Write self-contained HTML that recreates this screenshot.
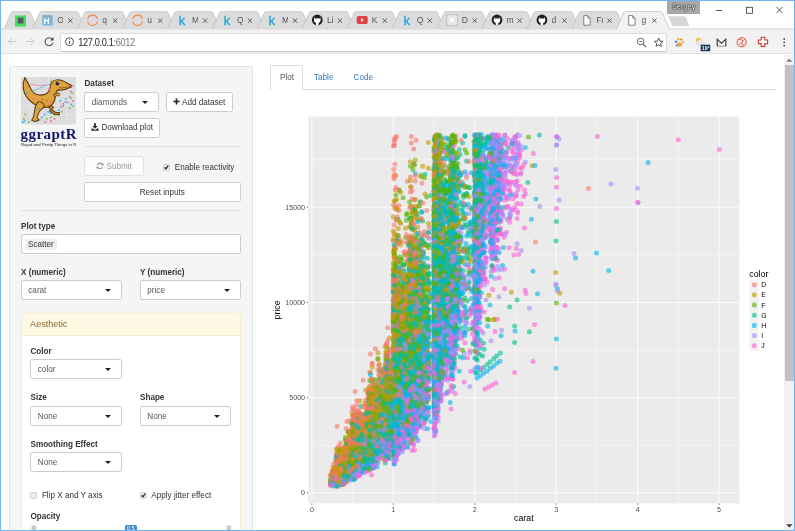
<!DOCTYPE html><html><head><meta charset="utf-8"><title>ggraptR</title><style>
html,body{margin:0;padding:0;}
body{width:795px;height:531px;overflow:hidden;background:#fff;font-family:"Liberation Sans",sans-serif;font-size:8.15px;color:#333;position:relative;}
*{box-sizing:border-box;}
.abs{position:absolute;}
#win{position:absolute;left:0;top:0;width:795px;height:531px;border:1px solid #74b4ee;overflow:hidden;background:#fff;}
#toolbar{position:absolute;left:0;top:28.5px;width:793px;height:24.5px;background:#f2f2f2;border-bottom:1px solid #e2e2e2;}
#omni{position:absolute;left:58.7px;top:32px;width:607.3px;height:18.6px;background:#fff;border:1px solid #dadada;border-bottom-color:#c8c8c8;border-radius:2px;}
#url{position:absolute;left:77.3px;top:36.5px;font-size:9.2px;line-height:11px;color:#222;letter-spacing:-0.35px;transform:scaleY(1.16);transform-origin:0 78%;}
#url span{color:#777;}
.tt{position:absolute;top:14.4px;font-size:8.5px;line-height:11px;color:#555;width:6.2px;overflow:hidden;white-space:nowrap;}
.tx{position:absolute;top:13.6px;font-size:8.4px;line-height:10px;color:#555;}
#user{position:absolute;left:666px;top:0;width:33.3px;height:12.7px;background:#a9a9a9;color:#fff;font-size:7.4px;line-height:12.6px;text-align:center;text-shadow:0 0 1.2px #000,0 0 1.2px #000,0 0 0.8px #000;}
#page{position:absolute;left:0;top:53.5px;width:783px;height:476px;background:#fff;overflow:hidden;}
.well{position:absolute;left:8px;top:11.5px;width:244px;height:480px;background:#f5f5f5;border:1px solid #e3e3e3;border-radius:2.3px;}
.lbl{position:absolute;font-weight:bold;font-size:8.15px;line-height:11.3px;color:#333;white-space:nowrap;}
.txt{position:absolute;font-size:8.15px;line-height:11.3px;color:#333;white-space:nowrap;}
.sel{position:absolute;height:19.9px;background:#fff;border:1px solid #ccc;border-radius:2.3px;font-size:8.15px;line-height:18.6px;padding-top:0.8px;padding-left:6.8px;color:#555;white-space:nowrap;}
.sel:after{content:"";position:absolute;right:10px;top:7.6px;border-left:3px solid transparent;border-right:3px solid transparent;border-top:3.2px solid #222;}
.sel.na:after{display:none;}
.btn{position:absolute;height:19.9px;background:#fff;border:1px solid #ccc;border-radius:2.3px;font-size:8.15px;line-height:18.6px;padding-top:0.6px;color:#333;text-align:center;white-space:nowrap;}
.hr{position:absolute;height:1px;background:#e2e2e2;}
.cb{position:absolute;width:6px;height:6px;border:0.7px solid #a6a6a6;background:#f6f6f6;border-radius:1.2px;}
.cb.on:after{content:"";position:absolute;left:1.3px;top:-0.2px;width:1.6px;height:3.2px;border-right:1.1px solid #222;border-bottom:1.1px solid #222;transform:rotate(40deg);}
#aes{position:absolute;left:19.6px;top:258.6px;width:220.6px;height:240px;background:#fff;border:1px solid #faebcc;border-radius:2.3px;}
#aesh{position:absolute;left:0;top:0;width:218.6px;height:22px;background:#fcf8e3;border-bottom:1px solid #faebcc;color:#8a6d3b;font-size:9.07px;line-height:21.4px;padding-left:8.5px;}
.nav{position:absolute;font-size:8.15px;line-height:11.3px;color:#337ab7;}
#navline{position:absolute;left:268.7px;top:34.6px;width:506.3px;height:1px;background:#ddd;}
#navact{position:absolute;left:268.7px;top:10.8px;width:33.6px;height:24.8px;border:1px solid #ddd;border-bottom:1px solid #fff;border-radius:2.3px 2.3px 0 0;background:#fff;}
#sb{position:absolute;left:783px;top:53.5px;width:10px;height:476px;background:#f1f1f1;}
#sbt{position:absolute;left:0.6px;top:10.2px;width:9.4px;height:316.3px;background:#c1c1c1;}
</style></head><body><div id="win">
<svg class="abs" style="left:-1px;top:-1px" width="795" height="31" viewBox="0 0 795 31"><rect x="0" y="28.6" width="795" height="0.8" fill="#bdbdbd"/><path d="M4.0 29 L11.0 13.0 Q11.6 11.6 13.0 11.6 L28.5 11.6 Q29.9 11.6 30.5 13.0 L37.5 29" fill="#dcdcdc" stroke="#b9b9b9" stroke-width="0.6"/><path d="M32.5 29 L39.5 13.0 Q40.1 11.6 41.5 11.6 L76.3 11.6 Q77.7 11.6 78.3 13.0 L85.3 29" fill="#dcdcdc" stroke="#b9b9b9" stroke-width="0.6"/><path d="M77.4 29 L84.4 13.0 Q85.0 11.6 86.4 11.6 L121.2 11.6 Q122.6 11.6 123.2 13.0 L130.2 29" fill="#dcdcdc" stroke="#b9b9b9" stroke-width="0.6"/><path d="M122.4 29 L129.4 13.0 Q130.0 11.6 131.4 11.6 L166.2 11.6 Q167.6 11.6 168.2 13.0 L175.2 29" fill="#dcdcdc" stroke="#b9b9b9" stroke-width="0.6"/><path d="M167.3 29 L174.3 13.0 Q174.9 11.6 176.3 11.6 L211.1 11.6 Q212.5 11.6 213.1 13.0 L220.1 29" fill="#dcdcdc" stroke="#b9b9b9" stroke-width="0.6"/><path d="M212.2 29 L219.2 13.0 Q219.8 11.6 221.2 11.6 L256.0 11.6 Q257.4 11.6 258.0 13.0 L265.0 29" fill="#dcdcdc" stroke="#b9b9b9" stroke-width="0.6"/><path d="M257.1 29 L264.1 13.0 Q264.8 11.6 266.1 11.6 L300.9 11.6 Q302.3 11.6 302.9 13.0 L309.9 29" fill="#dcdcdc" stroke="#b9b9b9" stroke-width="0.6"/><path d="M302.1 29 L309.1 13.0 Q309.7 11.6 311.1 11.6 L345.9 11.6 Q347.3 11.6 347.9 13.0 L354.9 29" fill="#dcdcdc" stroke="#b9b9b9" stroke-width="0.6"/><path d="M347.0 29 L354.0 13.0 Q354.6 11.6 356.0 11.6 L390.8 11.6 Q392.2 11.6 392.8 13.0 L399.8 29" fill="#dcdcdc" stroke="#b9b9b9" stroke-width="0.6"/><path d="M391.9 29 L398.9 13.0 Q399.5 11.6 400.9 11.6 L435.7 11.6 Q437.1 11.6 437.7 13.0 L444.7 29" fill="#dcdcdc" stroke="#b9b9b9" stroke-width="0.6"/><path d="M436.9 29 L443.9 13.0 Q444.5 11.6 445.9 11.6 L480.7 11.6 Q482.1 11.6 482.7 13.0 L489.7 29" fill="#dcdcdc" stroke="#b9b9b9" stroke-width="0.6"/><path d="M481.8 29 L488.8 13.0 Q489.4 11.6 490.8 11.6 L525.6 11.6 Q527.0 11.6 527.6 13.0 L534.6 29" fill="#dcdcdc" stroke="#b9b9b9" stroke-width="0.6"/><path d="M526.7 29 L533.7 13.0 Q534.3 11.6 535.7 11.6 L570.5 11.6 Q571.9 11.6 572.5 13.0 L579.5 29" fill="#dcdcdc" stroke="#b9b9b9" stroke-width="0.6"/><path d="M571.7 29 L578.7 13.0 Q579.3 11.6 580.7 11.6 L615.5 11.6 Q616.9 11.6 617.5 13.0 L624.5 29" fill="#dcdcdc" stroke="#b9b9b9" stroke-width="0.6"/><path d="M667.8 16.3 L684.5 16.3 Q685.4 16.3 685.8 17.2 L689.3 26.3 L673.8 26.3 Q672.8 26.3 672.3 25.3 Z" fill="#d6d6d6"/><path d="M616.6 29 L623.6 13.0 Q624.2 11.6 625.6 11.6 L660.4 11.6 Q661.8 11.6 662.4 13.0 L669.4 29" fill="#f2f2f2" stroke="#b0b0b0" stroke-width="0.6"/><rect x="617.2" y="28.5" width="51.6" height="1.4" fill="#f2f2f2"/><rect x="42.2" y="15" width="10.5" height="10.5" rx="1" fill="#7fb2d6"/><text x="43.400000000000006" y="23.5" font-family="Liberation Sans,sans-serif" font-size="8.5" font-weight="bold" fill="#fff">H</text><path d="M87.7 19.1 A5 5 0 0 1 97.5 19.1" fill="none" stroke="#f08a45" stroke-width="1.15"/><path d="M87.7 21.5 A5 5 0 0 0 97.5 21.5" fill="none" stroke="#f08a45" stroke-width="1.15"/><path d="M132.7 19.1 A5 5 0 0 1 142.5 19.1" fill="none" stroke="#f08a45" stroke-width="1.15"/><path d="M132.7 21.5 A5 5 0 0 0 142.5 21.5" fill="none" stroke="#f08a45" stroke-width="1.15"/><text x="178.8" y="25" font-family="Liberation Sans,sans-serif" font-size="13" fill="#22a6dc" stroke="#22a6dc" stroke-width="0.35">k</text><text x="223.7" y="25" font-family="Liberation Sans,sans-serif" font-size="13" fill="#22a6dc" stroke="#22a6dc" stroke-width="0.35">k</text><text x="268.6" y="25" font-family="Liberation Sans,sans-serif" font-size="13" fill="#22a6dc" stroke="#22a6dc" stroke-width="0.35">k</text><circle cx="317.28" cy="20" r="5.4" fill="#1b1f23"/><path d="M314.38 16.8 L315.08 18.7 Q317.28 18 319.47999999999996 18.7 L320.17999999999995 16.8 L320.58 19.6 Q320.88 22.6 318.58 22.8 L318.58 25.4 L315.97999999999996 25.4 L315.97999999999996 22.8 Q313.67999999999995 22.6 313.97999999999996 19.6 Z" fill="#fff"/><rect x="356.71" y="16" width="11" height="8" rx="2" fill="#e0413e"/><path d="M361.01 18 L364.01 20 L361.01 22 Z" fill="#fff"/><text x="403.4" y="25" font-family="Liberation Sans,sans-serif" font-size="13" fill="#22a6dc" stroke="#22a6dc" stroke-width="0.35">k</text><rect x="446.87" y="14.8" width="10.5" height="10.5" fill="#eee" stroke="#888" stroke-width="0.7" stroke-dasharray="1 0.8"/><circle cx="452.07" cy="20" r="3.2" fill="#fff" stroke="#bbb" stroke-width="0.5"/><circle cx="497.0" cy="20" r="5.4" fill="#1b1f23"/><path d="M494.1 16.8 L494.8 18.7 Q497.0 18 499.2 18.7 L499.9 16.8 L500.3 19.6 Q500.6 22.6 498.3 22.8 L498.3 25.4 L495.7 25.4 L495.7 22.8 Q493.4 22.6 493.7 19.6 Z" fill="#fff"/><circle cx="541.9300000000001" cy="20" r="5.4" fill="#1b1f23"/><path d="M539.0300000000001 16.8 L539.73 18.7 Q541.9300000000001 18 544.1300000000001 18.7 L544.83 16.8 L545.23 19.6 Q545.5300000000001 22.6 543.23 22.8 L543.23 25.4 L540.6300000000001 25.4 L540.6300000000001 22.8 Q538.33 22.6 538.6300000000001 19.6 Z" fill="#fff"/><path d="M583.8 15.6 H587.7 L590.2 18.1 V25.2 H583.8 Z" fill="#fff" stroke="#666" stroke-width="0.8"/><path d="M587.7 15.6 V18.1 H590.2" fill="none" stroke="#666" stroke-width="0.7"/><path d="M628.7 15.6 H632.6 L635.1 18.1 V25.2 H628.7 Z" fill="#fff" stroke="#666" stroke-width="0.8"/><path d="M632.6 15.6 V18.1 H635.1" fill="none" stroke="#666" stroke-width="0.7"/><rect x="15" y="15.5" width="11" height="11" fill="#3fe05f"/><rect x="17.8" y="17.7" width="5.6" height="5.8" fill="#5a5560"/><path d="M68.2 18.5 L72.4 22.7 M72.4 18.5 L68.2 22.7" stroke="#505050" stroke-width="0.95" fill="none"/><path d="M113.1 18.5 L117.3 22.7 M117.3 18.5 L113.1 22.7" stroke="#505050" stroke-width="0.95" fill="none"/><path d="M158.1 18.5 L162.3 22.7 M162.3 18.5 L158.1 22.7" stroke="#505050" stroke-width="0.95" fill="none"/><path d="M203.0 18.5 L207.2 22.7 M207.2 18.5 L203.0 22.7" stroke="#505050" stroke-width="0.95" fill="none"/><path d="M247.9 18.5 L252.1 22.7 M252.1 18.5 L247.9 22.7" stroke="#505050" stroke-width="0.95" fill="none"/><path d="M292.8 18.5 L297.1 22.7 M297.1 18.5 L292.8 22.7" stroke="#505050" stroke-width="0.95" fill="none"/><path d="M337.8 18.5 L342.0 22.7 M342.0 18.5 L337.8 22.7" stroke="#505050" stroke-width="0.95" fill="none"/><path d="M382.7 18.5 L386.9 22.7 M386.9 18.5 L382.7 22.7" stroke="#505050" stroke-width="0.95" fill="none"/><path d="M427.6 18.5 L431.8 22.7 M431.8 18.5 L427.6 22.7" stroke="#505050" stroke-width="0.95" fill="none"/><path d="M472.6 18.5 L476.8 22.7 M476.8 18.5 L472.6 22.7" stroke="#505050" stroke-width="0.95" fill="none"/><path d="M517.5 18.5 L521.7 22.7 M521.7 18.5 L517.5 22.7" stroke="#505050" stroke-width="0.95" fill="none"/><path d="M562.4 18.5 L566.6 22.7 M566.6 18.5 L562.4 22.7" stroke="#505050" stroke-width="0.95" fill="none"/><path d="M607.4 18.5 L611.6 22.7 M611.6 18.5 L607.4 22.7" stroke="#505050" stroke-width="0.95" fill="none"/><path d="M652.3 18.5 L656.5 22.7 M656.5 18.5 L652.3 22.7" stroke="#505050" stroke-width="0.95" fill="none"/><path d="M716 10.5 H722" stroke="#333" stroke-width="0.8"/><rect x="746.5" y="7.3" width="6" height="6" fill="none" stroke="#333" stroke-width="0.8"/><path d="M776.5 7 L782.5 13 M782.5 7 L776.5 13" stroke="#333" stroke-width="0.8"/></svg>
<div class="tt" style="left:56.3px">O</div>
<div class="tt" style="left:101.2px">q</div>
<div class="tt" style="left:146.2px">u</div>
<div class="tt" style="left:191.1px">M</div>
<div class="tt" style="left:236.0px">Q</div>
<div class="tt" style="left:280.9px">M</div>
<div class="tt" style="left:325.9px">Li</div>
<div class="tt" style="left:370.8px">K</div>
<div class="tt" style="left:415.7px">Q</div>
<div class="tt" style="left:460.7px">D</div>
<div class="tt" style="left:505.6px">m</div>
<div class="tt" style="left:550.5px">d</div>
<div class="tt" style="left:595.5px">Fr</div>
<div class="tt" style="left:640.4px">g</div>
<div id="user">Sergey</div>
<div id="toolbar"></div><div id="omni"></div>
<div id="url">127.0.0.1<span>:6012</span></div>
<svg class="abs" style="left:-1px;top:-1px" width="795" height="60" viewBox="0 0 795 60"><path d="M16.5 41.5 H8.5 M12 38 L8.5 41.5 L12 45" fill="none" stroke="#cacaca" stroke-width="1"/><path d="M26 41.5 H34 M30.5 38 L34 41.5 L30.5 45" fill="none" stroke="#cacaca" stroke-width="1"/><path d="M52.2 39.2 A4 4 0 1 0 53 42.6" fill="none" stroke="#4a4a4a" stroke-width="1.05"/><path d="M53.5 37 V40.4 H50.1 Z" fill="#4a4a4a"/><circle cx="69.5" cy="41.7" r="4" fill="none" stroke="#444" stroke-width="0.9"/><path d="M69.5 40.9 V44 M69.5 39.2 V40" stroke="#444" stroke-width="0.9"/><g transform="translate(1.2 0.7)"><circle cx="639.5" cy="40.8" r="3.3" fill="none" stroke="#555" stroke-width="0.9"/><path d="M642 43.4 L645 46.4" stroke="#555" stroke-width="1.1"/><path d="M638 40.8 H641" stroke="#555" stroke-width="0.8"/><polygon points="657.5,37.4 658.7,40.4 661.9,40.6 659.4,42.6 660.2,45.7 657.5,44.0 654.8,45.7 655.6,42.6 653.1,40.6 656.3,40.4" fill="none" stroke="#444" stroke-width="0.9"/><g transform="translate(-1.5 0)"><circle cx="676.3" cy="41" r="1.3" fill="#4a90d9"/><circle cx="678.6" cy="38.6" r="1.3" fill="#e8b53a"/><circle cx="681.6" cy="38.8" r="1.3" fill="#e9903a"/><circle cx="683.4" cy="41.4" r="1.2" fill="#e8b53a"/><ellipse cx="679.8" cy="43.8" rx="2.6" ry="2.2" fill="#e9a23a"/><circle cx="677" cy="44.8" r="1" fill="#4a90d9"/></g><circle cx="697.5" cy="40" r="3" fill="#f2c43d"/><path d="M696 44.5 a2.2 2.2 0 0 1 1 -4.2 a3 3 0 0 1 5.6 0.6 a1.9 1.9 0 0 1 0.2 3.6 Z" fill="#e6e6e6" stroke="#cfcfcf" stroke-width="0.3"/><rect x="699.5" y="44" width="9.5" height="6.5" fill="#1d2f5f"/><text x="700.6" y="49.4" font-family="Liberation Sans,sans-serif" font-size="5.2" font-weight="bold" fill="#fff">19°</text><path d="M716 45.5 V38.5 L720.3 42.5 L724.6 38.5 V45.5" fill="none" stroke="#333" stroke-width="1.1"/><path d="M716 45.5 H724.6" stroke="#333" stroke-width="0.5"/><circle cx="740.5" cy="41.5" r="4.6" fill="#fbe9e7" stroke="#e0533d" stroke-width="1"/><path d="M738 38.8 Q743 38.8 741 41.5 Q738.5 44 743 44.4" fill="none" stroke="#e0533d" stroke-width="1"/><path d="M737.4 44.6 L743.6 38.4" stroke="#e0533d" stroke-width="0.6"/><path transform="translate(1 -0.5)" d="M759 37 H762.6 V39.8 H765.4 V43.4 H762.6 V46.2 H759 V43.4 H756.2 V39.8 H759 Z" fill="#fff" stroke="#cf3b2e" stroke-width="1.1"/><circle cx="783" cy="38.3" r="0.9" fill="#444"/><circle cx="783" cy="41.6" r="0.9" fill="#444"/><circle cx="783" cy="44.9" r="0.9" fill="#444"/></g></svg>
<div id="page">
<div class="well"></div>
<svg class="abs" style="left:20.0px;top:22.9px" width="54.8" height="47.6" viewBox="35 38 383 332"><rect x="35" y="38" width="383" height="332" fill="#dcdcdc"/><path d="M35 104H418M35 170H418M35 236H418M35 302H418M99 38V370M163 38V370M227 38V370M291 38V370M355 38V370" stroke="#e9e9e9" stroke-width="5" fill="none"/><polyline points="72,92 86,86 97,98 110,86 122,97 136,90 150,101 166,95 186,100 200,92 215,98" stroke="#f36aa8" fill="none" stroke-width="5"/><polyline points="78,160 112,138 150,122 200,100 245,84" stroke="#4dbbe8" fill="none" stroke-width="5"/><rect x="394" y="94" width="12" height="12" fill="#f36aa8"/><rect x="379" y="134" width="12" height="12" fill="#f36aa8"/><rect x="369" y="169" width="12" height="12" fill="#f36aa8"/><rect x="392" y="199" width="12" height="12" fill="#f36aa8"/><rect x="309" y="239" width="12" height="12" fill="#f36aa8"/><rect x="264" y="324" width="12" height="12" fill="#f36aa8"/><rect x="239" y="339" width="12" height="12" fill="#f36aa8"/><rect x="199" y="346" width="12" height="12" fill="#f36aa8"/><rect x="324" y="219" width="12" height="12" fill="#f36aa8"/><rect x="114" y="189" width="12" height="12" fill="#f36aa8"/><rect x="354" y="209" width="12" height="12" fill="#f36aa8"/><rect x="344" y="184" width="12" height="12" fill="#3fb4ea"/><rect x="324" y="234" width="12" height="12" fill="#3fb4ea"/><rect x="294" y="264" width="12" height="12" fill="#3fb4ea"/><rect x="234" y="284" width="12" height="12" fill="#3fb4ea"/><rect x="174" y="314" width="12" height="12" fill="#3fb4ea"/><rect x="144" y="339" width="12" height="12" fill="#3fb4ea"/><rect x="54" y="339" width="12" height="12" fill="#3fb4ea"/><rect x="42" y="346" width="12" height="12" fill="#3fb4ea"/><rect x="304" y="199" width="12" height="12" fill="#3fb4ea"/><rect x="379" y="224" width="12" height="12" fill="#3fb4ea"/><rect x="339" y="206" width="12" height="12" fill="#3fb4ea"/><rect x="194" y="294" width="12" height="12" fill="#3fb4ea"/><rect x="219" y="276" width="12" height="12" fill="#3fb4ea"/><rect x="389" y="144" width="12" height="12" fill="#7dc243"/><rect x="379" y="179" width="12" height="12" fill="#7dc243"/><rect x="394" y="234" width="12" height="12" fill="#7dc243"/><rect x="369" y="249" width="12" height="12" fill="#7dc243"/><rect x="294" y="299" width="12" height="12" fill="#7dc243"/><rect x="239" y="314" width="12" height="12" fill="#7dc243"/><rect x="159" y="329" width="12" height="12" fill="#7dc243"/><rect x="84" y="346" width="12" height="12" fill="#7dc243"/><rect x="59" y="294" width="12" height="12" fill="#7dc243"/><rect x="49" y="324" width="12" height="12" fill="#7dc243"/><rect x="314" y="274" width="12" height="12" fill="#7dc243"/><rect x="274" y="294" width="12" height="12" fill="#7dc243"/><rect x="209" y="324" width="12" height="12" fill="#7dc243"/><path d="M225 222 L262 248 L250 268 L276 284 L304 286 L300 300 L268 300 L236 276 L238 254 L205 238 Z" fill="#c4842a" stroke="#5e3b12" stroke-width="7" stroke-linejoin="round"/><path d="M62 42 C40 95 48 165 100 205 C120 222 140 234 158 246 C185 258 228 252 248 234 C268 214 274 192 276 168 C278 148 282 134 292 128 C322 134 352 126 386 108 C390 99 384 90 374 89 C357 85 347 70 320 62 C295 54 262 56 247 80 C237 98 240 122 228 140 C216 156 192 164 170 164 C140 164 114 148 100 112 C88 88 76 66 62 42 Z" fill="#dfa23c" stroke="#5e3b12" stroke-width="8" stroke-linejoin="round"/><path d="M300 112 C330 116 355 110 378 102" fill="none" stroke="#5e3b12" stroke-width="4"/><path d="M150 236 C185 250 225 246 245 228 C225 236 185 238 150 222 Z" fill="#c4842a"/><path d="M150 215 C165 205 195 215 198 240 C190 262 165 268 158 290 L148 322 L160 340 L128 348 L110 340 L122 318 L128 285 C130 262 135 240 150 215 Z" fill="#dfa23c" stroke="#5e3b12" stroke-width="7" stroke-linejoin="round"/><path d="M262 160 L298 148 L306 160 L298 172 L288 166 L270 176 Z" fill="#dfa23c" stroke="#5e3b12" stroke-width="6" stroke-linejoin="round"/><ellipse cx="290" cy="83" rx="13" ry="14" fill="#1c2436"/><circle cx="294" cy="78" r="3.5" fill="#fff"/><rect x="226" y="114" width="12" height="12" fill="#f36aa8"/><rect x="239" y="62" width="12" height="12" fill="#7dc243"/><rect x="69" y="144" width="12" height="12" fill="#3fb4ea"/><rect x="114" y="184" width="12" height="12" fill="#f36aa8"/><rect x="154" y="256" width="12" height="12" fill="#3fb4ea"/><rect x="239" y="209" width="12" height="12" fill="#f36aa8"/><rect x="179" y="189" width="12" height="12" fill="#b97922"/><rect x="209" y="199" width="12" height="12" fill="#b97922"/></svg>
<div class="abs" style="left:19.6px;top:69.3px;font-family:'Liberation Serif',serif;font-weight:bold;font-size:15px;line-height:20px;color:#14146e;letter-spacing:0.45px">ggraptR</div>
<div class="abs" style="left:20.0px;top:88.1px;width:200px;font-size:8px;line-height:8px;color:#222;white-space:nowrap;transform:scale(0.54);transform-origin:0 0">Rapid and Pretty Things in R</div>
<div class="lbl" style="left:83.5px;top:23.8px">Dataset</div>
<div class="sel" style="left:83.0px;top:37.8px;width:74.6px">diamonds</div>
<div class="btn" style="left:164.5px;top:37.8px;width:67.6px;"><svg width="7" height="7" viewBox="0 0 7 7" style="vertical-align:-0.6px"><path d="M3.5 0.4V6.6M0.4 3.5H6.6" stroke="#222" stroke-width="1.7" fill="none"/></svg> Add dataset</div>
<div class="btn" style="left:83.0px;top:63.2px;width:76.1px;"><svg width="8" height="8" viewBox="0 0 8 8" style="vertical-align:-1px"><path d="M3 0.3 H5 V3 H6.8 L4 5.8 L1.2 3 H3 Z" fill="#333"/><path d="M0.4 5.6 H2 L4 7 L6 5.6 H7.6 V7.7 H0.4 Z" fill="#333"/></svg> Download plot</div>
<div class="hr" style="left:83.5px;top:91.8px;width:157px"></div>
<div class="btn" style="left:83.0px;top:101.6px;width:60.1px;color:#9a9a9a;border-color:#e0e0e0;background:#fcfcfc"><svg width="8" height="8" viewBox="0 0 8 8" style="vertical-align:-1px"><path d="M6.6 3 A2.8 2.8 0 0 0 1.4 3" fill="none" stroke="#999" stroke-width="1.3"/><path d="M1.4 5 A2.8 2.8 0 0 0 6.6 5" fill="none" stroke="#999" stroke-width="1.1"/><path d="M7.6 0.9 V3.5 H5 Z M0.4 7.1 V4.5 H3 Z" fill="#999"/></svg> Submit</div>
<svg class="abs" style="left:161.8px;top:109.5px" width="7" height="7" viewBox="0 0 7 7"><rect x="0.4" y="0.4" width="6" height="5.9" rx="1.2" fill="#ededed" stroke="#b3b3b3" stroke-width="0.6"/><path d="M1.6 3.4 L2.9 4.8 L5.2 1.7" fill="none" stroke="#1c1c1c" stroke-width="1.25"/></svg>
<div class="txt" style="left:173.8px;top:107.6px;">Enable reactivity</div>
<div class="btn" style="left:83.0px;top:127.7px;width:156.6px;">Reset inputs</div>
<div class="hr" style="left:20.0px;top:155.5px;width:220.5px"></div>
<div class="lbl" style="left:20.0px;top:166.6px">Plot type</div>
<div class="sel na" style="left:19.5px;top:179.5px;width:220.2px;padding-left:3.4px"><span style="background:#efefef;padding:1.1px 3.1px;border-radius:1.5px;color:#333">Scatter</span></div>
<div class="lbl" style="left:20.0px;top:212.6px">X (numeric)</div>
<div class="lbl" style="left:139.0px;top:212.6px">Y (numeric)</div>
<div class="sel" style="left:19.5px;top:225.8px;width:101.1px">carat</div>
<div class="sel" style="left:138.5px;top:225.8px;width:101.1px">price</div>
<div id="aes"><div id="aesh">Aesthetic</div></div>
<div class="lbl" style="left:29.5px;top:291.4px">Color</div>
<div class="sel" style="left:29.0px;top:304.7px;width:91.6px">color</div>
<div class="lbl" style="left:29.5px;top:337.9px">Size</div>
<div class="lbl" style="left:139.0px;top:337.9px">Shape</div>
<div class="sel" style="left:29.0px;top:351.7px;width:91.6px">None</div>
<div class="sel" style="left:138.5px;top:351.7px;width:91.6px">None</div>
<div class="lbl" style="left:29.5px;top:384.1px">Smoothing Effect</div>
<div class="sel" style="left:29.0px;top:397.7px;width:91.6px">None</div>
<svg class="abs" style="left:29.2px;top:437.7px" width="7" height="7" viewBox="0 0 7 7"><rect x="0.4" y="0.4" width="6" height="5.9" rx="1.2" fill="#ededed" stroke="#b3b3b3" stroke-width="0.6"/></svg>
<div class="txt" style="left:40.9px;top:435.9px;">Flip X and Y axis</div>
<svg class="abs" style="left:139.1px;top:437.7px" width="7" height="7" viewBox="0 0 7 7"><rect x="0.4" y="0.4" width="6" height="5.9" rx="1.2" fill="#ededed" stroke="#b3b3b3" stroke-width="0.6"/><path d="M1.6 3.4 L2.9 4.8 L5.2 1.7" fill="none" stroke="#1c1c1c" stroke-width="1.25"/></svg>
<div class="txt" style="left:150.3px;top:435.9px;">Apply jitter effect</div>
<div class="lbl" style="left:29.5px;top:456.4px">Opacity</div>
<div class="abs" style="left:30.0px;top:470.7px;width:5.5px;height:8px;background:#e1e4e9;border-radius:1.5px;font-size:5.6px;line-height:7px;text-align:center;color:#888">0</div>
<div class="abs" style="left:225.0px;top:470.7px;width:5.5px;height:8px;background:#e1e4e9;border-radius:1.5px;font-size:5.6px;line-height:7px;text-align:center;color:#888">1</div>
<div class="abs" style="left:123.5px;top:470.5px;width:12.5px;height:8px;background:#428bca;border-radius:1.5px;font-size:5.6px;line-height:7.4px;text-align:center;color:#fff">0.5</div>
<div id="navline"></div><div id="navact"></div>
<div class="nav" style="left:279.0px;top:17.7px;color:#555">Plot</div>
<div class="nav" style="left:313.0px;top:17.7px">Table</div>
<div class="nav" style="left:352.6px;top:17.7px">Code</div>
<svg class="abs" style="left:0;top:0" width="785" height="476" viewBox="1 54.5 785 476" font-family="Liberation Sans,sans-serif">
<rect x="308.3" y="116.0" width="431.0" height="386.9" fill="#ebebeb"/>
<path d="M352.6 116.0V502.9M434.1 116.0V502.9M515.5 116.0V502.9M596.9 116.0V502.9M678.4 116.0V502.9M308.3 444.7H739.3M308.3 349.6H739.3M308.3 254.4H739.3M308.3 159.2H739.3" stroke="#f9f9f9" stroke-width="0.6" fill="none"/>
<path d="M311.9 116.0V502.9M393.3 116.0V502.9M474.8 116.0V502.9M556.2 116.0V502.9M637.7 116.0V502.9M719.1 116.0V502.9M308.3 492.3H739.3M308.3 397.1H739.3M308.3 302.0H739.3M308.3 206.8H739.3" stroke="#fff" stroke-width="0.9" stroke-opacity="0.92" fill="none"/>
<g fill="none" stroke-linecap="round" stroke-width="5.0" stroke-opacity="0.6">
<path stroke="#00B6EB" d="M491.9 218.3h0M474.0 172.4h0M420.2 336.4h0M492.7 216.9h0M500.0 197.3h0M444.6 254.9h0M492.7 194.5h0M439.8 239.2h0M500.8 180.2h0M491.1 241.4h0M405.6 351.8h0M453.6 262.7h0M455.2 222.9h0M439.8 330.7h0M355.1 478.2h0M377.9 407.3h0M382.8 407.0h0M436.5 385.4h0M434.9 379.8h0M475.6 296.7h0M434.1 359.4h0M434.9 245.9h0M456.0 240.8h0M426.7 305.5h0M418.6 327.3h0M498.4 171.9h0M476.4 189.5h0M375.4 452.7h0M475.6 152.9h0M474.8 268.2h0M450.3 260.3h0M417.8 414.0h0M457.7 182.5h0M452.8 235.9h0M434.1 357.2h0M452.0 302.2h0M451.2 316.1h0M459.3 270.6h0M491.9 148.6h0M500.0 360.8h0M434.9 281.2h0M397.4 327.6h0M499.2 182.7h0M477.2 269.0h0M404.7 372.0h0M438.1 382.5h0M434.9 336.0h0M435.7 305.9h0M401.5 412.5h0M475.6 263.3h0M437.3 269.6h0M475.6 194.4h0M419.4 380.4h0M405.6 364.7h0M434.9 418.0h0M492.7 196.8h0M435.7 393.9h0M364.0 450.1h0M434.9 322.8h0M415.3 346.8h0M402.3 411.0h0M447.1 293.6h0M436.5 322.3h0M452.0 275.7h0M490.3 219.6h0M412.1 406.4h0M409.6 357.4h0M397.4 415.3h0M451.2 348.5h0M452.8 324.0h0M404.7 419.0h0M410.4 413.0h0M434.9 406.7h0M448.7 325.8h0M364.8 432.0h0M398.2 422.2h0M482.9 179.8h0M477.2 200.9h0M449.5 215.9h0M487.0 193.2h0M410.4 343.3h0M365.7 453.0h0M379.5 413.0h0M429.2 368.5h0M411.3 329.8h0M404.7 309.0h0M409.6 415.9h0M364.8 450.0h0M475.6 206.7h0M455.2 265.5h0M406.4 402.9h0M380.3 428.9h0M393.3 388.4h0M389.3 400.4h0M370.5 458.9h0M397.4 375.9h0M353.4 461.4h0M450.3 223.7h0M474.8 193.5h0M345.3 478.3h0M399.0 361.6h0M345.3 480.5h0M345.3 476.7h0"/>
<path stroke="#53B400" d="M449.5 249.7h0M474.0 140.8h0M475.6 164.3h0M452.8 136.1h0M422.7 398.4h0M402.3 350.9h0M434.1 379.0h0M438.1 397.8h0M453.6 212.0h0M408.0 303.8h0M413.7 314.1h0M426.7 280.1h0M406.4 214.2h0M476.4 178.6h0M414.5 367.4h0M439.8 253.8h0M360.8 415.4h0M368.1 418.8h0M407.2 312.2h0M404.7 321.3h0M423.5 319.4h0M434.1 169.3h0M447.9 232.0h0M334.7 471.8h0M401.5 306.5h0M436.5 249.6h0M419.4 326.6h0M446.3 155.8h0M392.5 361.0h0M435.7 316.5h0M434.9 151.7h0M451.2 358.6h0M358.3 431.7h0M408.0 371.7h0M378.7 443.5h0M456.0 166.4h0M434.1 265.2h0M413.7 296.9h0M409.6 376.6h0M351.0 453.0h0M413.7 310.0h0M359.9 436.7h0M397.4 418.8h0M434.9 281.8h0M409.6 385.5h0M397.4 409.7h0M487.2 318.7h0M418.6 373.4h0M489.4 171.3h0M480.5 236.0h0M397.4 426.2h0M476.4 259.8h0M434.9 248.8h0M399.9 331.5h0M400.7 383.4h0M394.2 342.6h0M394.2 388.8h0M338.8 466.5h0M394.2 356.4h0M331.4 478.2h0M352.6 472.6h0M410.4 360.8h0M386.0 389.1h0M428.4 360.7h0M475.6 183.6h0M356.7 454.1h0M372.2 453.6h0M390.9 431.5h0M371.4 453.5h0M393.3 398.1h0M345.3 459.5h0M355.9 457.1h0M338.8 472.0h0M355.1 462.1h0M397.4 350.6h0M410.4 297.0h0M390.1 403.7h0"/>
<path stroke="#C49A00" d="M372.2 401.3h0M412.1 267.4h0M382.8 396.5h0M381.9 398.7h0M417.0 240.8h0M386.0 376.2h0M333.1 472.3h0M401.5 328.3h0M393.3 270.4h0M390.1 378.2h0M368.9 410.1h0M411.3 206.1h0M414.5 283.6h0M443.8 273.2h0M437.3 272.9h0M434.1 223.9h0M435.7 174.1h0M399.0 343.4h0M437.3 163.3h0M375.4 410.7h0M422.7 339.3h0M396.6 330.2h0M372.2 397.7h0M409.6 315.6h0M410.4 310.2h0M435.7 297.0h0M405.6 421.2h0M456.0 217.3h0M399.9 339.2h0M438.1 312.8h0M435.7 205.6h0M360.8 429.5h0M418.6 341.3h0M451.2 235.0h0M397.4 324.4h0M435.7 289.4h0M359.9 440.3h0M400.7 368.3h0M399.9 293.2h0M419.4 279.1h0M400.7 346.5h0M412.9 270.7h0M410.4 357.2h0M443.0 298.7h0M398.2 334.8h0M376.2 422.1h0M398.2 343.1h0M414.5 317.0h0M417.8 296.9h0M411.3 276.4h0M402.3 388.5h0M409.6 364.5h0M372.2 398.6h0M369.7 405.0h0M434.1 224.8h0M399.9 420.7h0M394.2 363.9h0M346.9 452.7h0M397.4 365.3h0M355.1 477.4h0M373.0 427.9h0M417.8 342.9h0M395.8 344.4h0M361.6 454.8h0M439.8 299.1h0M412.1 217.8h0M356.7 458.7h0M394.2 249.4h0M400.7 351.0h0M438.1 248.5h0M355.9 454.5h0M348.5 467.2h0M403.9 326.7h0M381.1 423.0h0M354.2 460.9h0M354.2 462.3h0M340.4 468.6h0M339.6 474.1h0M362.4 456.7h0M336.3 473.8h0M338.8 476.9h0"/>
<path stroke="#F8766D" d="M436.5 263.8h0M396.6 321.9h0M345.3 445.2h0M409.6 291.4h0M393.3 297.0h0M387.6 379.7h0M359.1 430.0h0M407.2 282.7h0M394.2 278.3h0M387.6 327.2h0M376.2 385.5h0M397.4 297.1h0M377.1 412.9h0M394.2 286.3h0M368.9 392.3h0M355.1 416.9h0M352.6 423.5h0M373.8 408.8h0M390.1 419.6h0M357.5 471.1h0M362.4 450.7h0M356.7 400.3h0M410.4 345.0h0M360.8 441.9h0M352.6 406.2h0M386.8 356.9h0M452.8 177.7h0M448.7 205.8h0M398.2 284.5h0M400.7 266.9h0M405.6 252.6h0M415.3 314.5h0M460.9 256.9h0M412.9 321.7h0M368.9 400.5h0M373.0 433.7h0M346.9 440.5h0M382.8 422.7h0M423.5 275.6h0M413.7 258.5h0M434.1 239.7h0M350.2 466.9h0"/>
<path stroke="#A58AFF" d="M449.5 304.7h0M426.7 349.9h0M415.3 277.3h0M496.8 197.9h0M493.5 147.1h0M408.0 318.1h0M484.6 195.4h0M464.2 290.3h0M496.0 218.8h0M415.3 419.8h0M390.9 444.5h0M494.3 155.7h0M454.4 328.3h0M454.4 306.2h0M452.0 336.8h0M408.0 447.1h0M480.5 254.2h0M456.0 225.6h0M460.1 273.0h0M370.5 465.1h0M481.3 268.1h0M419.4 392.9h0M493.5 221.7h0M411.3 277.2h0M422.7 367.4h0M390.9 437.9h0M450.3 313.6h0M446.3 344.4h0M476.4 234.4h0M525.3 161.5h0M438.1 332.3h0M434.9 212.6h0M492.7 162.8h0M421.0 393.7h0M492.7 163.8h0M477.2 211.9h0M421.0 367.3h0M414.5 398.3h0M409.6 385.8h0M452.0 257.9h0M447.1 264.6h0M434.9 337.3h0M491.9 264.9h0M476.4 280.7h0M414.5 393.9h0M382.8 439.8h0M453.6 289.4h0M414.5 365.7h0M420.2 388.8h0M452.8 241.4h0M405.6 322.8h0M398.2 420.0h0M402.3 382.1h0M357.5 475.0h0M400.7 419.3h0M452.8 330.5h0M514.7 160.6h0M400.7 356.5h0M425.1 341.3h0M495.1 196.8h0M447.9 311.4h0M484.6 173.6h0M453.6 284.9h0M376.2 448.6h0M396.6 374.9h0M443.8 356.0h0M434.9 296.7h0M476.4 255.4h0M403.9 373.9h0M399.9 430.1h0M440.6 337.9h0M436.5 279.8h0M394.2 448.1h0M396.6 364.3h0M382.8 402.7h0M438.9 213.0h0M512.2 165.5h0M417.0 378.1h0M393.3 434.4h0M454.4 272.6h0M412.9 387.8h0M436.5 300.3h0M403.9 438.0h0M411.3 374.4h0M410.4 387.0h0M450.3 345.9h0M373.0 442.8h0M396.6 404.0h0M434.9 360.4h0M395.8 430.4h0M441.4 337.7h0"/>
<path stroke="#00C094" d="M399.0 261.0h0M428.4 414.9h0M444.6 331.2h0M438.9 157.0h0M484.0 348.8h0M438.1 356.3h0M434.9 141.4h0M403.9 264.1h0M386.8 366.6h0M527.8 182.0h0M447.9 310.1h0M434.9 201.3h0M418.6 367.4h0M425.9 418.4h0M425.1 331.2h0M482.1 246.1h0M421.8 318.3h0M409.6 278.5h0M456.9 184.1h0M440.6 382.6h0M476.4 135.7h0M476.4 246.0h0M419.4 343.8h0M412.9 312.7h0M435.7 406.6h0M494.3 149.1h0M434.9 325.5h0M439.8 320.1h0M414.5 311.7h0M415.3 334.6h0M414.5 335.7h0M434.9 355.8h0M464.2 224.6h0M419.4 364.8h0M481.3 187.4h0M410.4 389.5h0M434.9 297.8h0M440.6 246.7h0M478.0 254.8h0M405.6 359.7h0M421.0 294.3h0M414.5 414.1h0M410.4 406.9h0M475.6 185.8h0M396.6 298.7h0M368.9 467.3h0M442.2 247.5h0M452.0 246.9h0M377.1 415.9h0M482.1 200.0h0M403.9 400.5h0M479.7 195.6h0M435.7 259.5h0M417.0 326.9h0M424.3 388.0h0M403.1 332.6h0M435.7 269.7h0M407.2 375.0h0M400.7 363.5h0M475.6 232.6h0M410.4 393.3h0M441.4 224.7h0M412.9 308.8h0M353.4 434.9h0M411.3 404.0h0M477.2 167.8h0M408.8 317.1h0M360.8 439.2h0M435.7 273.3h0M434.1 293.8h0M426.7 308.4h0M380.3 421.2h0M426.7 380.2h0M434.9 176.2h0M381.1 423.8h0M451.2 291.6h0M422.7 314.2h0M398.2 412.3h0M478.0 233.8h0M396.6 362.9h0M399.0 362.5h0M482.9 235.1h0M451.2 192.1h0M379.5 434.6h0M396.6 412.8h0M465.0 264.1h0M477.2 163.9h0M421.8 318.9h0M435.7 377.2h0M482.9 230.1h0M407.2 358.8h0M425.1 278.2h0M499.2 139.4h0M352.6 476.2h0M422.7 220.6h0M441.4 271.7h0M474.8 160.0h0M417.8 282.9h0M435.7 301.5h0M372.2 393.9h0M369.7 458.6h0M422.7 350.2h0M352.6 477.1h0M386.0 396.1h0M452.8 288.0h0M396.6 408.6h0M491.9 253.0h0M454.4 316.7h0M417.8 373.9h0M435.7 184.5h0M394.2 431.1h0M349.4 476.3h0M374.6 454.4h0M408.0 344.7h0M407.2 340.7h0M400.7 276.4h0M434.9 331.1h0M412.9 383.8h0M437.3 295.4h0M333.9 476.7h0M408.0 343.2h0M408.0 331.2h0M395.8 372.5h0M377.9 453.2h0M394.2 350.7h0M359.9 468.5h0M400.7 381.8h0M394.2 426.1h0M409.6 385.6h0M394.2 418.7h0M455.2 215.8h0M395.0 408.2h0M386.0 429.7h0M393.3 395.2h0M373.0 434.2h0M368.9 437.9h0M414.5 369.1h0M434.9 291.3h0M360.8 405.8h0M390.9 414.3h0M394.2 434.3h0M397.4 401.9h0M387.6 414.0h0M373.0 446.4h0"/>
<path stroke="#FB61D7" d="M405.6 424.0h0M448.7 339.2h0M455.2 367.2h0M435.7 406.4h0M504.9 174.4h0M417.0 266.7h0M493.5 219.5h0M478.0 214.1h0M424.3 381.9h0M373.0 467.0h0M481.3 201.7h0M475.6 177.7h0M494.3 184.0h0M491.1 170.4h0M442.2 375.9h0M513.1 172.4h0M419.4 389.4h0M455.2 279.8h0M452.8 361.8h0M438.1 253.7h0M403.1 430.9h0M512.2 209.2h0M492.7 213.7h0M477.2 156.9h0M413.7 430.9h0M489.4 222.2h0M474.8 337.1h0M484.6 183.0h0M477.2 261.9h0M486.2 257.5h0M399.0 429.1h0M438.9 298.3h0M486.2 165.3h0M390.9 434.8h0M438.9 259.7h0M475.6 262.4h0M454.4 352.6h0M401.5 382.3h0M436.5 291.1h0M496.8 221.4h0M448.7 284.3h0M412.9 368.2h0M475.6 179.7h0M353.4 475.1h0M397.4 436.4h0M411.3 276.4h0M385.2 441.3h0M458.5 348.5h0M395.8 413.0h0M438.1 397.1h0"/>
<path stroke="#00C094" d="M478.0 202.6h0M434.1 220.8h0M446.3 364.8h0M476.4 302.8h0M438.1 226.2h0M477.2 246.2h0M417.8 389.5h0M459.3 190.3h0M453.6 215.9h0M451.2 231.3h0M417.8 377.3h0M375.4 456.4h0M477.2 220.5h0M508.2 147.1h0M403.9 408.2h0M482.1 236.9h0M439.8 241.5h0M474.8 243.2h0M421.0 292.0h0M454.4 301.5h0M477.2 235.8h0M499.2 221.7h0M452.8 319.8h0M411.3 428.0h0M480.7 369.7h0M452.8 197.0h0M452.8 217.3h0M418.6 303.6h0M477.2 185.8h0M448.7 190.2h0M425.9 311.5h0M495.1 163.7h0M434.1 233.0h0M439.8 263.8h0M414.5 316.3h0M440.6 231.4h0M437.3 222.7h0M407.2 379.9h0M461.7 293.6h0M477.2 202.3h0M420.2 321.7h0M448.7 280.2h0M501.7 184.4h0M420.2 324.6h0M496.8 153.3h0M458.5 310.8h0M495.1 162.7h0M434.9 257.3h0M490.3 214.8h0M383.6 401.4h0M360.8 444.5h0M426.7 342.2h0M436.5 310.2h0M415.3 272.1h0M421.0 362.1h0M446.3 263.2h0M435.7 297.5h0M371.4 409.5h0M419.4 334.4h0M435.7 277.2h0M395.0 314.4h0M441.4 256.3h0M390.9 385.6h0M478.9 241.9h0M408.8 404.3h0M417.0 389.2h0M422.7 321.6h0M452.8 363.2h0M500.8 174.6h0M478.0 184.0h0M434.9 349.8h0M435.7 396.6h0M434.9 274.0h0M474.8 221.2h0M404.7 417.0h0M446.3 286.2h0M409.6 381.4h0M453.6 206.8h0M380.3 403.3h0M421.8 328.1h0M344.5 458.7h0M397.4 365.8h0M435.7 254.2h0M376.2 408.2h0M390.9 437.2h0M495.1 136.7h0M363.2 433.0h0M406.4 397.1h0M435.7 169.0h0M376.2 444.9h0M471.5 297.9h0M395.8 338.7h0M392.5 394.1h0M427.5 257.7h0M452.8 274.3h0M420.2 328.0h0M394.2 445.3h0M410.4 394.6h0M411.3 344.9h0M426.7 311.9h0M434.9 162.6h0M361.6 461.0h0M386.8 445.6h0M396.6 356.7h0M360.8 464.2h0M438.1 275.4h0M418.6 361.3h0M348.5 453.6h0M412.9 396.0h0M396.6 413.4h0M450.3 299.9h0M438.1 207.7h0M373.0 431.7h0M388.5 434.5h0M434.9 376.3h0M426.7 398.8h0M434.1 354.1h0M385.2 415.0h0M447.9 316.4h0M361.6 425.2h0M412.1 375.7h0M344.5 473.4h0M396.6 398.7h0M480.5 279.7h0M450.3 233.9h0M353.4 463.7h0M443.0 344.1h0M487.0 157.6h0"/>
<path stroke="#FB61D7" d="M424.3 385.1h0M482.9 168.4h0M417.8 381.4h0M510.6 181.4h0M378.7 447.5h0M492.7 244.8h0M506.5 231.7h0M475.6 249.2h0M477.2 212.0h0M440.6 377.9h0M465.0 331.0h0M496.8 218.7h0M508.2 198.4h0M463.4 311.8h0M496.8 169.1h0M410.4 379.1h0M494.3 174.4h0M482.1 236.2h0M419.4 349.3h0M496.0 151.4h0M499.2 198.8h0M492.7 189.1h0M493.5 268.6h0M452.8 322.0h0M517.1 203.1h0M385.2 454.1h0M478.0 236.6h0M442.2 352.9h0M439.8 360.8h0M411.3 408.6h0M451.2 408.6h0M505.7 155.2h0M492.7 162.5h0M517.1 185.2h0M491.1 220.2h0M406.4 408.2h0M426.7 359.8h0M421.0 332.5h0M478.9 174.8h0M344.5 483.1h0M445.5 276.0h0M487.8 206.0h0M475.6 259.9h0M475.6 303.1h0M428.4 351.9h0M401.5 399.7h0M498.4 229.4h0M393.3 430.0h0M397.4 450.1h0M352.6 475.7h0M396.6 424.2h0M406.4 406.3h0M436.5 382.1h0M401.5 404.0h0M412.1 421.5h0M476.4 260.7h0M513.1 156.8h0M333.1 483.7h0M393.3 403.5h0M356.7 462.7h0"/>
<path stroke="#A58AFF" d="M491.1 152.1h0M426.7 375.4h0M475.6 236.1h0M435.7 376.3h0M466.6 263.9h0M383.6 450.9h0M396.6 446.7h0M474.8 162.8h0M407.2 425.5h0M434.9 392.5h0M479.7 271.3h0M474.8 272.0h0M447.9 240.2h0M434.1 383.2h0M379.5 444.5h0M380.3 448.7h0M493.5 159.7h0M442.2 378.2h0M487.8 234.4h0M495.1 155.3h0M451.2 352.6h0M451.2 312.0h0M475.6 168.4h0M459.3 289.0h0M471.5 306.7h0M405.6 393.8h0M402.3 338.0h0M405.6 393.0h0M498.4 217.5h0M491.1 209.5h0M451.2 253.2h0M475.6 175.0h0M444.6 290.0h0M450.3 230.7h0M493.5 231.2h0M452.8 305.1h0M434.1 205.8h0M456.0 302.0h0M414.5 411.7h0M411.3 310.5h0M499.2 181.3h0M420.2 356.5h0M451.2 327.4h0M476.4 136.1h0M408.0 406.6h0M434.1 228.5h0M416.1 338.7h0M474.8 172.0h0M435.7 377.2h0M428.4 309.8h0M388.5 450.0h0M450.3 331.6h0M480.5 227.1h0M441.4 337.0h0M403.1 405.6h0M426.7 319.8h0M450.3 332.0h0M382.8 443.5h0M453.6 240.5h0M491.1 169.9h0M446.3 346.5h0M435.7 328.4h0M394.2 444.4h0M407.2 422.6h0M390.1 435.7h0M434.9 281.7h0M435.7 300.4h0M399.0 414.4h0M434.9 387.4h0M428.4 368.3h0M497.6 154.1h0M434.9 278.7h0M394.2 419.6h0M499.2 172.7h0M610.9 183.6h0M393.3 443.8h0M440.6 278.0h0M517.9 142.1h0M491.1 181.5h0M475.6 266.4h0M438.9 300.9h0M385.2 403.7h0M434.9 371.9h0"/>
<path stroke="#53B400" d="M410.4 298.4h0M429.2 319.7h0M443.8 277.9h0M363.2 425.7h0M476.4 160.4h0M443.0 328.9h0M442.2 184.9h0M427.5 300.8h0M424.3 332.0h0M481.3 182.2h0M434.9 278.3h0M366.5 409.8h0M442.2 258.3h0M443.0 148.9h0M406.4 310.8h0M400.7 328.4h0M420.2 363.4h0M406.4 412.4h0M407.2 319.3h0M368.9 405.6h0M405.6 392.4h0M412.9 285.7h0M347.7 447.6h0M475.6 295.2h0M381.1 404.1h0M393.3 314.0h0M438.1 265.5h0M477.2 165.7h0M438.9 284.3h0M436.5 192.2h0M450.3 318.0h0M452.8 337.4h0M475.6 286.1h0M390.9 417.0h0M489.0 319.2h0M375.4 407.6h0M414.5 343.8h0M470.7 224.3h0M407.2 398.7h0M410.4 256.0h0M340.4 458.8h0M414.5 415.6h0M399.0 331.1h0M387.6 396.9h0M438.9 301.2h0M408.8 306.4h0M476.4 227.8h0M447.1 261.7h0M364.0 422.5h0M443.8 198.3h0M393.3 319.6h0M421.8 353.7h0M414.5 266.9h0M434.1 213.4h0M434.9 251.0h0M420.2 332.0h0M477.2 138.7h0M378.7 409.5h0M478.9 167.4h0M422.7 355.8h0M437.3 365.1h0M409.6 374.6h0M354.2 438.8h0M362.4 449.3h0M409.6 353.9h0M424.3 407.0h0M425.9 349.9h0M439.8 369.7h0M397.4 416.3h0M397.4 396.3h0M390.1 422.4h0M409.6 254.9h0M390.1 395.4h0M413.7 361.0h0M407.2 353.1h0M403.9 352.3h0M424.3 365.3h0M375.4 424.3h0M417.8 385.0h0M403.1 351.4h0M439.8 295.6h0M395.0 389.2h0M410.4 347.2h0M387.6 414.2h0M414.5 291.8h0M381.1 412.5h0M361.6 420.8h0M413.7 268.3h0M397.4 383.0h0M374.6 422.5h0M344.5 466.3h0M353.4 471.2h0M395.0 354.4h0M448.7 273.7h0M394.2 388.8h0M396.6 360.8h0M395.8 397.7h0M451.2 335.8h0M355.1 452.9h0M386.8 386.1h0M414.5 348.4h0M390.9 409.2h0M370.5 447.6h0M403.1 401.6h0M340.4 476.4h0"/>
<path stroke="#F8766D" d="M445.5 335.8h0M441.4 177.5h0M441.4 137.2h0M403.9 280.6h0M411.3 275.1h0M397.4 243.5h0M395.0 139.2h0M419.4 260.0h0M423.5 371.1h0M383.6 408.7h0M390.1 377.8h0M395.0 163.8h0M417.0 323.7h0M411.3 235.4h0M350.2 430.6h0M339.6 456.5h0M346.9 449.4h0M344.5 448.4h0M339.6 457.8h0M416.1 139.7h0M348.5 444.7h0M368.9 397.8h0M360.8 437.6h0M338.0 456.7h0M413.7 304.1h0M386.0 355.8h0M369.7 394.2h0M437.3 260.9h0M418.6 301.9h0M429.2 226.8h0M434.9 169.0h0M394.7 248.1h0M399.9 354.5h0M352.6 434.7h0M350.2 436.2h0M410.4 249.0h0M399.0 337.9h0M400.7 308.9h0M375.4 421.8h0M375.4 422.5h0M411.3 309.0h0M349.4 452.0h0M397.4 235.0h0M358.3 442.9h0M346.9 450.9h0M353.4 426.3h0M395.0 376.4h0M346.9 451.1h0M359.9 441.8h0M394.9 271.0h0M353.4 450.0h0M395.8 308.2h0M386.8 374.1h0M394.2 368.0h0M334.7 478.7h0M388.5 427.7h0M355.1 462.7h0M339.6 468.3h0M371.4 422.3h0M353.4 458.5h0M370.5 442.1h0M395.8 336.4h0M353.4 452.1h0M347.7 467.8h0M400.7 399.5h0"/>
<path stroke="#00B6EB" d="M442.2 244.3h0M434.1 411.7h0M424.3 356.7h0M456.0 289.7h0M421.8 384.5h0M460.1 291.9h0M435.7 196.7h0M497.6 181.5h0M438.1 270.2h0M427.5 330.3h0M446.3 312.4h0M451.2 177.8h0M476.4 137.1h0M414.5 411.8h0M491.9 167.8h0M468.3 204.0h0M474.8 301.4h0M452.0 231.0h0M441.4 242.5h0M360.8 469.3h0M478.9 149.4h0M499.2 197.8h0M477.2 193.5h0M495.1 197.4h0M434.1 191.3h0M438.9 364.4h0M478.0 317.3h0M480.5 143.7h0M413.7 415.5h0M491.9 183.2h0M410.4 432.0h0M403.1 386.1h0M440.6 389.2h0M416.1 381.1h0M425.9 279.1h0M484.6 157.3h0M459.3 251.6h0M420.2 425.7h0M435.7 318.1h0M437.3 287.4h0M419.4 390.6h0M369.7 398.2h0M491.9 232.3h0M434.9 382.6h0M478.9 258.3h0M416.1 330.3h0M417.8 397.6h0M441.4 292.6h0M403.1 354.1h0M434.9 361.4h0M446.3 315.2h0M434.1 232.4h0M434.9 207.3h0M437.3 311.1h0M407.2 413.0h0M406.4 350.6h0M456.0 182.2h0M475.6 200.6h0M418.6 318.1h0M435.7 319.8h0M434.9 245.4h0M419.4 390.4h0M378.7 433.5h0M476.4 241.8h0M410.4 375.3h0M435.7 232.0h0M452.0 244.2h0M408.0 388.4h0M452.8 279.2h0M426.7 379.1h0M412.1 333.9h0M416.1 353.5h0M480.5 206.7h0M410.4 329.3h0M412.1 423.3h0M478.9 190.5h0M414.5 303.8h0M408.8 405.6h0M397.4 344.8h0M397.4 390.7h0M439.8 268.1h0M364.8 444.2h0M412.1 310.2h0M452.8 346.0h0M434.9 365.8h0M351.8 477.0h0M435.7 348.4h0M439.8 328.9h0M390.9 383.4h0M435.7 332.3h0M369.7 417.5h0M408.0 378.0h0M409.6 239.5h0M496.8 208.1h0M401.5 418.1h0M434.9 431.4h0M497.6 202.4h0M440.6 289.0h0M434.9 309.3h0M396.6 366.1h0M420.2 322.0h0M385.2 426.1h0M478.9 203.3h0M386.0 439.1h0M479.7 347.8h0M412.1 325.9h0M477.2 267.4h0M339.6 480.3h0M385.2 432.9h0M340.4 481.0h0M410.4 342.7h0M417.8 385.2h0M410.4 381.5h0M438.1 270.8h0M397.4 333.6h0"/>
<path stroke="#C49A00" d="M448.7 274.5h0M474.8 281.2h0M348.5 439.0h0M361.6 421.5h0M387.6 365.8h0M475.6 176.1h0M443.8 251.0h0M421.0 308.1h0M412.1 244.9h0M451.2 220.7h0M474.8 143.7h0M435.7 210.6h0M403.1 366.8h0M409.6 255.3h0M411.3 278.8h0M394.2 279.3h0M357.5 415.8h0M378.7 411.5h0M438.1 243.5h0M449.5 288.0h0M377.9 352.3h0M439.8 189.4h0M443.8 215.0h0M364.8 413.8h0M363.2 441.0h0M374.6 384.0h0M410.4 274.4h0M373.0 392.5h0M452.0 306.6h0M417.0 314.4h0M444.6 255.4h0M438.1 284.5h0M365.7 389.7h0M434.9 282.7h0M402.3 342.9h0M380.3 387.2h0M437.3 354.3h0M409.6 303.6h0M443.0 270.6h0M438.1 256.6h0M400.7 360.9h0M404.7 305.2h0M436.5 176.9h0M388.5 392.8h0M393.3 308.0h0M376.2 412.3h0M427.5 322.5h0M343.7 453.6h0M411.3 362.5h0M493.8 319.3h0M438.9 309.2h0M357.5 434.2h0M398.2 312.7h0M387.6 383.9h0M413.7 267.4h0M397.4 391.5h0M354.2 427.2h0M409.6 335.5h0M366.5 453.2h0M410.4 312.8h0M352.6 440.2h0M377.9 443.8h0M395.8 303.1h0M434.1 146.2h0M412.1 351.0h0M395.0 340.9h0M368.9 432.4h0M394.2 391.9h0M417.8 284.8h0M395.8 428.4h0M434.1 281.1h0M436.5 263.1h0M368.9 436.0h0M369.7 402.6h0M352.6 438.0h0M367.3 424.9h0M331.4 481.5h0M437.3 166.3h0M355.1 452.2h0M393.3 346.5h0M359.1 464.7h0M449.5 219.5h0M375.4 422.7h0M338.0 470.7h0M365.7 435.5h0M355.9 450.3h0"/>
<path stroke="#53B400" d="M377.1 384.8h0M449.5 253.2h0M478.0 136.0h0M438.1 292.3h0M443.0 254.2h0M409.6 285.2h0M390.9 371.8h0M419.4 319.3h0M381.9 443.5h0M373.8 396.1h0M453.6 224.1h0M478.0 154.7h0M417.8 322.8h0M476.4 295.0h0M478.0 134.3h0M419.4 342.2h0M438.1 257.6h0M439.8 353.6h0M380.3 406.6h0M477.3 352.3h0M436.5 242.6h0M459.3 277.9h0M403.9 330.4h0M418.6 340.1h0M443.0 207.4h0M386.0 454.0h0M422.7 335.6h0M452.0 141.3h0M383.6 425.5h0M447.9 345.0h0M434.1 169.8h0M436.5 249.6h0M410.4 275.0h0M398.2 298.5h0M449.5 269.6h0M451.2 193.3h0M434.9 242.7h0M477.2 245.0h0M414.5 343.0h0M364.8 430.2h0M359.1 423.2h0M409.6 324.3h0M475.6 225.1h0M416.1 326.3h0M447.1 181.5h0M423.5 288.9h0M450.3 264.9h0M340.4 483.2h0M409.6 382.3h0M423.5 339.6h0M410.4 346.6h0M390.9 431.5h0M413.7 359.3h0M410.4 306.5h0M402.3 379.0h0M409.6 349.1h0M408.8 414.7h0M349.4 455.9h0M357.5 471.5h0M437.3 297.6h0M435.7 298.3h0M361.6 444.0h0M446.3 232.3h0M378.7 440.5h0M409.6 276.4h0M364.0 441.4h0M394.2 322.4h0M358.3 432.4h0M368.9 442.6h0M387.6 418.3h0M402.3 388.3h0M361.6 459.2h0M364.8 427.6h0M434.9 250.9h0M396.6 379.3h0M393.3 403.4h0M339.6 483.1h0M385.2 365.2h0M385.2 430.7h0M373.0 450.1h0M372.2 438.0h0M382.8 425.4h0M410.4 296.2h0M394.2 385.7h0M334.7 483.2h0M408.8 326.1h0M410.4 339.9h0M421.0 333.8h0M417.8 324.7h0M370.5 449.0h0M403.1 377.0h0"/>
<path stroke="#00C094" d="M455.2 327.3h0M457.7 209.0h0M418.6 352.7h0M417.0 251.4h0M482.9 189.0h0M408.8 268.6h0M478.0 194.2h0M446.3 342.1h0M457.7 297.6h0M444.6 187.6h0M418.6 258.4h0M456.9 292.6h0M406.4 406.0h0M417.8 335.8h0M452.0 199.1h0M452.8 250.8h0M475.6 139.0h0M452.0 151.7h0M442.2 248.4h0M390.1 364.4h0M474.0 254.5h0M414.5 303.5h0M435.7 162.9h0M480.5 180.6h0M425.1 386.0h0M441.4 278.4h0M456.0 191.8h0M385.2 371.0h0M422.7 385.0h0M430.8 195.0h0M417.8 356.2h0M448.7 274.4h0M390.9 387.2h0M451.2 173.7h0M451.2 192.0h0M474.8 145.0h0M438.9 282.2h0M434.9 370.0h0M442.2 370.7h0M491.9 147.9h0M378.7 429.6h0M452.8 183.5h0M437.3 316.0h0M491.9 189.1h0M478.0 202.8h0M435.7 262.1h0M421.8 349.0h0M427.5 299.0h0M407.2 336.0h0M479.7 208.0h0M410.4 379.5h0M414.5 381.5h0M403.1 427.6h0M400.7 333.7h0M435.7 307.8h0M416.1 381.7h0M410.4 396.3h0M391.7 406.3h0M414.5 329.5h0M403.1 386.7h0M423.5 262.1h0M481.3 138.3h0M436.5 282.6h0M412.9 315.2h0M394.2 301.2h0M363.2 462.5h0M427.5 347.7h0M435.7 352.1h0M438.9 303.8h0M478.9 193.3h0M451.2 146.0h0M390.1 377.0h0M399.9 370.8h0M434.1 369.3h0M372.2 455.8h0M408.8 358.7h0M438.9 393.8h0M424.3 366.4h0M385.2 450.4h0M411.3 403.4h0M381.9 425.3h0M417.0 314.7h0M451.2 292.0h0M434.1 257.0h0M399.9 397.2h0M402.3 309.0h0M413.7 420.9h0M438.1 284.8h0M485.4 142.9h0M364.0 444.5h0M451.2 348.4h0M453.6 193.6h0M363.2 436.6h0M400.7 417.8h0M413.7 329.6h0M434.9 249.4h0M467.5 248.8h0M435.7 236.4h0M375.4 434.8h0M496.8 210.7h0M438.1 311.6h0M387.6 418.2h0M368.9 412.7h0M376.2 434.1h0M400.7 363.3h0M410.4 346.2h0M394.2 376.6h0M443.0 341.3h0M397.4 394.9h0M409.6 373.9h0M348.5 472.2h0M412.1 354.3h0M371.4 438.4h0M365.7 453.5h0M382.8 437.6h0M390.9 421.2h0M434.9 274.2h0M386.8 439.4h0M359.1 449.5h0M386.8 412.2h0M393.3 380.6h0M451.2 226.9h0M452.0 172.6h0M366.5 447.1h0M382.8 422.7h0M476.4 307.2h0M494.3 193.8h0M434.1 329.4h0M346.9 469.5h0M370.5 454.1h0M343.7 470.3h0M416.1 362.5h0M406.4 377.7h0"/>
<path stroke="#C49A00" d="M415.3 254.2h0M438.1 159.4h0M374.6 398.8h0M407.2 313.9h0M380.3 404.9h0M425.1 193.5h0M413.7 294.0h0M411.3 285.1h0M408.8 290.8h0M422.7 316.8h0M456.9 223.6h0M480.5 165.0h0M437.3 226.0h0M379.5 376.5h0M476.4 196.7h0M439.8 205.4h0M450.3 255.1h0M445.5 211.8h0M369.7 401.7h0M413.7 259.5h0M417.8 304.9h0M382.8 392.0h0M434.1 205.6h0M403.1 361.7h0M441.4 284.0h0M380.3 409.2h0M434.9 278.3h0M376.2 457.8h0M422.7 283.8h0M555.7 272.0h0M435.7 234.1h0M399.0 311.7h0M409.6 332.0h0M352.6 438.2h0M387.6 380.8h0M409.6 381.5h0M434.9 357.3h0M443.0 260.7h0M420.2 323.8h0M410.4 290.3h0M452.8 280.2h0M414.5 320.6h0M398.2 388.2h0M412.1 306.3h0M434.9 207.7h0M405.6 275.9h0M387.6 402.5h0M410.4 346.4h0M389.3 433.3h0M370.5 409.1h0M379.5 401.4h0M385.2 383.5h0M410.4 262.7h0M340.4 455.7h0M417.0 339.8h0M450.3 139.0h0M369.7 401.2h0M337.1 464.0h0M443.0 248.9h0M393.3 311.9h0M353.4 453.5h0M388.5 397.0h0M385.2 433.1h0M402.3 290.2h0M354.2 474.5h0M417.0 276.1h0M346.9 464.2h0M354.2 459.1h0M338.0 471.5h0M359.1 441.6h0M379.5 414.4h0M369.7 427.0h0M352.6 464.5h0M339.6 479.1h0M409.6 394.6h0M412.1 309.7h0"/>
<path stroke="#00B6EB" d="M454.4 306.6h0M484.6 235.4h0M452.0 213.0h0M482.9 271.6h0M421.0 218.9h0M438.9 382.2h0M466.6 193.2h0M451.2 219.1h0M476.4 314.2h0M447.9 293.7h0M455.2 210.4h0M446.3 264.3h0M458.5 270.8h0M495.1 199.7h0M417.8 400.1h0M401.5 296.1h0M404.7 431.1h0M411.3 248.5h0M454.4 227.6h0M475.6 141.4h0M452.0 314.2h0M364.8 462.4h0M377.9 462.0h0M421.0 311.1h0M452.0 258.4h0M385.2 458.9h0M475.6 372.5h0M428.4 370.6h0M474.8 191.5h0M556.1 367.7h0M496.7 362.8h0M425.1 333.3h0M444.6 199.5h0M440.6 285.6h0M450.3 189.3h0M437.3 227.4h0M406.4 421.9h0M427.5 373.5h0M465.0 331.9h0M474.8 212.6h0M362.4 447.9h0M381.9 434.3h0M454.4 348.4h0M448.7 275.2h0M425.1 363.8h0M403.1 416.9h0M451.2 268.4h0M478.9 179.3h0M434.1 247.4h0M477.2 333.7h0M444.6 303.8h0M392.5 398.9h0M452.0 315.1h0M476.4 264.1h0M434.9 349.3h0M422.7 384.3h0M437.3 373.9h0M440.6 296.2h0M482.1 207.1h0M434.9 333.9h0M420.2 381.7h0M377.9 445.5h0M416.1 402.9h0M435.7 265.9h0M434.1 315.7h0M386.0 444.1h0M450.3 309.7h0M449.5 268.6h0M452.0 288.3h0M398.2 452.9h0M419.4 322.5h0M402.3 434.6h0M452.8 306.7h0M414.5 369.8h0M413.7 415.4h0M474.8 175.9h0M500.0 154.2h0M393.3 353.0h0M476.4 266.5h0M366.5 452.8h0M403.9 430.9h0M423.5 386.7h0M434.1 235.3h0M455.2 274.0h0M434.9 309.4h0M443.8 299.5h0M416.1 364.8h0M390.1 423.2h0M456.9 307.1h0M388.5 408.7h0M404.7 418.0h0M417.8 342.4h0M377.9 438.7h0M381.1 418.6h0M355.9 464.6h0M419.4 383.9h0M396.6 399.8h0M349.4 472.9h0M370.5 453.7h0M434.9 229.8h0M456.9 287.7h0M396.6 426.1h0M358.3 467.2h0M344.5 471.5h0M435.7 279.7h0M395.8 386.8h0M342.0 478.7h0M337.1 481.4h0M394.2 420.9h0"/>
<path stroke="#A58AFF" d="M446.3 287.7h0M438.9 268.7h0M451.2 373.8h0M419.4 419.1h0M447.1 308.4h0M492.7 176.6h0M416.1 427.4h0M423.5 328.7h0M405.6 392.9h0M425.1 382.6h0M475.6 146.2h0M434.1 346.7h0M477.2 201.6h0M438.1 322.4h0M352.6 477.1h0M476.4 141.2h0M390.1 426.3h0M453.6 328.6h0M440.6 321.1h0M450.3 209.8h0M490.9 340.2h0M477.2 304.8h0M451.2 239.5h0M435.7 211.6h0M492.7 137.8h0M452.8 220.2h0M450.3 316.5h0M494.3 144.6h0M484.6 168.0h0M386.8 372.5h0M409.6 389.7h0M477.2 206.0h0M491.9 152.2h0M413.7 430.9h0M491.1 175.0h0M435.7 350.5h0M491.1 173.6h0M457.7 214.8h0M365.7 470.9h0M474.0 235.2h0M415.3 350.3h0M403.1 438.1h0M436.5 398.7h0M434.9 225.5h0M478.9 327.9h0M444.6 292.8h0M403.1 419.6h0M418.6 403.7h0M398.2 407.6h0M379.5 433.9h0M403.1 380.1h0M454.4 347.9h0M403.9 378.2h0M479.7 176.2h0M434.9 423.4h0M475.6 178.8h0M474.0 254.6h0M451.2 307.8h0M418.6 365.7h0M387.6 449.9h0M483.7 195.0h0M434.9 274.9h0M409.6 370.0h0M492.7 161.2h0M398.2 371.3h0M352.6 474.7h0M410.4 405.9h0M369.7 456.1h0M476.4 177.8h0M475.6 176.0h0M482.1 223.6h0M491.9 134.2h0M503.3 184.4h0M496.0 174.1h0M420.2 425.4h0M377.1 454.2h0M404.7 407.5h0M439.8 274.9h0M351.0 475.6h0M434.9 348.1h0M345.3 481.1h0M394.2 421.0h0M386.8 428.7h0M358.3 469.4h0M414.5 396.8h0M350.2 474.3h0M355.1 469.0h0M350.2 477.6h0M344.5 475.9h0"/>
<path stroke="#F8766D" d="M416.1 285.4h0M396.6 304.1h0M420.2 275.4h0M395.0 296.0h0M364.0 423.3h0M440.6 259.5h0M400.7 300.1h0M421.8 182.7h0M441.4 143.4h0M381.9 395.9h0M388.5 372.1h0M355.9 426.7h0M348.5 442.8h0M419.4 382.8h0M364.0 440.0h0M402.3 346.2h0M389.3 386.9h0M435.7 150.6h0M437.3 257.3h0M398.2 240.9h0M382.8 433.7h0M395.8 327.7h0M351.0 443.5h0M364.0 430.2h0M390.9 383.8h0M357.5 431.1h0M438.1 282.3h0M416.1 292.0h0M410.4 261.5h0M399.9 349.2h0M410.4 258.0h0M411.3 302.8h0M371.4 407.4h0M449.5 266.9h0M393.5 145.5h0M394.2 311.9h0M356.7 414.9h0M332.3 475.0h0M448.7 150.5h0M351.0 445.5h0M442.2 263.4h0M372.2 427.3h0M390.9 408.4h0M344.5 452.5h0M364.8 425.6h0M341.2 458.6h0M368.9 429.4h0M368.9 424.1h0M369.7 416.4h0M412.1 324.9h0M394.2 356.4h0M350.2 432.1h0M370.5 436.1h0M435.7 193.5h0M372.2 412.9h0M386.0 373.3h0M330.6 480.0h0M349.4 459.6h0M338.8 470.1h0M345.3 468.5h0M365.7 420.7h0M335.5 481.9h0M343.7 468.5h0M337.1 475.6h0"/>
<path stroke="#FB61D7" d="M475.6 339.7h0M482.1 205.7h0M469.9 287.7h0M497.6 138.3h0M397.4 452.3h0M565.0 304.9h0M438.1 257.6h0M491.9 169.5h0M495.1 245.8h0M501.7 210.7h0M386.0 458.4h0M494.3 222.4h0M401.5 439.0h0M437.3 368.2h0M438.9 345.1h0M475.6 212.7h0M394.2 462.9h0M403.1 423.6h0M438.1 292.7h0M412.1 438.9h0M434.9 383.7h0M477.2 257.3h0M493.5 144.7h0M493.5 203.1h0M398.2 448.1h0M497.6 143.3h0M436.5 392.3h0M445.5 354.6h0M411.3 413.9h0M394.2 453.8h0M459.3 279.2h0M410.4 422.7h0M522.0 167.5h0M495.1 224.3h0M496.0 143.7h0M420.2 388.2h0M438.1 304.5h0M475.6 284.4h0M435.7 303.9h0M435.7 211.9h0M514.6 372.0h0M505.7 197.1h0M435.7 352.7h0M515.5 195.4h0M403.1 350.8h0M474.0 326.8h0M514.7 142.2h0M421.8 391.2h0M439.8 279.7h0M495.1 193.6h0M426.7 374.2h0M373.0 450.1h0M422.7 376.0h0M454.4 359.9h0"/>
<path stroke="#F8766D" d="M387.6 369.5h0M378.7 385.1h0M397.4 216.2h0M355.1 416.1h0M365.7 399.4h0M381.1 370.4h0M410.4 227.1h0M333.9 470.1h0M407.2 286.8h0M441.4 158.0h0M363.2 438.8h0M411.3 142.4h0M439.8 211.3h0M373.0 381.1h0M397.4 296.2h0M361.6 424.4h0M379.5 419.4h0M399.0 349.0h0M410.4 321.1h0M403.9 329.6h0M401.5 363.4h0M396.6 300.8h0M435.7 345.5h0M353.4 436.9h0M385.2 380.5h0M453.6 168.2h0M378.7 365.1h0M382.8 422.9h0M412.1 218.1h0M395.8 317.8h0M423.5 285.4h0M371.4 388.3h0M403.9 376.7h0M353.4 438.9h0M412.1 293.6h0M436.5 134.1h0M340.4 463.8h0M393.7 253.1h0M352.6 425.4h0M395.8 288.1h0M360.8 443.0h0M386.0 389.0h0M395.5 136.8h0M341.2 465.0h0M346.1 457.8h0M436.5 231.6h0M401.5 355.0h0M340.4 459.5h0M366.5 409.4h0M394.2 357.5h0M342.8 468.2h0M371.4 420.7h0M372.2 415.1h0M338.0 475.5h0M333.1 482.7h0M360.8 439.1h0"/>
<path stroke="#53B400" d="M454.4 293.5h0M409.6 243.0h0M446.3 200.0h0M400.7 299.4h0M478.0 197.5h0M399.9 256.3h0M426.7 345.5h0M492.7 180.4h0M456.0 219.3h0M361.6 430.5h0M413.7 268.1h0M405.6 433.2h0M417.8 327.7h0M434.1 210.2h0M435.7 165.0h0M434.1 199.1h0M434.9 188.2h0M390.1 389.7h0M451.2 156.8h0M423.5 241.1h0M445.5 277.3h0M406.4 366.1h0M379.5 400.9h0M416.1 289.0h0M426.7 308.8h0M420.2 329.4h0M440.6 175.6h0M423.5 306.4h0M380.3 412.9h0M434.9 136.5h0M475.6 184.0h0M373.0 407.8h0M455.2 191.2h0M395.8 311.9h0M474.8 175.3h0M477.2 216.5h0M480.5 268.4h0M406.4 338.8h0M399.0 320.8h0M391.7 426.0h0M388.5 448.7h0M421.0 174.8h0M434.1 169.3h0M415.3 318.7h0M448.7 284.4h0M435.7 401.9h0M492.7 204.1h0M405.6 400.5h0M403.1 358.5h0M410.4 267.2h0M397.4 350.2h0M451.2 251.8h0M421.0 363.2h0M436.5 257.9h0M435.7 349.8h0M417.0 302.7h0M441.4 209.5h0M456.9 328.1h0M390.1 399.4h0M400.7 363.4h0M402.3 321.3h0M409.6 243.3h0M360.8 447.2h0M410.4 400.6h0M476.4 158.4h0M414.5 346.2h0M356.7 425.2h0M409.6 315.2h0M375.4 445.9h0M400.7 373.2h0M434.9 384.9h0M492.7 222.7h0M389.3 431.9h0M438.9 375.0h0M401.5 443.2h0M398.2 334.6h0M428.4 396.0h0M454.4 256.4h0M434.9 193.5h0M439.8 192.1h0M435.7 264.8h0M435.7 334.5h0M402.3 377.3h0M425.9 333.9h0M410.4 305.4h0M411.3 332.1h0M396.6 353.3h0M369.7 413.3h0M349.4 458.0h0M368.1 456.6h0M452.8 248.7h0M358.3 451.1h0M409.6 387.2h0M395.0 313.6h0M363.2 467.8h0M409.6 367.3h0M404.7 340.0h0M373.0 412.3h0M360.8 459.2h0M411.3 331.9h0M356.7 430.9h0M413.7 283.3h0M407.2 324.0h0M385.2 423.9h0M396.6 336.6h0M339.6 465.5h0M372.2 446.7h0M394.2 390.5h0M414.5 370.7h0M395.8 292.4h0M377.1 422.1h0M369.7 428.8h0M450.3 281.3h0M361.6 446.9h0M347.7 471.8h0"/>
<path stroke="#00C094" d="M476.4 163.5h0M395.8 279.8h0M479.7 240.8h0M474.8 287.0h0M481.3 171.0h0M438.9 146.7h0M481.3 178.0h0M428.4 354.6h0M449.5 362.9h0M438.9 225.0h0M443.8 285.9h0M474.8 175.6h0M477.2 159.1h0M436.5 183.5h0M456.0 268.7h0M449.5 261.0h0M447.1 270.5h0M412.1 422.4h0M418.6 368.4h0M415.3 400.9h0M452.8 319.0h0M395.8 283.3h0M421.0 401.5h0M440.6 183.9h0M477.2 224.8h0M422.7 269.2h0M437.3 373.9h0M445.5 334.4h0M400.7 437.8h0M404.7 351.3h0M417.0 319.2h0M401.5 362.8h0M438.9 326.8h0M365.7 462.2h0M456.0 316.2h0M414.5 322.5h0M337.1 456.5h0M398.2 449.7h0M478.0 136.3h0M452.0 318.8h0M380.3 429.7h0M446.3 304.1h0M443.8 360.6h0M435.7 311.6h0M428.4 284.0h0M465.0 204.2h0M421.0 323.4h0M418.6 367.3h0M437.3 239.3h0M417.8 336.3h0M475.6 211.6h0M388.5 384.6h0M452.8 237.7h0M382.8 425.0h0M494.3 175.6h0M403.1 316.9h0M409.6 311.4h0M434.1 237.0h0M481.3 211.7h0M444.6 211.1h0M414.5 334.0h0M412.1 399.2h0M421.0 289.3h0M416.1 315.8h0M398.2 359.1h0M404.7 370.1h0M411.3 268.7h0M435.7 233.9h0M396.6 356.6h0M422.7 342.0h0M396.6 410.7h0M411.3 328.4h0M451.2 227.1h0M437.3 292.9h0M396.6 408.4h0M434.9 343.6h0M436.5 166.1h0M411.3 409.9h0M483.7 178.5h0M437.3 347.4h0M402.3 341.3h0M452.0 299.8h0M399.0 349.8h0M396.6 396.3h0M386.0 453.2h0M486.2 159.6h0M342.0 483.4h0M405.6 427.2h0M387.6 437.9h0M400.7 449.6h0M434.1 315.4h0M439.8 209.3h0M368.9 431.0h0M355.1 441.6h0M435.7 346.5h0M434.9 281.0h0M422.7 316.9h0M395.8 304.5h0M369.7 456.5h0M386.8 370.7h0M410.4 352.7h0M384.4 389.5h0M416.1 306.7h0M395.0 341.3h0M416.1 258.2h0M352.6 454.8h0M394.2 330.1h0M394.2 426.5h0M385.2 435.5h0M399.0 383.7h0M492.7 153.3h0M426.7 372.4h0M370.5 440.5h0M436.5 203.8h0M435.7 294.8h0M402.3 385.2h0M394.2 384.4h0M386.8 439.0h0M375.4 431.2h0M360.8 449.7h0M386.0 405.7h0M401.5 385.1h0M409.6 412.7h0M410.4 393.0h0M409.6 342.4h0M475.6 294.8h0M394.2 413.3h0M395.8 381.8h0M454.4 279.1h0M412.9 369.0h0M344.5 480.0h0"/>
<path stroke="#FB61D7" d="M453.6 352.4h0M496.8 204.7h0M492.7 215.2h0M425.9 414.7h0M474.0 322.0h0M451.2 357.7h0M394.2 454.1h0M496.8 177.7h0M496.8 189.5h0M394.2 454.0h0M491.1 223.7h0M438.9 351.6h0M400.7 435.5h0M440.6 399.4h0M445.5 322.1h0M409.6 422.9h0M441.4 343.3h0M437.3 366.1h0M434.1 393.4h0M497.6 260.0h0M410.4 409.5h0M402.3 423.3h0M477.2 312.6h0M478.0 261.5h0M519.6 157.2h0M372.2 463.7h0M497.5 318.7h0M403.9 426.3h0M408.8 400.2h0M406.4 393.6h0M390.9 421.3h0M399.0 412.2h0M496.0 205.3h0M496.8 160.9h0M415.3 428.0h0M484.6 235.3h0M381.1 454.2h0M474.8 338.1h0M556.4 207.9h0M413.7 432.1h0M496.8 170.5h0M492.7 266.4h0M379.5 432.9h0M474.8 301.9h0M360.8 462.8h0M496.8 181.4h0M474.8 135.3h0M399.9 443.3h0M394.2 462.8h0M491.9 250.8h0M413.7 407.6h0M412.9 408.0h0M410.4 379.8h0M438.1 322.4h0M386.0 437.5h0M439.8 325.1h0M398.2 431.4h0M476.4 315.4h0"/>
<path stroke="#A58AFF" d="M496.8 151.9h0M436.5 247.7h0M500.0 195.7h0M494.3 146.5h0M491.9 157.9h0M363.2 469.3h0M475.6 298.9h0M421.0 374.3h0M506.5 156.7h0M482.9 186.4h0M446.3 307.2h0M413.7 426.0h0M435.7 385.7h0M478.9 246.1h0M508.2 164.8h0M394.2 449.0h0M425.9 317.5h0M420.2 383.1h0M501.6 329.7h0M439.8 264.4h0M442.2 375.3h0M414.5 419.8h0M477.2 193.2h0M434.1 321.0h0M483.7 165.3h0M386.0 454.3h0M491.9 201.7h0M410.4 331.4h0M446.3 245.9h0M441.4 298.4h0M403.9 359.0h0M460.1 259.6h0M415.3 334.5h0M434.1 279.0h0M486.2 197.2h0M417.8 440.2h0M476.4 269.6h0M414.5 332.7h0M491.9 185.9h0M487.8 173.7h0M454.4 322.5h0M452.8 284.2h0M435.7 351.0h0M425.9 372.5h0M409.6 386.9h0M421.0 323.3h0M460.9 284.1h0M493.5 179.0h0M417.0 380.9h0M491.9 137.4h0M422.7 299.1h0M491.9 207.6h0M509.8 212.7h0M421.8 380.7h0M452.0 273.6h0M387.6 425.1h0M426.7 373.8h0M419.4 427.0h0M416.1 392.4h0M434.9 350.9h0M412.1 393.3h0M403.1 390.2h0M438.9 390.6h0M486.2 202.6h0M416.1 394.2h0M496.8 179.4h0M373.0 460.7h0M438.1 371.9h0M366.5 460.3h0M434.9 304.4h0M389.3 418.8h0M434.9 322.3h0M451.2 329.1h0M386.0 430.9h0M436.5 289.4h0M372.2 448.0h0M401.5 395.1h0M492.7 182.5h0M493.5 211.0h0M353.4 478.0h0M413.7 387.6h0M353.4 471.5h0M355.1 467.7h0M346.1 474.1h0M434.9 386.2h0M339.6 480.1h0"/>
<path stroke="#00B6EB" d="M442.2 245.0h0M478.0 250.7h0M422.7 251.1h0M491.9 159.4h0M485.4 219.2h0M454.4 279.8h0M417.8 331.0h0M451.2 208.6h0M419.4 388.9h0M450.3 187.9h0M492.7 170.6h0M484.6 177.5h0M366.5 462.6h0M477.2 298.4h0M428.4 388.5h0M368.9 466.6h0M407.2 354.8h0M423.5 355.4h0M456.0 317.9h0M445.5 137.5h0M463.4 194.2h0M493.5 186.6h0M441.4 255.8h0M421.0 399.2h0M430.8 420.9h0M456.9 293.9h0M369.7 466.3h0M460.1 242.5h0M444.6 308.7h0M434.9 407.6h0M434.1 355.9h0M434.1 267.4h0M396.6 358.6h0M434.1 375.7h0M417.8 396.2h0M434.1 285.5h0M451.2 168.9h0M440.6 386.1h0M397.4 330.5h0M410.4 347.9h0M394.2 274.2h0M492.7 139.9h0M421.8 366.8h0M422.7 359.8h0M499.2 170.3h0M412.1 311.2h0M438.1 234.8h0M420.2 344.4h0M488.6 225.6h0M473.2 304.3h0M491.9 144.9h0M435.7 319.5h0M389.3 394.6h0M415.3 298.7h0M476.4 237.7h0M378.7 424.5h0M439.8 341.8h0M378.7 421.5h0M380.3 446.3h0M416.1 384.9h0M442.2 228.5h0M408.0 325.4h0M435.7 330.6h0M476.4 258.4h0M390.1 400.3h0M475.6 252.2h0M420.2 378.1h0M460.9 257.2h0M383.6 434.5h0M412.1 353.2h0M417.8 389.2h0M396.6 436.0h0M503.3 157.6h0M434.1 358.6h0M406.4 389.1h0M434.9 324.5h0M349.4 477.2h0M435.7 313.7h0M387.6 441.0h0M418.6 413.2h0M405.6 427.8h0M497.6 203.0h0M408.0 403.4h0M437.3 356.6h0M451.2 303.1h0M408.0 302.4h0M364.8 459.2h0M411.3 405.6h0M491.9 209.0h0M434.9 314.2h0M394.2 362.5h0M386.0 444.3h0M434.1 257.3h0M368.9 436.7h0M368.9 422.8h0M346.1 458.2h0M395.8 443.3h0M398.2 379.0h0M496.8 154.3h0M416.1 361.4h0M413.7 315.2h0M410.4 368.4h0M416.1 413.7h0M435.7 359.9h0M409.6 404.0h0M344.5 481.5h0M396.6 424.9h0M372.2 442.5h0M374.6 450.1h0M419.4 349.5h0M494.3 214.2h0M444.6 302.4h0M452.0 313.3h0M386.0 449.8h0M449.5 238.3h0M477.2 148.7h0M403.9 401.0h0M434.9 321.3h0M381.1 409.8h0M393.3 399.5h0M437.3 274.7h0M368.1 452.8h0M450.3 191.4h0M333.9 480.0h0"/>
<path stroke="#C49A00" d="M425.1 367.1h0M411.3 248.2h0M450.3 176.2h0M341.2 455.1h0M414.5 299.4h0M420.2 303.1h0M428.4 333.4h0M419.4 357.8h0M431.6 361.1h0M434.9 150.4h0M416.1 255.7h0M373.8 403.2h0M417.8 298.1h0M411.3 278.0h0M353.4 434.4h0M408.0 318.0h0M414.5 286.1h0M351.8 431.1h0M421.0 254.5h0M396.6 267.3h0M411.3 295.3h0M466.6 247.0h0M415.3 290.6h0M393.3 312.7h0M403.9 352.7h0M452.8 283.7h0M399.9 270.7h0M408.0 372.7h0M359.9 424.9h0M383.6 371.1h0M420.2 243.0h0M412.1 229.1h0M404.7 318.7h0M370.5 371.8h0M458.5 243.2h0M378.7 423.0h0M403.9 367.7h0M401.5 352.8h0M422.7 279.2h0M391.7 398.6h0M386.0 449.2h0M379.5 413.0h0M355.1 440.3h0M350.2 442.5h0M409.6 308.3h0M452.8 255.1h0M408.0 376.0h0M408.0 376.8h0M388.5 435.0h0M371.4 415.1h0M380.3 424.4h0M382.8 417.4h0M410.4 335.1h0M396.6 350.8h0M403.9 317.9h0M350.2 458.9h0M394.2 358.8h0M395.0 405.5h0M404.7 404.4h0M409.6 236.5h0M368.9 440.2h0M355.1 441.2h0M397.4 399.9h0M342.0 481.0h0M373.0 436.1h0M454.4 305.5h0M373.0 440.5h0M333.1 483.6h0M384.4 411.9h0M380.3 415.9h0M370.5 435.6h0M475.6 152.5h0M371.4 429.8h0M368.9 420.3h0M368.9 426.9h0M404.7 305.5h0M437.3 244.4h0M346.9 458.2h0M398.2 360.4h0M370.5 425.0h0"/>
<path stroke="#A58AFF" d="M455.2 250.2h0M476.4 299.6h0M460.1 268.1h0M477.2 270.4h0M427.5 407.5h0M442.2 232.0h0M556.0 283.6h0M438.9 348.5h0M475.6 210.7h0M438.1 189.8h0M475.6 297.6h0M453.6 343.3h0M434.9 380.3h0M491.1 189.7h0M458.5 281.4h0M507.4 166.0h0M424.3 422.6h0M447.9 266.4h0M456.9 334.2h0M416.1 404.1h0M478.9 153.5h0M474.8 271.3h0M451.2 331.1h0M443.8 307.5h0M416.1 277.9h0M443.0 259.4h0M415.3 368.0h0M434.1 355.5h0M460.1 287.4h0M479.7 135.2h0M477.2 183.7h0M498.4 269.6h0M496.0 230.3h0M415.3 396.7h0M457.7 309.0h0M497.6 210.9h0M390.9 396.9h0M409.6 400.7h0M396.6 439.7h0M396.6 444.8h0M435.7 407.8h0M372.2 455.7h0M413.7 426.2h0M412.9 328.8h0M435.7 287.3h0M399.0 384.9h0M478.9 266.0h0M399.0 384.2h0M491.9 183.9h0M393.3 439.4h0M441.4 299.4h0M491.9 184.5h0M492.7 152.9h0M411.3 366.8h0M385.2 426.3h0M439.8 327.8h0M436.5 370.4h0M393.3 443.3h0M368.9 454.3h0M415.3 371.3h0M412.1 387.0h0M356.7 468.7h0M419.4 414.4h0M495.1 148.6h0"/>
<path stroke="#00B6EB" d="M419.4 411.5h0M477.2 293.0h0M474.8 296.5h0M482.1 234.6h0M438.9 379.0h0M481.3 292.2h0M434.9 215.2h0M557.0 136.6h0M474.8 270.1h0M434.1 380.2h0M475.6 255.4h0M448.7 319.7h0M408.0 311.4h0M452.0 185.3h0M404.7 434.1h0M437.3 194.7h0M399.0 447.9h0M414.5 228.5h0M440.6 304.1h0M452.0 371.3h0M443.8 358.4h0M479.7 162.3h0M396.6 290.3h0M429.2 354.7h0M410.4 379.1h0M402.3 436.8h0M434.9 310.4h0M438.9 334.7h0M434.1 352.8h0M407.2 346.9h0M435.7 261.9h0M428.4 368.6h0M403.1 423.8h0M480.5 229.7h0M417.8 313.1h0M339.6 483.4h0M443.8 296.0h0M409.6 393.6h0M437.3 409.4h0M415.3 385.7h0M439.8 300.7h0M434.9 328.2h0M436.5 362.8h0M434.9 303.8h0M477.2 158.8h0M368.9 456.3h0M441.4 300.9h0M380.3 410.9h0M472.3 312.6h0M395.0 335.2h0M375.4 442.5h0M380.3 422.2h0M436.5 352.2h0M386.0 388.2h0M491.1 180.0h0M451.2 293.5h0M411.3 394.4h0M475.6 206.4h0M440.6 323.0h0M496.0 164.1h0M435.7 243.4h0M478.0 224.6h0M412.1 406.3h0M359.9 469.1h0M368.9 422.8h0M408.0 365.6h0M491.9 159.4h0M434.1 330.0h0M435.7 300.3h0M353.4 448.7h0M411.3 363.4h0M398.2 406.5h0M410.4 389.6h0M452.0 316.9h0M440.6 309.5h0M365.7 415.6h0M393.3 427.9h0M409.6 359.4h0M412.9 378.9h0M353.4 452.7h0M352.6 467.3h0M451.2 365.9h0M371.4 432.5h0M407.2 376.1h0M414.5 406.6h0M371.4 454.7h0M346.1 477.3h0M373.8 440.1h0M483.7 155.4h0M412.9 392.2h0M533.0 270.8h0"/>
<path stroke="#FB61D7" d="M492.7 224.0h0M493.5 243.0h0M492.7 205.5h0M391.7 447.0h0M491.9 227.1h0M389.3 457.7h0M399.0 434.9h0M454.4 309.0h0M492.7 164.5h0M491.9 135.0h0M393.3 459.3h0M514.7 136.7h0M502.5 156.3h0M477.2 272.7h0M390.1 441.3h0M478.9 262.8h0M437.3 386.8h0M477.2 186.8h0M476.4 281.0h0M450.3 355.3h0M481.3 281.4h0M435.7 284.7h0M491.9 243.7h0M489.4 197.6h0M478.0 273.8h0M485.0 388.6h0M447.1 392.8h0M428.4 410.6h0M478.9 275.9h0M382.8 450.2h0M403.1 414.7h0M416.1 417.1h0M436.5 342.2h0M452.0 302.0h0M475.6 191.9h0M405.6 412.1h0M481.3 310.8h0M479.7 159.2h0M525.9 293.0h0M396.6 453.6h0M678.3 139.3h0M435.7 265.0h0M409.6 442.4h0M475.6 241.7h0M438.9 379.8h0M368.9 467.4h0M477.2 218.4h0M452.0 343.9h0M480.5 156.2h0M438.1 333.6h0M386.8 445.0h0M434.1 393.9h0M500.0 149.7h0M460.1 301.4h0M447.1 318.6h0M386.8 447.9h0M479.7 252.0h0M434.1 373.1h0M421.0 367.8h0M394.2 431.4h0M362.4 469.5h0M476.4 320.1h0M401.5 422.4h0M533.0 361.0h0"/>
<path stroke="#00C094" d="M435.7 193.7h0M438.9 291.2h0M423.5 347.1h0M476.4 292.1h0M471.5 208.8h0M424.3 355.2h0M477.2 150.6h0M452.8 201.9h0M475.6 320.4h0M480.5 231.1h0M477.2 248.0h0M452.0 198.3h0M487.8 188.6h0M482.9 192.7h0M438.9 359.4h0M435.7 206.6h0M477.2 179.4h0M477.2 259.1h0M434.9 206.5h0M474.8 278.4h0M454.4 232.1h0M478.0 181.2h0M399.9 439.8h0M435.7 362.7h0M457.7 298.8h0M402.3 364.9h0M436.5 206.8h0M457.7 248.5h0M477.2 175.4h0M428.4 398.7h0M415.3 390.1h0M426.7 386.0h0M476.4 236.2h0M434.1 325.4h0M457.7 242.1h0M392.5 385.1h0M411.3 417.3h0M440.6 324.3h0M436.5 295.6h0M485.4 159.2h0M438.9 259.0h0M399.0 325.4h0M381.9 431.5h0M382.8 407.9h0M412.9 300.0h0M406.4 354.9h0M434.1 372.6h0M454.4 316.8h0M372.2 459.9h0M456.0 264.9h0M438.1 197.5h0M491.9 265.4h0M408.0 359.9h0M406.4 319.8h0M399.0 369.0h0M400.7 371.7h0M435.7 295.1h0M434.9 185.6h0M450.3 293.8h0M418.6 391.9h0M400.7 351.5h0M434.1 383.6h0M450.3 225.0h0M399.0 420.1h0M399.9 352.9h0M378.7 420.4h0M405.6 349.1h0M403.9 398.2h0M476.4 211.6h0M415.3 287.2h0M340.4 460.3h0M427.5 387.3h0M401.5 372.4h0M420.2 391.0h0M389.3 421.0h0M395.0 315.2h0M438.1 264.7h0M451.2 280.4h0M475.6 261.4h0M414.5 334.2h0M414.5 323.6h0M451.2 296.5h0M483.7 179.8h0M409.6 373.2h0M452.8 275.6h0M373.8 396.8h0M412.9 394.5h0M396.6 372.6h0M363.2 442.0h0M440.6 273.8h0M396.6 386.2h0M441.4 296.2h0M368.9 451.2h0M399.9 346.1h0M487.0 143.1h0M475.6 161.5h0M396.6 335.4h0M399.9 400.4h0M395.8 404.8h0M386.8 438.4h0M395.8 433.6h0M450.3 335.2h0M346.1 459.3h0M399.0 384.1h0M402.3 411.5h0M352.6 473.1h0M346.9 459.8h0M409.6 345.0h0M384.4 404.7h0M344.5 477.2h0M369.7 434.9h0M450.3 323.0h0M434.9 185.6h0M344.5 468.6h0M355.1 466.2h0M341.2 478.2h0M386.8 392.6h0"/>
<path stroke="#F8766D" d="M411.3 267.1h0M395.8 284.8h0M360.8 414.9h0M359.1 427.1h0M371.4 391.2h0M352.6 425.7h0M420.2 246.2h0M420.2 321.7h0M394.2 288.4h0M394.2 224.4h0M397.4 319.3h0M368.1 395.9h0M340.4 442.4h0M341.2 458.1h0M442.2 248.1h0M407.2 369.3h0M364.0 421.8h0M372.2 399.8h0M387.6 369.8h0M356.7 423.2h0M378.7 415.1h0M401.5 331.7h0M388.5 357.7h0M478.0 212.8h0M338.0 461.8h0M408.0 345.5h0M393.3 303.9h0M401.5 320.7h0M348.5 446.6h0M434.9 136.0h0M344.5 448.4h0M364.8 438.3h0M348.5 449.2h0M398.2 388.5h0M355.9 436.2h0M395.0 308.8h0M371.4 378.6h0M394.2 358.5h0M352.6 445.3h0M383.6 414.4h0M370.5 411.7h0M353.4 448.3h0M341.2 469.1h0M348.5 448.1h0M354.2 441.1h0M352.6 455.4h0M349.4 457.5h0M395.0 369.5h0M347.7 462.1h0"/>
<path stroke="#53B400" d="M421.0 241.0h0M420.2 277.3h0M439.8 162.7h0M409.6 279.1h0M438.1 287.3h0M409.6 299.8h0M435.7 232.3h0M365.7 423.5h0M453.6 219.2h0M446.3 253.7h0M424.3 353.4h0M451.2 258.8h0M408.8 295.8h0M394.2 253.2h0M478.9 215.2h0M418.6 313.4h0M409.6 286.0h0M440.6 199.2h0M390.1 360.1h0M415.3 306.2h0M421.0 405.4h0M414.5 355.4h0M482.1 192.4h0M406.4 330.4h0M409.6 399.6h0M434.9 204.3h0M475.6 205.3h0M416.1 284.1h0M411.3 294.5h0M444.6 178.4h0M437.3 244.5h0M456.0 172.7h0M434.9 289.3h0M385.2 454.5h0M420.2 332.3h0M434.9 224.7h0M414.5 361.7h0M421.0 343.4h0M368.9 410.0h0M402.3 407.5h0M454.4 308.5h0M449.5 206.4h0M440.6 173.6h0M442.2 279.4h0M368.9 456.5h0M414.5 343.3h0M365.7 446.9h0M421.0 337.3h0M417.8 351.2h0M423.5 299.3h0M434.9 266.5h0M411.3 303.9h0M376.2 388.9h0M354.2 444.6h0M386.0 452.2h0M434.9 232.9h0M412.1 385.5h0M403.9 392.8h0M365.7 442.6h0M434.9 249.4h0M434.9 318.6h0M474.8 221.4h0M386.0 427.9h0M368.9 425.6h0M387.6 433.2h0M352.6 436.3h0M409.6 350.4h0M450.3 225.5h0M357.5 435.0h0M434.9 302.8h0M385.2 435.9h0M397.4 343.3h0M395.8 405.4h0M409.6 302.7h0M396.6 412.4h0M411.3 246.2h0M395.0 387.9h0M415.3 353.2h0M388.5 415.7h0M354.2 457.5h0M437.3 277.2h0M401.5 321.1h0M372.2 449.3h0M439.8 278.2h0M474.8 202.4h0M357.5 450.4h0M355.9 468.6h0M400.7 428.4h0M373.0 426.8h0M345.3 474.3h0M434.9 218.6h0M382.8 389.1h0M434.9 238.1h0M397.4 380.6h0"/>
<path stroke="#C49A00" d="M424.3 244.2h0M408.8 280.3h0M452.8 156.8h0M453.6 305.1h0M443.0 250.5h0M418.6 360.5h0M446.3 254.9h0M434.1 156.4h0M369.7 403.4h0M434.9 155.2h0M450.3 171.7h0M350.2 439.0h0M365.7 442.4h0M403.9 339.4h0M436.5 283.1h0M438.9 283.6h0M425.9 298.1h0M362.4 446.7h0M398.2 294.8h0M386.0 359.9h0M410.4 246.6h0M355.1 474.4h0M411.3 239.3h0M448.7 228.3h0M442.2 190.5h0M368.9 417.7h0M452.8 179.3h0M410.4 331.8h0M408.8 274.4h0M377.1 413.5h0M351.0 441.5h0M415.3 333.7h0M425.9 299.6h0M394.4 268.0h0M377.1 405.0h0M389.3 394.7h0M415.3 295.6h0M357.5 435.3h0M403.1 320.1h0M434.9 222.8h0M368.9 412.8h0M412.1 280.7h0M391.7 388.9h0M434.9 295.2h0M421.0 346.5h0M414.5 368.0h0M378.7 412.6h0M451.2 219.7h0M355.9 436.4h0M410.4 374.7h0M376.2 427.6h0M399.0 359.7h0M403.1 335.9h0M354.2 444.2h0M452.8 301.6h0M395.0 334.9h0M368.9 461.5h0M363.2 456.3h0M411.3 378.6h0M410.4 328.1h0M394.2 362.5h0M410.4 366.4h0M436.5 291.0h0M437.3 249.0h0M376.2 419.1h0M394.2 359.1h0M355.1 447.8h0M434.9 264.1h0M357.5 451.4h0M398.2 372.4h0M385.2 390.0h0M396.6 382.5h0M386.0 397.7h0M395.0 380.1h0M348.5 451.4h0M368.9 425.7h0M392.5 381.5h0M377.9 429.3h0M392.5 399.1h0M451.2 293.7h0M401.5 357.7h0M370.5 439.8h0M354.2 448.4h0M352.6 466.9h0M369.7 430.4h0M478.0 268.1h0M412.1 288.0h0M374.6 419.1h0M407.2 361.5h0M411.3 362.6h0M370.5 438.0h0M368.9 430.5h0M425.9 333.0h0M330.6 478.8h0M438.1 303.5h0M344.5 467.5h0M386.0 402.4h0M337.1 471.4h0M338.0 481.4h0M353.4 456.7h0M354.2 451.3h0M338.8 469.1h0"/>
<path stroke="#FB61D7" d="M496.8 246.7h0M449.5 283.2h0M437.3 385.5h0M452.8 378.2h0M412.1 420.8h0M498.4 147.4h0M434.1 234.5h0M446.3 372.4h0M434.9 395.5h0M477.2 274.6h0M452.0 326.3h0M492.7 207.6h0M477.2 206.1h0M476.4 320.9h0M424.3 388.8h0M478.0 241.9h0M437.3 276.0h0M434.9 336.2h0M405.6 432.3h0M436.5 372.7h0M492.7 196.3h0M491.9 191.7h0M453.6 300.6h0M450.3 305.3h0M386.0 445.8h0M479.7 236.9h0M395.8 446.5h0M434.9 293.6h0M719.3 148.9h0M398.2 451.6h0M453.6 309.3h0M420.2 396.3h0M338.0 486.1h0M504.9 268.4h0M479.7 286.0h0M438.9 355.5h0M482.9 232.9h0M534.6 324.1h0M495.1 228.7h0M514.7 147.0h0M416.1 430.7h0M394.2 451.2h0M396.6 442.1h0M409.6 402.6h0M397.4 404.7h0M491.9 139.1h0M390.9 418.1h0M419.4 393.4h0M345.3 480.6h0M475.6 241.0h0M475.6 213.5h0M342.0 480.4h0M447.9 360.7h0M371.4 445.3h0M469.9 350.3h0M384.4 402.9h0"/>
<path stroke="#00C094" d="M438.9 257.9h0M424.3 317.8h0M491.9 155.2h0M418.6 292.5h0M447.9 236.6h0M452.8 339.0h0M418.6 399.5h0M454.4 267.4h0M403.9 327.6h0M455.2 284.8h0M447.1 202.7h0M438.1 222.1h0M425.9 375.0h0M352.6 420.4h0M458.5 280.3h0M421.0 328.7h0M405.6 353.7h0M412.1 292.1h0M478.9 196.2h0M338.0 457.8h0M421.8 378.1h0M481.3 241.7h0M438.1 171.8h0M377.9 403.7h0M509.8 217.1h0M410.4 283.4h0M452.0 286.0h0M453.6 214.9h0M408.8 334.7h0M384.4 371.2h0M444.6 321.0h0M421.0 344.4h0M401.5 287.9h0M451.2 163.1h0M392.5 379.6h0M418.6 383.4h0M381.9 429.4h0M474.8 226.3h0M477.2 155.2h0M471.5 235.5h0M492.7 189.9h0M435.7 331.3h0M438.1 244.6h0M439.8 225.3h0M452.0 285.2h0M456.0 283.3h0M454.4 136.7h0M470.7 221.4h0M428.4 316.6h0M389.3 387.9h0M410.4 380.7h0M453.6 285.3h0M451.2 238.2h0M415.3 363.4h0M452.8 317.8h0M435.7 255.1h0M444.6 239.5h0M451.2 200.6h0M409.6 396.9h0M411.3 298.9h0M438.1 343.3h0M469.9 272.1h0M456.9 303.7h0M412.9 252.2h0M434.9 289.4h0M395.0 312.8h0M414.5 363.8h0M412.9 401.4h0M485.4 164.0h0M474.8 232.9h0M417.0 352.4h0M440.6 347.4h0M440.6 168.5h0M434.9 307.7h0M434.9 255.4h0M362.4 439.6h0M397.4 382.4h0M514.6 325.6h0M410.4 329.1h0M392.5 433.9h0M417.8 326.3h0M367.3 420.1h0M412.9 352.4h0M422.7 341.4h0M446.3 199.2h0M434.9 211.2h0M364.8 451.3h0M416.1 328.2h0M334.7 477.0h0M450.3 300.9h0M359.1 454.3h0M399.9 396.0h0M396.6 393.6h0M334.7 476.2h0M411.3 334.9h0M437.3 188.1h0M366.5 458.7h0M490.1 361.2h0M360.8 469.2h0M403.1 395.4h0M375.4 426.8h0M474.8 193.0h0M436.5 358.1h0M390.1 404.8h0M418.6 325.2h0M425.1 381.9h0M399.0 335.4h0M399.0 424.4h0M340.4 457.5h0M360.8 456.3h0M394.2 405.8h0M448.7 277.0h0M435.7 378.1h0M477.2 193.9h0M395.0 373.6h0M411.3 339.2h0M395.8 418.7h0M436.5 288.2h0M394.2 346.0h0M349.4 464.2h0M348.5 474.7h0M343.7 475.2h0M352.6 454.4h0M434.1 313.0h0M437.3 276.4h0M337.1 479.8h0M410.4 432.2h0M352.6 468.4h0"/>
<path stroke="#C49A00" d="M438.1 221.7h0M470.7 229.9h0M435.7 174.1h0M403.1 278.3h0M443.0 296.9h0M382.8 391.9h0M447.9 252.0h0M362.4 445.5h0M368.9 416.5h0M396.6 280.9h0M401.5 258.9h0M412.9 291.2h0M459.3 236.6h0M390.1 384.4h0M411.3 250.1h0M418.6 282.2h0M394.2 285.6h0M360.8 462.1h0M371.4 398.2h0M456.0 197.4h0M422.7 342.1h0M374.6 407.6h0M403.9 365.5h0M385.2 380.7h0M346.1 445.6h0M368.9 420.0h0M406.4 341.2h0M415.3 325.5h0M386.8 345.8h0M361.6 452.2h0M352.6 428.4h0M409.6 240.2h0M446.3 151.2h0M407.2 316.4h0M399.9 355.9h0M437.3 253.0h0M358.3 438.4h0M372.2 409.3h0M386.0 386.9h0M405.6 381.4h0M397.4 420.2h0M378.7 427.1h0M444.6 221.2h0M406.4 320.9h0M413.7 369.0h0M399.0 273.6h0M426.7 325.0h0M437.3 281.3h0M412.1 312.7h0M377.9 436.6h0M410.4 320.7h0M359.9 447.6h0M376.2 417.6h0M372.2 415.7h0M392.5 400.5h0M393.3 345.4h0M355.9 445.1h0M386.8 390.5h0M436.5 230.4h0M341.2 467.8h0M354.2 471.9h0M385.2 399.8h0M438.1 153.8h0M350.2 472.8h0M372.2 422.5h0M346.1 466.6h0M434.9 228.4h0M390.9 389.4h0M406.4 366.4h0M344.5 463.4h0M393.3 275.9h0M332.3 478.0h0M355.9 456.1h0M357.5 459.7h0M341.2 464.1h0M371.4 424.4h0M370.5 422.0h0M336.3 474.5h0"/>
<path stroke="#F8766D" d="M369.7 371.9h0M447.1 292.9h0M394.2 283.1h0M424.3 299.1h0M362.4 431.7h0M425.9 327.8h0M404.7 296.8h0M387.6 388.1h0M344.5 453.4h0M399.9 314.8h0M358.3 415.4h0M372.2 391.3h0M399.0 310.4h0M425.1 329.1h0M360.8 422.2h0M393.3 305.9h0M380.3 415.6h0M395.8 303.2h0M410.4 176.6h0M356.7 404.8h0M434.1 209.5h0M410.4 248.4h0M403.9 393.5h0M361.6 448.2h0M438.1 241.7h0M400.7 324.6h0M333.9 467.8h0M398.2 333.9h0M339.6 463.3h0M363.2 379.7h0M422.7 365.0h0M359.9 422.4h0M399.9 326.0h0M406.4 369.8h0M456.0 135.2h0M434.9 304.8h0M337.1 464.9h0M345.3 449.5h0M416.1 301.0h0M412.9 286.4h0M341.2 465.1h0M369.7 429.6h0M393.3 325.7h0M394.2 416.0h0M351.0 449.0h0M351.8 459.4h0M371.4 443.2h0M339.6 473.2h0M388.5 404.4h0M452.8 276.7h0M352.6 468.8h0M338.0 481.7h0"/>
<path stroke="#A58AFF" d="M438.9 357.5h0M496.8 145.5h0M469.9 386.1h0M461.7 172.5h0M479.7 297.0h0M489.4 163.9h0M434.9 385.8h0M460.9 238.3h0M441.4 351.2h0M443.8 339.5h0M493.5 144.3h0M434.9 422.6h0M455.2 263.4h0M438.9 259.6h0M451.2 346.9h0M413.7 420.4h0M486.2 147.2h0M477.2 234.9h0M447.9 284.9h0M491.9 192.8h0M402.3 425.0h0M422.7 355.0h0M501.7 173.4h0M480.5 311.3h0M497.6 239.6h0M474.8 296.6h0M516.3 154.0h0M499.2 218.2h0M488.6 218.5h0M434.9 340.9h0M407.2 380.6h0M377.1 438.9h0M406.4 413.8h0M504.9 134.3h0M474.8 249.6h0M418.6 424.6h0M394.2 453.5h0M469.1 309.2h0M390.1 441.2h0M383.6 438.5h0M387.6 441.5h0M437.3 337.1h0M453.6 300.0h0M435.7 341.2h0M440.6 401.0h0M452.8 299.2h0M434.9 353.2h0M492.7 184.1h0M403.9 411.5h0M410.4 397.3h0M401.5 406.0h0M482.9 196.8h0M513.9 167.1h0M456.9 330.3h0M497.6 154.9h0M434.1 376.6h0M434.9 392.6h0M388.5 425.9h0M529.4 307.8h0M493.5 248.2h0M417.8 338.8h0M450.3 362.4h0M436.5 378.6h0M475.6 206.6h0M412.1 404.2h0M499.2 148.1h0M500.8 179.0h0M511.4 158.2h0M421.0 409.5h0M357.5 470.0h0M445.5 271.1h0M407.2 344.3h0M434.9 279.1h0M377.9 453.3h0M452.0 324.9h0M485.4 138.6h0M417.0 364.3h0M363.2 462.1h0M435.7 380.7h0M398.2 401.1h0M352.6 453.0h0M437.3 256.8h0M371.4 444.6h0M373.8 432.5h0M351.0 474.7h0M437.3 361.4h0M395.0 418.3h0M395.8 392.6h0M459.3 315.3h0M395.0 433.7h0M360.8 456.7h0"/>
<path stroke="#53B400" d="M395.0 276.8h0M360.8 429.2h0M368.9 405.4h0M448.7 275.1h0M421.8 305.2h0M442.2 331.2h0M453.6 165.5h0M447.9 216.8h0M396.6 258.3h0M459.3 220.1h0M392.5 389.0h0M436.5 213.5h0M418.6 398.3h0M450.3 251.7h0M408.0 402.8h0M437.3 185.8h0M457.7 253.9h0M447.1 231.9h0M406.4 261.8h0M404.7 254.3h0M410.4 309.8h0M478.0 247.1h0M399.0 433.4h0M420.2 329.5h0M408.8 388.1h0M366.5 419.7h0M361.6 465.3h0M346.1 439.7h0M437.3 285.4h0M447.9 344.4h0M410.4 217.7h0M419.4 353.9h0M376.2 414.5h0M412.1 400.3h0M477.2 171.0h0M394.2 302.2h0M410.4 338.1h0M412.1 316.0h0M422.7 342.0h0M410.4 329.1h0M407.2 361.8h0M400.7 365.8h0M426.7 266.8h0M408.0 333.2h0M412.1 299.7h0M440.6 258.5h0M416.1 324.6h0M380.3 371.5h0M434.9 218.6h0M393.3 331.1h0M422.7 321.8h0M335.5 470.8h0M376.2 441.9h0M434.1 251.7h0M434.1 179.0h0M399.0 349.2h0M387.6 429.9h0M435.7 339.4h0M353.4 442.1h0M439.8 212.7h0M411.3 412.9h0M417.8 278.6h0M413.7 280.5h0M437.3 274.0h0M402.3 334.4h0M395.0 438.9h0M396.6 415.5h0M399.0 395.6h0M436.5 213.1h0M399.0 399.0h0M404.7 360.8h0M409.6 271.6h0M363.2 458.9h0M397.4 402.8h0M451.2 240.7h0M405.6 327.8h0M413.7 370.2h0M386.8 415.8h0M436.5 255.8h0M400.7 389.7h0M404.7 332.6h0M395.0 380.7h0M369.7 411.7h0M395.8 277.9h0M370.5 431.7h0M396.6 392.3h0M475.6 271.1h0M412.1 407.0h0M405.6 319.2h0M452.8 236.6h0M409.6 405.2h0M386.0 379.0h0M456.9 235.6h0M342.8 467.3h0M446.3 297.7h0M393.3 422.6h0M437.3 243.9h0M370.5 422.0h0M369.7 451.5h0M393.3 385.1h0M399.9 412.7h0M371.4 409.0h0M371.4 419.7h0M347.7 468.2h0M338.0 479.7h0"/>
<path stroke="#00B6EB" d="M426.7 377.7h0M501.1 335.3h0M421.8 276.8h0M408.0 350.2h0M478.0 308.8h0M375.4 461.1h0M436.5 196.0h0M436.5 247.7h0M493.5 178.6h0M470.7 246.0h0M499.2 209.1h0M477.2 367.7h0M436.5 399.1h0M455.2 232.3h0M450.3 256.0h0M443.8 313.9h0M373.8 463.0h0M451.2 186.1h0M419.4 354.0h0M491.9 234.0h0M419.4 404.7h0M417.0 240.5h0M463.4 331.7h0M407.2 446.3h0M477.2 173.8h0M415.3 431.2h0M458.5 275.4h0M472.3 231.5h0M451.2 347.6h0M480.5 233.8h0M438.1 153.5h0M495.1 191.5h0M444.6 314.2h0M497.6 149.6h0M648.1 162.1h0M431.6 343.6h0M474.8 369.6h0M481.3 251.2h0M410.4 429.8h0M444.6 353.3h0M420.2 239.0h0M475.6 265.9h0M424.3 328.8h0M410.4 307.2h0M424.3 393.6h0M426.7 364.3h0M474.8 215.2h0M434.1 352.7h0M452.8 314.0h0M437.3 272.2h0M420.2 364.3h0M435.7 286.7h0M499.2 146.3h0M394.2 463.7h0M480.5 260.9h0M421.0 364.4h0M438.9 371.1h0M411.3 261.7h0M434.9 365.2h0M397.4 342.6h0M491.1 195.4h0M493.5 212.6h0M475.6 250.6h0M608.7 270.0h0M435.7 319.4h0M456.0 353.5h0M479.7 207.4h0M420.2 411.9h0M410.4 405.5h0M377.1 444.8h0M434.9 288.8h0M479.7 234.8h0M426.7 388.9h0M405.6 382.8h0M409.6 423.1h0M393.3 331.1h0M444.6 265.9h0M475.6 214.0h0M399.9 448.2h0M411.3 385.4h0M378.7 436.0h0M438.1 324.6h0M410.4 348.7h0M412.9 418.5h0M476.4 190.8h0M402.3 358.5h0M436.5 251.4h0M486.9 370.7h0M373.0 455.2h0M412.1 339.6h0M496.8 165.3h0M412.9 375.6h0M359.9 456.6h0M415.3 372.1h0M451.2 246.6h0M416.1 321.5h0M412.9 379.5h0M425.9 386.3h0M396.6 434.7h0M483.7 146.0h0M452.8 357.0h0M474.8 245.3h0M372.2 440.3h0M380.3 405.0h0M381.9 379.7h0M378.7 436.5h0M444.6 280.1h0M439.8 310.8h0M399.0 430.1h0M416.1 379.4h0M434.9 235.0h0M485.4 201.7h0M353.4 461.1h0M491.1 173.6h0M406.4 361.3h0M385.2 425.8h0M412.9 391.0h0M435.7 352.6h0M342.0 480.1h0M441.4 298.0h0M372.2 454.2h0M352.6 465.4h0M381.9 435.6h0M389.3 410.6h0M370.5 462.9h0M394.2 424.4h0M393.3 385.3h0M353.4 465.7h0"/>
<path stroke="#53B400" d="M409.6 281.9h0M417.8 260.7h0M454.4 238.2h0M430.0 298.4h0M408.0 242.9h0M443.0 192.6h0M435.7 187.6h0M428.4 281.1h0M475.6 182.8h0M421.8 388.7h0M417.8 276.4h0M414.5 248.0h0M425.9 304.7h0M473.2 328.8h0M405.6 359.2h0M417.8 338.6h0M475.6 166.7h0M399.9 439.9h0M434.9 204.2h0M400.7 375.9h0M420.2 330.1h0M491.9 233.9h0M440.6 163.2h0M451.2 289.4h0M425.1 325.3h0M477.2 145.5h0M389.3 383.0h0M400.7 339.9h0M408.0 393.3h0M425.1 341.5h0M438.1 221.3h0M436.5 342.5h0M434.1 207.1h0M434.1 300.2h0M352.6 433.7h0M418.6 372.1h0M332.3 476.8h0M422.7 348.5h0M424.3 271.4h0M395.0 200.2h0M451.2 234.9h0M393.3 320.6h0M350.2 446.1h0M421.0 389.1h0M433.2 282.0h0M402.3 320.1h0M400.7 323.1h0M452.8 295.6h0M417.0 339.4h0M418.6 393.9h0M399.0 412.8h0M451.2 223.8h0M405.6 324.9h0M435.7 217.7h0M412.1 339.8h0M442.2 331.7h0M409.6 319.6h0M357.5 458.1h0M420.2 358.8h0M434.1 254.4h0M438.9 364.1h0M401.5 367.2h0M439.8 212.3h0M478.9 177.9h0M398.2 340.4h0M385.2 372.5h0M389.3 433.8h0M396.6 390.8h0M412.1 410.3h0M343.7 463.7h0M421.8 407.9h0M412.9 169.0h0M398.2 413.4h0M451.2 317.9h0M409.6 372.2h0M393.3 363.5h0M448.7 248.5h0M368.9 422.3h0M419.4 304.8h0M417.0 339.2h0M388.5 412.3h0M422.7 253.3h0M434.9 264.0h0M425.9 305.8h0M355.1 472.5h0M386.0 391.6h0M345.3 458.9h0M353.4 450.4h0M385.2 441.1h0M390.9 404.9h0M356.7 437.0h0M355.1 441.2h0M333.9 474.0h0M436.5 312.0h0M473.2 248.9h0"/>
<path stroke="#A58AFF" d="M370.5 468.6h0M427.5 358.8h0M474.8 321.9h0M436.5 414.1h0M497.6 141.0h0M405.6 431.3h0M411.3 431.7h0M485.4 262.6h0M500.8 228.4h0M441.4 363.3h0M478.9 215.3h0M492.7 230.5h0M493.5 182.6h0M353.4 478.2h0M487.0 185.8h0M438.1 365.4h0M438.9 312.2h0M434.9 411.6h0M496.8 180.4h0M476.4 293.4h0M637.9 202.2h0M452.0 283.7h0M406.4 397.4h0M420.2 394.8h0M492.7 135.7h0M487.8 168.9h0M445.5 333.8h0M434.9 246.7h0M398.2 349.4h0M495.1 206.4h0M434.9 301.8h0M434.1 330.7h0M491.9 186.9h0M556.4 144.4h0M495.1 159.3h0M375.4 455.6h0M494.3 144.1h0M491.9 256.3h0M373.0 462.7h0M434.9 261.6h0M475.6 277.9h0M455.2 291.0h0M399.9 418.3h0M417.8 354.1h0M474.8 293.6h0M366.5 463.7h0M450.3 328.3h0M478.9 212.6h0M403.9 412.6h0M411.3 432.8h0M438.9 314.5h0M371.4 463.0h0M438.1 365.9h0M411.3 421.5h0M405.6 411.0h0M450.3 243.2h0M364.8 452.1h0M399.0 397.3h0M378.7 439.4h0M434.9 371.1h0M491.1 172.2h0M434.9 358.3h0M413.7 372.4h0M399.9 381.5h0M385.2 444.3h0M364.0 447.0h0M386.0 422.4h0M386.8 447.2h0M394.2 437.7h0M480.5 137.9h0M491.1 193.1h0M369.7 439.1h0M493.5 188.8h0M356.7 475.5h0M392.5 427.2h0M373.8 451.3h0M434.1 409.0h0M507.4 219.1h0M421.8 310.8h0M353.4 458.9h0"/>
<path stroke="#C49A00" d="M410.4 265.7h0M421.8 288.3h0M380.3 402.2h0M399.0 300.8h0M344.5 448.8h0M532.0 165.3h0M449.5 308.5h0M422.7 280.2h0M422.7 165.7h0M406.4 313.1h0M448.7 281.6h0M395.8 175.0h0M350.2 435.9h0M403.1 415.8h0M457.7 246.5h0M424.3 333.6h0M415.3 316.1h0M409.6 298.9h0M427.5 311.9h0M373.0 405.6h0M363.2 434.9h0M435.7 154.4h0M381.9 405.1h0M367.3 416.1h0M428.4 302.1h0M415.3 255.9h0M403.1 383.4h0M451.2 237.6h0M376.2 410.5h0M423.5 296.3h0M381.1 429.4h0M399.9 269.3h0M370.5 398.1h0M394.2 312.3h0M368.9 408.1h0M395.0 321.1h0M399.0 306.4h0M403.1 421.3h0M383.6 397.3h0M435.7 135.3h0M374.6 392.6h0M415.3 238.2h0M405.6 227.8h0M400.7 324.0h0M434.9 289.0h0M393.3 305.4h0M434.9 265.9h0M411.3 364.8h0M386.0 381.2h0M438.1 299.7h0M400.7 321.4h0M397.4 344.2h0M439.8 254.6h0M393.3 315.7h0M434.9 244.4h0M410.4 370.9h0M353.4 437.7h0M395.8 247.8h0M387.6 412.4h0M386.0 394.8h0M398.2 328.3h0M417.8 257.5h0M339.6 451.8h0M393.3 329.7h0M412.1 222.2h0M434.9 261.5h0M381.1 416.2h0M371.4 406.0h0M344.5 463.1h0M415.3 279.2h0M434.1 288.4h0M424.3 343.5h0M386.8 409.5h0M368.9 427.7h0M403.1 354.2h0M401.5 338.6h0M388.5 380.3h0M399.0 369.4h0M409.6 390.8h0M397.4 372.9h0M337.1 459.9h0M396.6 412.5h0M346.9 439.0h0M394.2 379.3h0M359.1 459.6h0M344.5 467.4h0M331.4 481.9h0M368.9 446.9h0M348.5 456.4h0M412.1 397.0h0M336.3 475.6h0M370.5 425.6h0"/>
<path stroke="#00C094" d="M464.2 204.4h0M476.4 167.2h0M442.2 183.5h0M425.9 297.4h0M456.9 302.1h0M438.1 316.5h0M412.1 288.6h0M460.1 356.4h0M425.1 368.4h0M478.0 195.9h0M381.1 392.9h0M491.9 193.4h0M383.6 446.5h0M406.4 311.3h0M373.8 391.2h0M417.8 419.3h0M403.9 321.3h0M438.1 238.0h0M451.2 221.0h0M452.8 336.5h0M364.8 433.8h0M465.0 297.4h0M434.1 190.2h0M454.4 159.5h0M397.4 330.4h0M478.9 210.1h0M417.0 400.2h0M448.7 297.1h0M411.3 300.4h0M456.0 256.4h0M474.8 191.0h0M438.9 189.9h0M424.3 381.0h0M478.0 156.6h0M380.3 442.4h0M451.2 289.5h0M443.0 277.2h0M460.9 276.9h0M438.1 357.8h0M425.1 326.0h0M475.6 181.7h0M415.3 264.9h0M465.0 135.0h0M476.4 238.5h0M405.6 360.4h0M435.7 260.2h0M377.9 447.5h0M412.9 305.7h0M379.5 369.4h0M455.2 217.8h0M398.2 354.2h0M434.9 314.2h0M428.4 327.6h0M381.9 409.8h0M436.5 242.3h0M450.3 296.4h0M452.0 281.4h0M410.4 368.7h0M402.3 380.5h0M412.9 284.7h0M417.0 352.6h0M436.5 351.1h0M453.6 242.8h0M403.9 419.2h0M438.1 331.7h0M348.5 430.7h0M408.0 429.1h0M435.7 298.7h0M425.9 319.3h0M403.9 414.2h0M436.5 396.2h0M409.6 363.9h0M441.4 273.9h0M434.9 318.7h0M445.5 323.7h0M464.2 305.4h0M430.8 244.2h0M434.1 180.2h0M396.6 381.8h0M413.7 300.5h0M412.9 328.6h0M500.4 352.6h0M414.5 361.7h0M453.6 193.3h0M476.4 228.6h0M438.1 289.6h0M421.8 301.0h0M412.9 361.3h0M394.2 360.2h0M412.9 382.1h0M409.6 413.6h0M330.6 479.9h0M412.1 317.5h0M409.6 285.2h0M373.0 411.7h0M424.3 312.7h0M368.9 449.7h0M456.0 173.9h0M420.2 364.5h0M373.0 448.9h0M411.3 377.1h0M374.6 442.1h0M446.3 319.0h0M389.3 409.1h0M402.3 389.0h0M359.9 434.7h0M352.6 467.8h0M412.9 362.0h0M387.6 449.6h0M353.4 468.5h0M422.7 410.8h0M336.3 478.6h0M386.8 410.4h0"/>
<path stroke="#F8766D" d="M452.0 193.4h0M352.6 427.2h0M386.0 353.8h0M361.6 422.8h0M436.5 195.2h0M457.7 245.1h0M394.4 145.0h0M416.1 239.3h0M333.9 471.0h0M405.6 324.5h0M395.8 269.2h0M363.2 418.6h0M451.2 282.5h0M412.9 240.1h0M392.5 384.5h0M436.5 236.4h0M375.4 404.3h0M397.4 356.1h0M354.2 431.9h0M347.7 440.5h0M395.8 319.6h0M386.0 374.3h0M417.8 350.2h0M386.8 380.1h0M390.1 430.4h0M412.1 354.8h0M354.2 424.8h0M402.3 318.6h0M359.1 433.9h0M377.1 414.2h0M386.0 378.4h0M381.9 430.8h0M379.5 403.2h0M435.7 184.8h0M397.4 290.2h0M391.7 413.6h0M398.2 339.4h0M405.6 372.6h0M330.6 475.1h0M370.5 419.4h0M400.7 380.1h0M345.3 454.9h0M405.6 340.5h0M372.2 418.4h0M425.1 372.9h0M398.2 378.3h0M375.4 449.5h0M386.0 369.5h0M383.6 416.9h0M354.2 454.4h0M395.0 380.6h0M399.0 344.5h0M386.8 411.1h0M423.5 316.8h0M368.9 450.5h0M330.6 483.2h0M434.9 242.4h0M342.0 470.2h0M336.3 470.4h0"/>
<path stroke="#00B6EB" d="M424.3 392.9h0M437.3 389.7h0M443.0 248.0h0M451.2 336.4h0M491.9 243.0h0M435.7 262.8h0M441.4 353.5h0M492.7 138.4h0M434.9 319.2h0M439.8 171.5h0M499.2 149.3h0M454.4 267.5h0M408.8 419.4h0M375.4 461.4h0M436.5 184.0h0M476.4 235.1h0M478.0 264.3h0M491.9 150.2h0M453.6 177.5h0M454.4 271.8h0M435.7 246.7h0M438.1 318.7h0M417.8 371.0h0M424.3 405.0h0M394.2 454.9h0M474.8 247.5h0M473.2 229.0h0M494.3 174.6h0M437.3 393.1h0M454.4 335.9h0M404.7 383.5h0M437.3 275.4h0M474.8 250.2h0M475.6 248.2h0M407.2 358.1h0M557.4 288.2h0M401.5 435.7h0M444.6 324.0h0M481.3 223.8h0M443.8 317.6h0M391.7 391.3h0M434.9 337.7h0M409.6 429.3h0M438.1 312.3h0M423.5 352.7h0M496.8 186.0h0M399.0 360.6h0M434.9 391.5h0M412.9 319.3h0M442.2 331.0h0M381.1 455.2h0M388.5 400.8h0M434.9 253.8h0M453.6 282.3h0M478.9 310.5h0M480.5 170.5h0M397.4 431.7h0M397.4 363.2h0M421.0 310.0h0M463.4 277.4h0M478.9 196.5h0M502.5 265.1h0M444.6 269.3h0M405.6 349.0h0M407.2 411.9h0M434.9 366.4h0M403.9 396.1h0M491.9 173.2h0M413.7 364.1h0M455.2 266.1h0M375.4 463.0h0M400.7 378.7h0M458.5 225.2h0M435.7 265.0h0M434.1 303.4h0M378.7 419.1h0M404.7 370.9h0M407.2 303.9h0M372.2 460.1h0M387.6 441.5h0M417.8 389.6h0M399.0 344.7h0M434.9 301.4h0M474.8 218.9h0M400.7 417.0h0M475.6 208.1h0M387.6 402.6h0M435.7 429.8h0M390.1 438.3h0M394.2 448.4h0M410.4 376.0h0M394.2 375.6h0M372.2 429.3h0M476.4 157.9h0M357.5 470.1h0M435.7 325.0h0M398.2 442.6h0M436.5 375.4h0M353.4 473.2h0M434.9 350.3h0M537.5 293.3h0M477.2 137.4h0M445.5 210.3h0M394.2 433.0h0M403.1 428.7h0M354.2 468.5h0M479.7 254.8h0M496.0 168.0h0M394.2 422.8h0M337.1 482.0h0"/>
<path stroke="#FB61D7" d="M412.1 432.9h0M485.4 210.1h0M434.1 428.0h0M523.6 164.4h0M494.3 193.1h0M498.4 150.6h0M517.1 217.9h0M456.0 315.5h0M383.6 389.1h0M434.9 379.5h0M497.6 232.6h0M482.1 252.4h0M415.3 409.7h0M417.0 422.8h0M501.7 153.2h0M490.3 185.5h0M474.8 160.3h0M556.7 177.1h0M451.2 293.8h0M500.0 192.1h0M492.7 231.5h0M474.8 251.9h0M360.8 468.2h0M450.3 287.9h0M452.0 353.3h0M490.3 242.1h0M403.1 388.8h0M391.7 418.7h0M447.1 259.6h0M485.4 165.6h0M477.2 286.3h0M400.7 442.6h0M410.4 397.6h0M475.6 199.1h0M499.2 169.9h0M456.9 307.4h0M476.4 207.6h0M477.2 345.1h0M410.4 377.4h0M409.6 405.4h0M450.3 326.5h0M385.2 455.2h0M485.4 262.0h0M435.7 404.5h0M410.4 420.4h0M400.7 446.8h0M428.4 330.4h0M500.0 173.6h0M508.2 205.9h0M480.5 226.1h0M434.1 328.8h0M368.9 452.6h0M398.2 380.0h0M375.4 459.9h0M478.0 315.6h0M337.1 483.7h0"/>
<path stroke="#A58AFF" d="M423.5 352.2h0M483.7 209.3h0M441.4 325.1h0M453.6 328.4h0M424.3 377.2h0M426.7 393.7h0M419.4 375.0h0M482.1 165.2h0M424.3 376.5h0M449.5 239.6h0M454.4 188.5h0M478.0 299.3h0M425.9 409.3h0M417.0 422.4h0M481.3 180.1h0M416.1 303.9h0M439.8 251.0h0M502.5 142.2h0M488.6 226.4h0M402.3 364.2h0M493.5 181.7h0M484.6 250.9h0M515.5 164.3h0M492.7 185.5h0M496.0 208.0h0M443.0 327.4h0M419.4 397.6h0M477.2 139.2h0M493.5 190.0h0M354.2 475.1h0M403.1 434.6h0M403.9 345.1h0M453.6 343.0h0M383.6 394.7h0M441.4 276.2h0M479.7 186.5h0M399.9 397.5h0M456.9 181.1h0M434.1 269.5h0M512.2 140.1h0M555.7 285.0h0M494.3 167.9h0M441.4 379.7h0M477.2 170.2h0M413.7 342.8h0M439.8 334.4h0M439.8 301.0h0M474.8 172.5h0M503.3 193.8h0M413.7 418.5h0M427.5 329.4h0M484.6 284.5h0M436.5 302.4h0M425.1 350.1h0M478.9 226.8h0M434.9 311.0h0M452.8 370.9h0M416.1 411.1h0M451.2 295.4h0M395.0 445.8h0M423.5 281.4h0M361.6 456.0h0M413.7 288.9h0M434.9 286.5h0M475.6 186.4h0M435.7 325.6h0M370.5 459.7h0M447.9 369.0h0M403.1 326.5h0M333.1 482.6h0M437.3 320.0h0M451.2 302.3h0M372.2 448.8h0M395.8 397.4h0"/>
<path stroke="#FB61D7" d="M460.1 319.9h0M422.7 350.9h0M444.6 242.3h0M439.8 191.3h0M450.3 332.6h0M452.8 307.7h0M442.2 359.1h0M492.7 244.1h0M441.4 270.0h0M524.5 227.6h0M504.1 188.2h0M491.9 242.3h0M434.9 379.5h0M484.6 279.3h0M493.5 270.0h0M496.8 201.1h0M438.9 354.0h0M482.1 163.1h0M414.5 406.6h0M460.1 299.1h0M439.8 279.7h0M434.1 414.7h0M411.3 416.7h0M495.0 330.9h0M409.6 420.0h0M505.7 142.0h0M396.6 449.1h0M436.5 414.3h0M475.6 331.6h0M410.4 429.2h0M491.9 177.8h0M452.0 350.7h0M495.1 141.7h0M437.3 322.7h0M416.1 400.6h0M388.5 435.2h0M495.1 215.9h0M477.2 269.3h0M425.9 389.4h0M437.3 360.2h0M481.3 237.3h0M399.9 298.3h0M413.7 312.7h0M476.4 240.0h0M441.4 399.8h0M450.3 317.7h0M395.0 453.4h0M434.1 401.2h0M497.6 169.3h0M414.5 435.5h0M491.1 238.8h0M496.8 188.9h0M471.5 270.0h0M493.5 233.7h0M425.9 399.7h0M357.5 462.2h0M437.3 396.9h0M398.2 422.6h0M371.4 434.0h0M344.5 475.2h0"/>
<path stroke="#00B6EB" d="M479.7 296.0h0M477.2 272.3h0M396.6 304.7h0M445.5 332.7h0M422.7 338.6h0M454.4 270.8h0M408.0 408.0h0M456.0 302.4h0M438.9 332.1h0M500.8 199.1h0M438.9 344.0h0M476.4 266.7h0M437.3 405.0h0M456.0 268.8h0M381.1 400.0h0M475.6 269.8h0M474.8 154.4h0M409.6 417.4h0M452.8 249.4h0M496.0 144.9h0M434.9 203.4h0M430.0 388.5h0M447.1 391.7h0M452.8 206.5h0M391.7 424.8h0M437.3 344.3h0M443.0 285.5h0M421.8 316.4h0M435.7 366.6h0M428.4 271.9h0M417.8 307.6h0M425.9 382.4h0M421.0 357.9h0M501.7 188.0h0M390.9 438.4h0M410.4 380.7h0M475.6 255.7h0M412.1 309.6h0M426.7 317.0h0M496.0 173.2h0M425.9 340.4h0M452.8 247.6h0M418.6 393.1h0M396.6 359.8h0M409.6 394.5h0M452.8 307.4h0M436.5 347.8h0M489.4 199.5h0M434.9 384.2h0M446.3 289.5h0M478.0 366.5h0M412.1 343.1h0M440.6 317.5h0M494.3 188.1h0M437.3 385.4h0M489.4 153.4h0M438.9 349.1h0M396.6 345.9h0M434.1 370.5h0M416.1 297.7h0M436.5 283.6h0M399.0 345.8h0M416.1 319.4h0M442.2 345.4h0M423.5 390.9h0M409.6 393.9h0M438.1 267.1h0M417.8 408.5h0M490.1 367.7h0M414.5 366.7h0M409.6 384.5h0M495.1 232.1h0M434.9 299.6h0M442.2 295.8h0M447.1 348.4h0M437.3 324.6h0M410.4 402.2h0M436.5 252.7h0M429.2 406.9h0M411.3 396.8h0M450.3 268.4h0M395.0 453.0h0M415.3 379.9h0M425.1 369.2h0M435.7 215.8h0M401.5 342.6h0M410.4 362.4h0M412.9 364.4h0M400.7 414.0h0M377.1 466.3h0M478.0 187.0h0M456.9 176.6h0M385.2 414.1h0M385.2 398.8h0M491.9 200.8h0M392.5 414.6h0M416.1 336.9h0M420.2 400.9h0M411.3 331.1h0M394.2 388.2h0M410.4 392.3h0M467.5 258.9h0M393.3 428.1h0M480.5 196.6h0M386.0 438.0h0M340.4 480.8h0M385.2 429.1h0M395.8 424.2h0M346.1 472.9h0"/>
<path stroke="#F8766D" d="M399.0 237.4h0M388.5 366.0h0M395.0 297.7h0M390.1 362.0h0M425.9 324.4h0M399.0 189.1h0M402.3 327.4h0M437.3 197.1h0M409.6 279.7h0M434.9 159.8h0M360.8 440.7h0M427.5 325.2h0M352.6 434.2h0M335.5 473.8h0M355.1 429.5h0M406.4 309.8h0M388.5 385.8h0M337.1 455.5h0M359.1 409.9h0M394.2 285.5h0M364.0 439.5h0M377.1 404.7h0M393.3 281.9h0M394.2 292.1h0M434.9 187.3h0M393.3 280.6h0M416.1 315.5h0M332.3 470.6h0M401.5 329.9h0M377.1 387.1h0M356.7 438.7h0M370.5 353.5h0M359.9 440.5h0M409.6 305.9h0M355.9 440.5h0M433.2 247.9h0M338.0 463.8h0M410.4 191.5h0M437.3 221.5h0M368.9 432.2h0M395.8 361.3h0M362.4 443.6h0M331.4 478.9h0M458.5 177.0h0M395.0 382.1h0M342.0 457.1h0M390.1 423.3h0M479.7 136.2h0M415.3 314.0h0M333.9 481.0h0M386.0 437.1h0M416.1 291.9h0M395.0 280.2h0M356.7 450.1h0M338.0 476.9h0M356.7 456.8h0"/>
<path stroke="#00C094" d="M411.3 419.2h0M419.4 334.0h0M483.5 342.7h0M444.6 205.7h0M429.2 289.2h0M408.0 307.6h0M439.8 334.8h0M391.7 441.5h0M418.6 292.0h0M436.5 203.9h0M437.3 214.5h0M481.3 151.1h0M410.4 418.9h0M452.0 183.1h0M403.9 318.1h0M495.1 192.6h0M443.8 284.7h0M437.3 393.3h0M451.2 189.3h0M484.6 179.1h0M364.8 465.7h0M438.1 244.6h0M424.3 337.7h0M406.4 298.4h0M451.2 251.5h0M419.4 424.1h0M469.1 274.8h0M434.1 387.2h0M421.0 374.1h0M474.8 185.9h0M400.7 340.3h0M481.3 205.2h0M443.0 305.5h0M383.6 445.1h0M375.4 379.8h0M439.8 189.2h0M460.9 235.9h0M452.0 323.4h0M444.6 184.9h0M454.4 155.3h0M477.2 219.9h0M405.6 341.4h0M477.2 359.8h0M414.5 403.9h0M435.7 249.4h0M477.2 162.6h0M364.0 426.8h0M407.2 373.6h0M434.1 293.9h0M422.7 333.8h0M378.7 441.6h0M438.1 226.3h0M438.1 286.6h0M443.0 339.7h0M372.2 460.1h0M419.4 242.3h0M417.0 375.7h0M409.6 325.7h0M408.0 341.1h0M440.6 268.5h0M466.6 256.0h0M438.9 197.5h0M451.2 367.3h0M434.9 322.1h0M475.6 272.1h0M376.2 412.9h0M417.0 314.3h0M396.6 325.0h0M449.5 227.2h0M476.4 230.3h0M435.7 310.7h0M434.1 337.5h0M396.6 327.9h0M456.0 325.7h0M393.3 452.4h0M418.6 346.0h0M442.2 319.5h0M412.9 402.8h0M389.3 405.6h0M434.1 305.5h0M478.0 281.5h0M492.7 210.7h0M402.3 335.6h0M397.4 347.6h0M346.9 451.1h0M435.7 229.1h0M476.4 164.8h0M443.0 210.0h0M476.4 163.0h0M394.2 276.0h0M362.4 467.9h0M403.9 343.4h0M394.2 342.6h0M378.7 434.3h0M452.8 189.1h0M444.6 309.7h0M364.0 450.7h0M394.2 318.4h0M436.5 215.0h0M474.8 152.1h0M405.6 381.3h0M412.1 336.5h0M395.0 306.9h0M462.6 182.2h0M355.9 473.6h0M390.9 413.8h0M400.7 408.1h0M392.5 410.5h0M399.0 438.4h0M412.1 411.9h0M409.6 342.2h0M377.9 434.8h0M394.2 443.5h0M396.6 400.3h0M486.2 236.2h0M372.2 442.4h0M395.0 410.2h0M455.2 163.0h0M370.5 438.4h0M412.9 293.7h0M346.1 477.2h0M340.4 473.5h0M456.9 268.4h0M447.1 279.4h0M398.2 370.2h0M394.2 401.2h0M398.2 403.2h0M475.6 252.8h0M345.3 476.8h0M352.6 458.4h0M395.0 399.7h0"/>
<path stroke="#C49A00" d="M452.0 170.9h0M395.8 263.7h0M416.1 247.8h0M420.2 276.6h0M417.8 266.1h0M443.0 304.6h0M448.7 138.2h0M403.9 344.4h0M438.1 270.5h0M420.2 260.1h0M374.6 386.1h0M375.4 403.7h0M354.2 428.9h0M491.1 140.2h0M439.8 179.9h0M393.3 284.5h0M398.2 311.7h0M394.2 250.2h0M415.3 205.8h0M409.6 322.7h0M423.5 294.1h0M360.8 414.1h0M362.4 434.9h0M441.4 253.4h0M396.6 289.0h0M407.2 275.3h0M477.2 178.6h0M428.4 223.0h0M403.1 360.4h0M368.9 407.9h0M376.2 402.3h0M403.9 325.7h0M423.5 288.3h0M372.2 410.8h0M396.6 199.0h0M399.9 319.9h0M368.9 413.9h0M412.1 256.2h0M388.5 390.8h0M443.8 354.0h0M421.8 235.9h0M435.7 284.7h0M378.7 426.6h0M410.4 338.5h0M355.1 432.2h0M411.3 280.1h0M423.5 251.3h0M407.2 330.1h0M400.7 191.8h0M390.1 390.5h0M387.6 391.8h0M358.3 450.7h0M368.9 436.1h0M365.7 456.7h0M352.6 443.4h0M422.7 340.5h0M385.2 420.6h0M332.3 479.7h0M386.8 418.0h0M395.0 422.1h0M356.7 455.0h0M412.1 393.5h0M420.2 319.1h0M376.2 421.2h0M333.9 479.2h0M356.7 456.9h0M330.6 481.9h0M394.2 403.3h0M423.5 283.8h0M337.1 466.6h0M442.2 261.1h0M395.0 398.1h0M359.1 457.2h0M346.1 474.4h0M336.3 472.2h0M386.8 404.4h0"/>
<path stroke="#53B400" d="M453.6 250.4h0M435.7 210.8h0M417.8 358.3h0M416.1 287.3h0M414.5 164.2h0M475.6 134.7h0M445.5 170.6h0M426.7 354.5h0M421.0 319.6h0M434.1 210.3h0M419.4 342.4h0M405.6 317.3h0M444.6 187.5h0M439.8 287.0h0M416.1 266.0h0M492.7 194.2h0M412.9 303.0h0M351.8 433.0h0M447.1 212.5h0M412.9 238.6h0M422.7 337.9h0M387.6 438.7h0M417.8 324.1h0M419.4 249.0h0M475.6 220.2h0M395.8 257.0h0M378.7 431.0h0M452.8 297.5h0M440.6 264.4h0M409.6 260.2h0M434.9 178.9h0M401.5 324.4h0M395.8 283.0h0M395.0 336.2h0M452.0 242.1h0M395.8 324.7h0M438.9 216.5h0M419.4 301.4h0M409.6 313.9h0M475.6 158.7h0M373.0 421.5h0M379.5 440.1h0M417.8 377.7h0M412.9 400.6h0M389.3 402.6h0M377.1 419.9h0M387.6 411.5h0M414.5 382.3h0M409.6 369.3h0M385.2 377.3h0M386.0 399.0h0M373.0 431.9h0M434.1 335.9h0M377.9 417.5h0M394.2 406.4h0M385.2 433.1h0M481.3 141.3h0M392.5 381.5h0M359.1 464.2h0M395.8 355.6h0M434.9 300.0h0M439.8 304.6h0M415.3 332.0h0M393.3 367.9h0M396.6 367.1h0M371.4 422.2h0M395.0 362.6h0M419.4 266.8h0M369.7 427.7h0M368.9 455.7h0M393.3 390.1h0M393.3 371.4h0M410.4 305.6h0M370.5 434.0h0M395.8 393.0h0M412.1 330.9h0M352.6 452.1h0M386.0 413.0h0"/>
<path stroke="#00B6EB" d="M495.1 165.3h0M492.7 242.5h0M440.6 358.9h0M405.6 281.9h0M454.4 268.9h0M485.4 205.0h0M423.5 335.0h0M459.3 322.5h0M361.6 472.2h0M381.9 457.0h0M476.4 188.3h0M503.3 151.1h0M376.2 456.3h0M449.5 252.3h0M428.4 381.2h0M440.6 321.7h0M396.6 444.8h0M421.0 362.2h0M443.0 332.9h0M477.2 210.0h0M475.6 205.0h0M434.1 260.7h0M442.2 225.9h0M457.7 245.7h0M412.1 417.2h0M406.4 420.9h0M465.8 312.3h0M436.5 282.4h0M483.7 191.7h0M419.4 389.9h0M476.4 272.5h0M423.5 275.4h0M475.6 246.6h0M424.3 346.0h0M379.5 399.2h0M475.6 252.7h0M409.6 425.0h0M440.6 310.1h0M424.3 325.6h0M497.6 180.6h0M436.5 309.3h0M446.3 287.8h0M475.6 239.8h0M443.8 264.5h0M442.2 260.2h0M457.7 285.8h0M357.5 473.6h0M465.0 306.7h0M458.5 296.6h0M437.3 271.4h0M444.6 207.1h0M403.9 403.1h0M406.4 374.9h0M455.2 274.5h0M477.2 220.2h0M434.1 271.8h0M427.5 416.4h0M381.1 428.3h0M404.7 355.9h0M453.6 298.9h0M477.2 188.5h0M442.2 267.2h0M387.6 391.9h0M448.7 280.3h0M478.0 217.0h0M391.7 437.3h0M393.3 321.9h0M452.0 327.9h0M408.8 385.9h0M451.2 321.1h0M397.4 428.7h0M390.1 371.0h0M421.0 341.0h0M387.6 413.3h0M412.1 360.0h0M498.4 190.6h0M417.0 348.7h0M401.5 394.7h0M368.9 426.5h0M384.4 418.3h0M483.7 171.1h0M368.9 447.6h0M452.8 301.7h0M401.5 382.7h0M441.4 329.6h0M434.9 411.0h0M452.0 219.3h0M393.3 441.3h0M372.2 436.3h0M436.5 234.8h0M377.9 432.0h0M434.9 285.8h0M353.4 473.2h0M403.1 405.7h0M401.5 416.6h0M359.1 451.4h0M333.9 483.7h0M386.0 400.4h0M410.4 331.1h0M400.7 415.0h0M340.4 470.7h0M477.2 256.4h0M395.0 444.0h0"/>
<path stroke="#A58AFF" d="M455.2 320.8h0M438.9 311.1h0M451.2 212.8h0M510.6 214.2h0M454.4 284.1h0M375.4 465.3h0M477.2 229.6h0M475.6 290.9h0M424.3 349.0h0M450.3 217.4h0M491.1 271.0h0M402.3 432.8h0M454.4 340.8h0M430.0 326.5h0M434.9 401.4h0M452.0 288.0h0M417.8 315.2h0M496.8 201.2h0M504.1 153.3h0M476.4 170.3h0M420.2 317.1h0M493.5 161.6h0M483.7 161.4h0M491.9 229.7h0M491.9 164.3h0M442.2 394.0h0M434.9 251.8h0M476.4 189.9h0M443.8 151.5h0M399.9 349.4h0M355.1 477.4h0M439.8 331.6h0M491.9 147.7h0M450.3 262.1h0M438.9 194.0h0M424.3 360.5h0M434.9 366.6h0M381.1 453.3h0M339.6 483.3h0M574.0 253.1h0M474.8 304.3h0M442.2 359.8h0M491.1 205.3h0M438.9 165.8h0M455.2 326.8h0M479.7 157.0h0M415.3 404.7h0M443.8 216.2h0M435.7 365.2h0M416.1 395.5h0M498.4 183.9h0M438.9 341.3h0M508.2 183.1h0M418.6 327.5h0M388.5 405.1h0M438.1 302.8h0M396.6 363.7h0M382.8 444.2h0M434.1 383.0h0M456.9 238.5h0M409.6 372.5h0M409.6 424.9h0M434.9 342.6h0M412.1 416.7h0M452.0 330.7h0M440.6 252.8h0M364.0 472.6h0M418.6 397.5h0M381.1 400.8h0M486.2 148.5h0M502.5 183.9h0M398.2 424.7h0M476.4 244.2h0M369.7 452.8h0M412.9 346.5h0M475.6 288.7h0M425.9 318.5h0M348.5 473.0h0M373.8 433.6h0M475.6 229.0h0M342.0 480.1h0M411.3 338.6h0"/>
<path stroke="#F8766D" d="M387.6 378.9h0M394.2 178.2h0M414.5 251.3h0M396.0 260.2h0M426.7 318.1h0M390.1 351.1h0M338.8 455.2h0M374.6 399.5h0M368.9 410.1h0M389.3 386.1h0M406.4 294.5h0M338.0 448.0h0M360.8 444.8h0M341.2 453.3h0M354.2 428.5h0M393.3 310.4h0M443.0 150.2h0M352.6 427.6h0M332.3 474.0h0M399.9 331.5h0M396.6 324.2h0M418.6 287.0h0M398.2 308.3h0M376.2 404.8h0M369.7 408.7h0M398.2 333.3h0M347.7 447.7h0M409.6 298.7h0M368.9 413.4h0M383.6 398.4h0M332.3 470.5h0M351.0 455.2h0M340.4 460.2h0M396.6 335.6h0M336.3 459.7h0M405.6 366.5h0M358.3 434.7h0M387.6 340.5h0M398.2 371.2h0M371.4 405.8h0M362.4 429.4h0M396.6 394.0h0M356.7 444.8h0M393.3 349.6h0M408.0 258.7h0M438.1 190.8h0M364.0 435.4h0M395.0 326.0h0M404.7 301.0h0M374.6 416.3h0M410.4 402.8h0M412.1 326.7h0M370.5 426.9h0M330.6 482.8h0M357.5 449.8h0M394.5 174.1h0M339.6 459.0h0M361.6 451.1h0M339.6 473.1h0M338.8 471.4h0M386.8 420.9h0M338.8 480.7h0"/>
<path stroke="#FB61D7" d="M524.5 189.6h0M478.9 295.2h0M513.9 254.6h0M500.8 156.0h0M492.7 193.4h0M497.6 240.0h0M451.2 377.9h0M373.0 463.8h0M453.6 367.6h0M408.8 416.6h0M478.0 344.8h0M456.0 336.8h0M496.0 179.9h0M403.1 432.6h0M436.5 376.9h0M490.3 249.9h0M396.6 459.3h0M449.5 278.6h0M451.2 357.3h0M484.6 279.1h0M439.8 373.9h0M394.2 269.8h0M452.8 327.0h0M412.1 387.4h0M452.8 363.7h0M414.5 323.2h0M398.2 432.8h0M491.1 210.0h0M400.7 403.9h0M477.2 236.1h0M434.9 299.3h0M474.8 222.7h0M479.7 316.2h0M435.7 411.3h0M375.4 443.6h0M491.9 187.2h0M360.8 467.3h0M409.6 413.2h0M411.3 423.3h0M491.9 205.3h0M451.2 387.3h0M492.7 179.9h0M434.9 335.0h0M496.8 219.7h0M502.5 166.5h0M421.0 316.4h0M345.3 478.2h0M434.1 365.5h0"/>
<path stroke="#00C094" d="M453.6 285.9h0M463.4 282.9h0M439.8 208.1h0M396.6 323.5h0M460.1 154.1h0M422.7 342.3h0M390.1 382.8h0M420.2 289.9h0M539.4 134.5h0M457.7 213.4h0M425.1 416.7h0M385.2 462.6h0M412.1 294.4h0M487.0 199.6h0M435.7 380.0h0M417.8 400.7h0M390.9 377.4h0M358.3 429.7h0M426.7 326.7h0M413.7 418.4h0M444.6 258.8h0M479.7 228.7h0M468.3 287.0h0M427.5 244.7h0M441.4 353.6h0M423.5 411.0h0M398.2 219.1h0M454.4 323.1h0M417.8 340.7h0M398.2 359.5h0M475.6 268.7h0M435.7 290.3h0M435.7 361.9h0M438.1 308.9h0M410.4 424.1h0M451.2 224.3h0M417.0 394.1h0M403.1 381.9h0M438.1 305.8h0M417.8 311.9h0M402.3 351.8h0M478.0 233.4h0M451.2 340.8h0M391.7 435.5h0M434.9 302.3h0M399.0 346.7h0M407.2 348.6h0M417.8 316.2h0M417.0 214.7h0M440.6 330.7h0M434.9 211.9h0M480.5 142.7h0M453.6 314.3h0M434.9 358.7h0M395.8 338.8h0M476.4 222.5h0M435.7 279.5h0M438.9 174.0h0M444.6 270.5h0M378.7 437.0h0M480.5 339.7h0M493.5 171.4h0M436.5 338.2h0M477.0 372.6h0M452.0 327.8h0M360.8 459.4h0M422.7 380.7h0M407.2 364.8h0M369.7 465.7h0M401.5 374.1h0M421.8 378.3h0M437.3 296.3h0M410.4 310.7h0M422.7 383.5h0M435.7 379.4h0M403.9 412.7h0M476.4 204.0h0M428.4 358.5h0M451.2 160.3h0M408.0 393.8h0M447.1 335.1h0M419.4 306.0h0M435.7 351.8h0M389.3 443.0h0M409.6 341.1h0M386.0 452.0h0M434.1 376.2h0M434.1 404.2h0M416.1 260.5h0M443.0 260.5h0M355.9 447.8h0M368.9 458.3h0M404.7 319.6h0M435.7 285.8h0M408.8 415.8h0M388.5 419.9h0M409.6 361.8h0M396.6 328.7h0M373.8 412.7h0M348.5 474.2h0M399.9 409.3h0M383.6 417.8h0M373.8 444.1h0M353.4 459.2h0M369.7 446.8h0M358.3 457.3h0M380.3 435.6h0M450.3 249.9h0M356.7 453.9h0M397.4 389.6h0M454.4 265.6h0M398.2 339.8h0M412.1 356.4h0M394.2 441.4h0M394.2 397.9h0M386.8 429.9h0M338.0 483.9h0M396.6 430.2h0M401.5 351.8h0M358.3 462.4h0M395.8 384.9h0M344.5 474.7h0"/>
<path stroke="#53B400" d="M453.6 226.8h0M414.5 237.6h0M439.8 147.1h0M437.3 202.5h0M403.1 264.5h0M445.5 285.7h0M420.2 277.1h0M359.9 414.2h0M401.5 329.6h0M434.9 179.4h0M437.3 220.6h0M477.2 184.5h0M478.0 231.0h0M406.4 219.7h0M386.0 362.6h0M473.2 327.5h0M435.7 219.4h0M418.6 314.9h0M362.4 435.7h0M388.5 380.0h0M405.6 404.3h0M407.2 312.3h0M447.9 191.3h0M411.3 241.7h0M438.9 150.9h0M476.4 153.2h0M443.0 246.0h0M463.4 299.8h0M413.7 308.3h0M443.8 299.4h0M473.2 343.4h0M493.5 176.3h0M409.6 402.7h0M435.7 357.8h0M383.6 375.5h0M381.9 406.7h0M412.1 307.5h0M452.8 185.8h0M414.5 286.1h0M378.7 438.6h0M475.6 150.1h0M382.8 442.4h0M417.8 340.8h0M395.8 328.9h0M413.7 316.6h0M409.6 403.4h0M445.5 281.0h0M401.5 376.9h0M378.7 424.7h0M474.8 150.3h0M402.3 294.5h0M412.1 383.2h0M360.8 454.1h0M388.5 400.6h0M388.5 407.5h0M375.4 415.4h0M408.0 327.0h0M441.4 200.5h0M399.9 335.2h0M434.1 228.4h0M478.9 241.9h0M449.5 193.4h0M415.3 360.5h0M418.6 329.1h0M475.6 135.8h0M391.7 393.3h0M377.1 434.7h0M434.9 241.4h0M434.1 224.5h0M401.5 312.0h0M411.3 375.3h0M399.0 370.0h0M371.4 417.3h0M412.1 332.2h0M386.0 386.3h0M396.6 424.3h0M368.9 424.9h0M405.6 311.1h0M436.5 193.8h0M409.6 328.3h0M440.6 258.1h0M388.5 415.6h0M409.6 357.1h0M368.9 440.6h0M386.0 409.2h0M418.6 354.1h0M369.7 401.4h0M393.3 365.2h0M410.4 375.5h0M341.2 472.6h0M410.4 310.7h0M390.1 419.6h0M394.2 399.9h0M427.5 321.8h0M373.8 436.6h0"/>
<path stroke="#C49A00" d="M419.4 307.0h0M378.7 401.7h0M404.7 301.8h0M439.8 285.6h0M392.5 377.1h0M434.9 318.6h0M423.5 354.5h0M386.0 352.2h0M405.6 356.0h0M451.2 212.2h0M408.0 308.5h0M434.1 200.7h0M434.9 213.6h0M411.3 273.1h0M389.3 390.0h0M416.1 287.4h0M370.5 394.1h0M447.1 199.6h0M475.6 171.1h0M441.4 354.9h0M380.3 412.8h0M409.6 295.3h0M409.6 327.0h0M396.6 276.9h0M435.7 193.6h0M368.9 409.9h0M381.9 369.5h0M336.3 448.2h0M360.8 436.6h0M410.4 281.5h0M365.7 419.1h0M351.0 444.0h0M387.6 446.7h0M381.1 409.4h0M478.9 164.5h0M410.4 355.5h0M412.9 288.5h0M441.4 148.0h0M426.7 244.4h0M408.0 351.7h0M418.6 370.5h0M434.9 270.8h0M364.0 448.6h0M434.1 242.4h0M434.1 253.4h0M348.5 445.0h0M375.4 428.8h0M443.0 252.7h0M390.1 394.0h0M349.4 434.1h0M407.2 371.6h0M375.4 423.8h0M399.0 338.1h0M379.5 419.6h0M397.4 363.4h0M395.8 335.1h0M355.9 439.5h0M353.4 434.9h0M351.8 443.8h0M399.0 359.3h0M403.9 287.1h0M341.2 463.4h0M358.3 450.4h0M355.9 443.2h0M413.7 368.9h0M386.8 380.7h0M406.4 364.5h0M377.1 432.1h0M418.6 326.5h0M347.7 461.9h0M415.3 301.6h0M346.1 455.0h0M385.2 377.1h0M369.7 440.6h0M438.9 273.0h0M387.6 408.1h0M344.5 462.7h0M352.6 462.6h0M348.5 472.7h0M348.5 456.4h0M368.9 447.9h0M337.1 480.2h0M369.7 446.5h0M337.1 477.0h0M355.1 459.9h0"/>
<path stroke="#C49A00" d="M362.4 433.3h0M481.3 206.7h0M421.0 176.3h0M452.0 141.8h0M451.2 272.3h0M368.9 403.5h0M424.3 301.0h0M382.8 443.4h0M443.0 299.9h0M438.9 334.8h0M413.7 263.4h0M434.1 191.1h0M360.8 421.5h0M457.7 187.8h0M379.5 431.2h0M450.3 232.5h0M395.8 262.4h0M355.1 426.9h0M454.4 224.7h0M439.8 210.7h0M451.2 211.5h0M452.8 200.2h0M409.6 315.2h0M408.0 298.6h0M380.3 417.3h0M417.0 402.5h0M363.2 433.0h0M420.2 201.6h0M416.1 353.0h0M412.9 276.5h0M475.6 263.6h0M380.3 414.7h0M377.1 407.1h0M412.1 280.6h0M396.6 358.3h0M377.1 401.3h0M362.4 452.7h0M435.7 291.3h0M378.7 436.2h0M457.7 184.3h0M410.4 290.9h0M403.9 322.8h0M410.4 339.7h0M397.4 422.0h0M398.2 346.1h0M441.4 246.6h0M417.8 331.7h0M434.9 178.8h0M443.0 320.0h0M417.0 268.0h0M377.1 390.7h0M362.4 434.9h0M487.0 203.3h0M360.8 435.7h0M390.9 398.8h0M397.4 329.6h0M413.7 351.0h0M412.9 284.8h0M425.1 305.0h0M354.2 439.5h0M474.8 158.3h0M341.2 455.2h0M418.6 205.3h0M417.0 377.4h0M359.9 400.3h0M411.3 384.7h0M386.8 399.9h0M415.3 357.6h0M436.5 302.4h0M372.2 423.1h0M409.6 353.2h0M347.7 459.5h0M361.6 446.6h0M369.7 448.4h0M436.5 271.1h0M403.1 285.4h0M440.6 143.6h0M412.1 348.7h0M395.0 371.4h0M351.0 450.0h0M386.0 384.3h0M395.0 347.5h0M391.7 411.3h0M386.0 411.8h0M352.6 444.8h0M348.5 468.1h0M350.2 475.6h0M394.2 381.9h0M407.2 402.2h0M406.4 361.9h0M368.9 459.9h0"/>
<path stroke="#FB61D7" d="M556.4 136.1h0M492.7 202.4h0M517.9 160.0h0M494.3 233.6h0M448.7 359.8h0M478.9 318.3h0M486.2 212.2h0M446.3 369.6h0M475.6 165.4h0M406.4 356.6h0M383.6 437.0h0M597.4 136.1h0M517.1 180.6h0M434.9 408.0h0M408.8 433.1h0M410.4 425.4h0M493.5 146.7h0M475.6 309.7h0M419.4 411.6h0M478.9 288.3h0M491.9 248.2h0M408.8 434.8h0M476.4 271.8h0M382.8 449.3h0M364.0 468.1h0M480.5 285.2h0M399.9 440.6h0M501.7 233.7h0M378.7 443.1h0M434.9 295.8h0M476.4 195.7h0M405.6 394.6h0M412.1 324.9h0M478.0 195.8h0M426.7 380.2h0M494.3 235.4h0M491.9 238.0h0M482.1 213.5h0M500.8 212.5h0M496.8 213.8h0M369.7 460.6h0M482.9 206.8h0M396.6 420.9h0M476.4 267.3h0M385.2 429.1h0M369.7 456.8h0M355.1 471.1h0M395.0 420.0h0M345.3 478.6h0"/>
<path stroke="#F8766D" d="M466.6 177.1h0M380.3 400.3h0M394.2 245.5h0M372.2 362.8h0M419.4 241.2h0M395.0 264.6h0M434.9 221.9h0M355.9 429.1h0M396.6 273.7h0M338.8 458.4h0M395.0 287.5h0M390.9 379.5h0M434.9 214.8h0M335.5 470.3h0M411.3 303.0h0M407.2 180.7h0M397.4 327.4h0M398.2 326.8h0M406.4 251.6h0M414.5 373.2h0M402.3 402.2h0M359.9 430.3h0M355.1 432.3h0M376.2 409.6h0M395.8 297.4h0M378.7 391.9h0M425.9 264.9h0M419.4 347.9h0M377.1 425.5h0M332.3 474.5h0M344.5 456.5h0M389.3 399.5h0M383.6 403.3h0M389.3 401.8h0M393.3 269.4h0M359.1 443.7h0M393.3 362.8h0M450.3 233.1h0M339.6 467.7h0M342.8 464.0h0M396.6 331.6h0M413.7 295.1h0M405.6 361.7h0M369.7 423.9h0M373.0 407.9h0M412.9 264.3h0M403.1 330.2h0M392.5 397.4h0M411.3 328.8h0M434.9 280.3h0M395.8 361.5h0M374.6 406.9h0M345.3 473.3h0"/>
<path stroke="#A58AFF" d="M439.8 319.5h0M482.9 224.0h0M505.7 156.2h0M421.0 389.9h0M478.9 134.4h0M383.6 443.5h0M420.2 324.9h0M425.1 383.2h0M495.1 207.1h0M381.1 447.2h0M437.3 166.7h0M410.4 416.3h0M491.1 184.3h0M387.6 445.3h0M491.1 240.5h0M477.2 175.7h0M474.8 272.0h0M434.1 335.0h0M434.9 325.9h0M517.1 243.2h0M454.4 300.1h0M438.9 321.6h0M402.3 386.5h0M474.0 288.9h0M409.6 323.6h0M405.6 403.7h0M476.4 228.3h0M434.9 355.0h0M386.8 453.6h0M475.6 313.4h0M476.4 285.0h0M446.3 352.8h0M482.9 216.8h0M493.5 204.7h0M403.1 420.0h0M446.3 349.6h0M477.2 296.1h0M409.6 356.9h0M474.8 186.2h0M375.4 453.9h0M495.1 162.0h0M434.9 372.6h0M478.9 243.6h0M370.5 463.2h0M476.4 259.8h0M452.8 348.2h0M409.6 421.4h0M408.8 424.7h0M427.5 378.2h0M424.3 347.6h0M484.6 215.7h0M377.9 411.9h0M555.7 169.1h0M396.6 409.4h0M421.8 413.0h0M442.2 262.7h0M481.3 234.2h0M403.9 373.0h0M436.5 379.1h0M493.5 173.1h0M412.1 391.9h0M434.9 364.9h0M475.6 320.4h0M393.3 418.0h0M491.9 245.3h0M461.7 273.9h0"/>
<path stroke="#53B400" d="M474.8 284.6h0M483.7 197.3h0M386.0 357.6h0M397.4 287.5h0M434.1 228.9h0M477.2 153.5h0M445.5 281.8h0M418.6 376.3h0M362.4 426.4h0M453.6 289.1h0M416.1 381.4h0M383.6 396.7h0M453.6 280.8h0M438.9 177.0h0M437.3 160.3h0M424.3 375.7h0M475.6 244.1h0M397.4 303.5h0M379.5 442.7h0M451.2 167.5h0M435.7 269.4h0M441.4 275.2h0M379.5 409.2h0M437.3 243.1h0M399.9 368.6h0M443.0 269.7h0M382.8 411.2h0M376.2 405.1h0M407.2 396.3h0M435.7 270.8h0M402.3 329.1h0M399.9 411.1h0M482.9 197.6h0M372.2 460.1h0M442.2 275.0h0M436.5 334.8h0M402.3 310.0h0M412.1 383.6h0M381.1 425.1h0M434.1 345.3h0M363.2 442.6h0M405.6 328.8h0M411.3 381.1h0M477.2 228.2h0M400.7 405.8h0M446.3 244.1h0M377.1 448.2h0M333.1 474.9h0M438.1 269.8h0M441.4 138.6h0M410.4 385.0h0M475.6 166.7h0M369.7 417.1h0M412.9 347.7h0M410.4 375.9h0M390.9 400.8h0M399.0 410.6h0M386.8 378.3h0M385.2 375.0h0M336.3 462.4h0M414.5 330.0h0M400.7 410.6h0M437.3 325.5h0M398.2 390.2h0M375.4 429.2h0M399.0 434.8h0M353.4 445.8h0M348.5 477.4h0M410.4 380.9h0M404.7 377.3h0M403.9 312.5h0M410.4 165.8h0M411.3 337.5h0M405.6 350.1h0M412.9 345.0h0M426.7 336.2h0M438.1 384.1h0M386.0 437.0h0M455.2 209.3h0M394.2 332.8h0M373.8 428.9h0M348.5 467.2h0M438.1 145.7h0M477.2 200.8h0M408.8 348.6h0M355.9 447.9h0M369.7 425.2h0M355.1 454.8h0M350.2 456.6h0M381.1 412.7h0M336.3 483.4h0M341.2 478.1h0"/>
<path stroke="#00B6EB" d="M478.9 221.9h0M438.9 292.1h0M421.0 369.8h0M459.3 332.6h0M481.3 273.5h0M421.0 294.7h0M493.5 152.8h0M425.1 313.4h0M434.9 210.4h0M435.7 242.9h0M400.7 433.5h0M416.1 415.5h0M495.1 145.4h0M495.1 174.8h0M424.3 353.9h0M534.9 165.0h0M376.2 457.7h0M438.1 383.3h0M442.2 352.0h0M452.0 341.1h0M403.9 426.0h0M475.6 199.0h0M409.6 300.3h0M480.5 235.8h0M480.5 214.5h0M379.5 444.0h0M501.7 148.1h0M449.5 222.7h0M400.7 350.2h0M397.4 240.2h0M422.7 291.3h0M380.3 430.7h0M443.0 230.8h0M535.9 198.6h0M390.1 438.8h0M441.4 315.1h0M435.7 329.3h0M474.8 249.6h0M400.7 437.9h0M499.2 251.9h0M434.9 299.3h0M371.4 402.3h0M434.1 323.0h0M439.8 267.1h0M439.8 324.2h0M386.8 376.2h0M451.2 252.6h0M499.2 158.1h0M475.6 219.6h0M475.6 263.9h0M339.6 483.9h0M437.3 305.0h0M452.0 234.1h0M422.7 403.3h0M434.1 278.6h0M471.5 172.3h0M455.2 240.5h0M434.1 271.8h0M476.4 259.5h0M478.9 261.0h0M437.3 374.7h0M474.8 264.4h0M434.9 410.2h0M436.5 259.3h0M448.7 298.5h0M437.3 329.5h0M414.5 337.2h0M383.6 406.0h0M409.6 367.1h0M437.3 238.7h0M375.4 447.6h0M395.0 326.4h0M465.8 213.4h0M377.9 423.0h0M439.8 283.9h0M425.1 281.2h0M437.3 382.2h0M448.7 297.0h0M437.3 337.3h0M401.5 312.0h0M420.2 405.5h0M494.3 223.9h0M409.6 412.7h0M449.5 317.2h0M494.3 175.6h0M405.6 418.6h0M399.9 341.4h0M397.4 430.4h0M408.0 381.4h0M375.4 454.8h0M482.9 215.1h0M417.8 425.4h0M377.1 437.8h0M451.2 312.9h0M417.0 338.6h0M368.9 449.0h0M390.1 409.3h0M435.7 240.0h0M398.2 385.6h0M434.9 373.6h0M411.3 382.8h0M372.2 458.6h0M476.4 191.5h0M401.5 409.3h0M484.6 237.6h0M394.2 405.5h0M403.9 391.2h0M353.4 465.9h0M373.8 450.0h0M353.4 464.7h0M434.9 311.9h0M395.0 403.3h0M353.4 471.7h0M342.0 479.0h0M425.1 316.7h0M443.0 231.0h0M394.2 418.8h0"/>
<path stroke="#00C094" d="M403.9 264.7h0M443.8 215.5h0M407.2 312.2h0M475.6 140.6h0M434.1 405.5h0M470.7 309.6h0M495.1 165.5h0M451.2 172.2h0M397.4 312.4h0M419.4 353.3h0M444.6 259.1h0M453.6 306.6h0M425.9 370.9h0M456.0 236.2h0M483.6 366.9h0M403.9 447.6h0M438.9 300.0h0M435.7 362.5h0M415.3 286.2h0M441.4 247.2h0M490.3 230.1h0M439.8 308.4h0M456.9 309.0h0M453.6 170.3h0M493.8 358.3h0M427.5 284.0h0M418.6 343.9h0M452.8 199.8h0M407.2 340.6h0M390.1 424.6h0M408.0 392.8h0M415.3 276.4h0M477.2 230.9h0M438.1 188.3h0M380.3 389.9h0M443.8 269.3h0M410.4 323.5h0M447.1 213.6h0M413.7 163.1h0M379.5 429.3h0M421.8 406.8h0M431.6 372.5h0M477.2 180.0h0M410.4 313.2h0M417.8 378.8h0M435.7 166.4h0M475.6 266.4h0M496.0 158.2h0M407.2 386.4h0M477.2 199.1h0M478.0 242.1h0M450.3 187.1h0M370.5 465.1h0M411.3 410.6h0M418.6 304.5h0M478.0 206.5h0M412.1 260.3h0M446.3 258.8h0M421.8 277.7h0M410.4 411.5h0M440.6 243.2h0M436.5 299.8h0M400.7 367.6h0M485.4 210.3h0M389.3 387.8h0M497.6 198.9h0M478.9 222.8h0M377.1 399.1h0M380.3 425.6h0M415.3 340.7h0M390.1 434.6h0M406.4 401.3h0M428.4 337.3h0M424.3 351.8h0M493.5 221.3h0M387.6 389.4h0M411.3 349.3h0M408.8 344.2h0M411.3 409.0h0M436.5 180.5h0M396.6 429.1h0M478.9 244.8h0M439.8 302.0h0M399.9 370.5h0M424.3 333.5h0M414.5 246.3h0M404.7 415.9h0M410.4 353.5h0M460.1 294.6h0M439.8 240.0h0M416.1 388.7h0M413.7 319.6h0M401.5 423.3h0M399.0 391.7h0M428.4 333.8h0M387.6 424.2h0M417.0 367.0h0M437.3 224.0h0M452.0 225.0h0M386.0 393.9h0M363.2 453.0h0M453.6 300.2h0M405.6 384.4h0M397.4 406.4h0M453.6 253.6h0M396.6 397.7h0M438.9 176.5h0M434.1 195.1h0M417.8 329.2h0M451.2 194.6h0M451.2 221.7h0M368.9 458.2h0M399.9 386.8h0M375.4 425.4h0M434.9 361.4h0M369.7 461.8h0M425.1 366.7h0M412.9 316.8h0M414.5 372.2h0M438.1 225.3h0M419.4 315.1h0M390.9 432.0h0M397.4 353.2h0M441.4 249.7h0M398.2 355.5h0M407.2 381.5h0M374.6 436.0h0M434.1 254.6h0M385.2 433.6h0M417.8 344.0h0M395.8 412.8h0M408.8 361.6h0M434.9 275.7h0M436.5 271.7h0M438.9 364.2h0M395.0 447.0h0M475.6 169.9h0M436.5 265.4h0M403.9 338.5h0M418.6 411.6h0M412.1 381.3h0M395.0 448.2h0M403.9 355.5h0M412.1 349.5h0M352.6 470.2h0M436.5 281.2h0M366.5 454.0h0M345.3 466.7h0M357.5 467.4h0M346.1 478.4h0M330.6 484.3h0"/>
<path stroke="#C49A00" d="M454.4 226.0h0M452.0 165.1h0M446.3 236.0h0M421.8 298.1h0M434.9 254.1h0M410.4 289.4h0M412.1 269.6h0M441.4 296.0h0M415.3 211.1h0M402.3 338.6h0M407.2 335.2h0M335.5 467.4h0M489.4 154.7h0M425.9 312.0h0M345.3 448.9h0M451.2 205.1h0M394.2 248.9h0M397.4 281.4h0M402.3 382.0h0M403.9 270.0h0M476.4 146.1h0M424.3 371.6h0M379.5 431.1h0M377.9 387.7h0M434.9 246.1h0M451.2 173.5h0M434.1 250.6h0M421.8 335.5h0M402.3 313.6h0M387.6 390.5h0M380.3 408.1h0M412.1 298.2h0M449.5 148.2h0M387.6 420.4h0M425.1 334.0h0M379.5 399.2h0M411.3 290.8h0M403.1 338.7h0M372.2 398.9h0M381.9 434.7h0M359.1 428.2h0M403.9 383.1h0M452.8 282.5h0M388.5 452.9h0M394.2 200.5h0M481.3 182.9h0M411.3 354.8h0M475.6 143.0h0M389.3 424.7h0M405.6 368.2h0M402.3 353.0h0M417.8 280.2h0M341.2 463.0h0M352.6 440.3h0M399.0 310.6h0M412.1 362.5h0M411.3 428.3h0M371.4 413.1h0M436.5 243.5h0M372.2 412.2h0M436.5 241.4h0M349.4 460.0h0M421.0 313.8h0M368.9 443.8h0M397.4 371.2h0M359.1 436.5h0M358.3 455.6h0M440.6 249.9h0M346.9 448.9h0M368.9 413.0h0M434.9 307.9h0M409.6 390.5h0M411.3 336.8h0M395.0 368.7h0M369.7 415.1h0M369.7 448.4h0M344.5 467.7h0M394.2 342.5h0M370.5 450.9h0M355.1 461.1h0M369.7 431.2h0M341.2 471.5h0M339.6 474.2h0M342.8 471.1h0"/>
<path stroke="#A58AFF" d="M440.6 313.7h0M439.8 344.2h0M495.1 177.6h0M477.2 262.6h0M451.2 331.6h0M476.4 143.8h0M438.1 420.6h0M482.9 273.3h0M478.0 233.9h0M476.4 256.4h0M494.3 185.8h0M498.4 192.7h0M449.5 349.7h0M460.1 319.7h0M491.9 210.8h0M496.8 187.0h0M491.1 175.5h0M516.3 135.4h0M413.7 443.2h0M477.2 224.7h0M474.8 220.2h0M451.2 254.7h0M387.6 439.5h0M501.7 165.1h0M496.8 181.4h0M415.3 415.7h0M478.9 199.7h0M434.1 294.1h0M434.9 405.3h0M491.9 136.8h0M435.7 383.2h0M363.2 471.6h0M491.9 221.5h0M396.6 308.2h0M495.1 173.4h0M478.9 190.7h0M500.8 220.1h0M482.9 200.2h0M491.1 152.0h0M467.5 283.2h0M475.6 350.3h0M353.4 477.1h0M434.1 394.2h0M387.6 423.5h0M443.0 350.1h0M517.1 163.3h0M381.9 422.9h0M405.6 430.6h0M496.8 156.2h0M430.0 368.7h0M444.6 165.5h0M402.3 413.6h0M387.6 431.7h0M425.9 415.2h0M440.6 396.6h0M451.2 313.7h0M495.1 278.1h0M499.2 182.5h0M412.9 412.9h0M368.9 421.1h0M478.9 194.5h0M410.4 421.6h0M393.3 339.4h0M414.5 378.2h0M368.9 453.1h0M450.3 353.5h0M416.1 300.7h0M376.2 435.3h0M399.0 377.2h0M413.7 366.1h0M369.7 451.4h0M412.1 407.7h0M416.1 378.9h0M434.1 260.4h0M393.3 416.7h0M437.3 356.9h0M385.2 438.7h0M434.9 327.8h0M354.2 474.4h0M385.2 424.8h0M472.3 323.2h0M482.9 220.4h0"/>
<path stroke="#53B400" d="M423.5 325.4h0M474.0 327.7h0M436.5 176.0h0M401.5 322.1h0M417.0 311.2h0M387.6 377.2h0M450.3 207.9h0M383.6 400.6h0M452.8 202.6h0M447.1 192.1h0M456.9 271.3h0M438.1 307.0h0M393.3 292.1h0M439.8 222.4h0M475.6 155.2h0M375.4 403.4h0M452.8 148.9h0M396.6 298.7h0M421.8 266.4h0M423.5 320.3h0M451.2 254.9h0M451.2 277.6h0M460.9 239.9h0M444.6 220.6h0M427.5 324.3h0M382.8 397.1h0M414.5 318.7h0M478.0 135.4h0M415.3 366.2h0M403.9 359.1h0M425.9 312.1h0M435.7 322.7h0M435.7 309.2h0M457.7 261.1h0M383.6 421.0h0M452.8 272.0h0M436.5 215.3h0M466.6 152.4h0M475.6 252.7h0M372.2 396.4h0M436.5 286.6h0M478.0 151.9h0M438.1 223.5h0M379.5 413.4h0M372.2 384.2h0M357.5 412.4h0M425.9 359.2h0M475.6 155.4h0M399.9 377.6h0M457.7 156.8h0M403.1 352.4h0M390.9 405.6h0M434.1 285.8h0M377.9 438.8h0M421.8 331.8h0M427.5 266.9h0M435.7 293.5h0M445.5 250.1h0M438.1 273.2h0M409.6 341.4h0M357.5 432.6h0M474.0 267.7h0M448.7 173.6h0M377.1 432.1h0M381.1 438.9h0M400.7 358.8h0M385.2 389.2h0M407.2 416.3h0M416.1 356.6h0M397.4 406.2h0M435.7 351.5h0M402.3 392.4h0M403.1 367.0h0M387.6 383.1h0M397.4 346.3h0M411.3 396.6h0M387.6 392.9h0M342.0 460.2h0M421.0 349.9h0M438.9 250.9h0M447.9 293.3h0M478.0 224.1h0M368.9 426.7h0M395.0 389.4h0M353.4 452.1h0M358.3 448.3h0M368.9 441.0h0M349.4 474.8h0M418.6 246.3h0M435.7 306.8h0M334.7 480.0h0M377.9 430.6h0M398.2 340.0h0M437.3 272.7h0M395.8 370.1h0M347.7 465.4h0M411.3 300.7h0M386.8 396.9h0M372.2 452.1h0M363.2 462.1h0M342.8 471.6h0M346.1 471.0h0M393.3 319.6h0M396.6 369.4h0M389.3 415.2h0"/>
<path stroke="#FB61D7" d="M491.9 236.9h0M533.3 153.1h0M496.0 237.8h0M496.8 194.9h0M515.5 141.3h0M473.2 321.5h0M516.3 247.9h0M460.1 314.0h0M481.3 160.2h0M475.6 201.6h0M476.4 323.0h0M502.5 163.2h0M505.7 207.4h0M414.5 415.7h0M481.3 245.1h0M439.8 212.9h0M385.2 458.3h0M477.2 289.1h0M494.3 165.3h0M467.5 357.3h0M435.7 377.6h0M517.1 210.5h0M500.0 161.8h0M516.3 195.2h0M377.1 428.7h0M376.2 444.3h0M488.7 386.6h0M410.4 376.9h0M379.5 446.3h0M501.7 212.5h0M475.6 231.7h0M390.9 432.0h0M406.4 438.2h0M440.6 318.5h0M499.2 175.0h0M412.9 363.1h0M514.7 209.4h0M359.1 466.4h0M359.1 463.4h0M366.5 464.6h0M499.2 229.5h0M372.2 448.4h0M401.5 374.9h0M404.7 422.4h0M413.7 445.0h0M393.3 421.5h0M435.7 395.0h0M434.9 373.4h0M474.8 255.8h0M395.0 418.3h0M345.3 482.1h0M368.1 455.7h0M518.8 144.4h0M342.0 477.6h0"/>
<path stroke="#00C094" d="M479.7 196.6h0M368.9 400.1h0M425.1 335.5h0M434.1 252.7h0M410.4 287.3h0M435.7 189.5h0M417.8 288.7h0M434.1 149.9h0M419.4 372.4h0M438.1 199.8h0M438.1 240.6h0M490.3 218.2h0M422.7 280.1h0M469.9 252.4h0M399.9 323.6h0M478.0 147.1h0M425.9 370.8h0M440.6 368.4h0M438.1 271.1h0M417.0 308.0h0M442.2 201.5h0M477.2 261.7h0M456.9 345.0h0M477.2 191.3h0M492.7 153.2h0M453.6 322.4h0M439.8 346.0h0M446.3 344.0h0M456.0 225.4h0M480.5 185.7h0M417.8 306.3h0M454.4 246.0h0M368.9 402.6h0M443.8 171.9h0M378.7 405.5h0M434.1 215.2h0M490.3 165.5h0M417.8 340.4h0M495.1 157.5h0M479.7 199.4h0M426.7 345.6h0M434.9 233.3h0M365.7 434.9h0M484.6 225.8h0M434.9 374.0h0M420.2 376.9h0M420.2 201.3h0M428.4 357.8h0M417.0 387.9h0M434.9 138.7h0M442.2 348.6h0M417.0 353.8h0M418.6 318.9h0M352.6 433.4h0M435.7 252.8h0M422.7 395.1h0M436.5 372.6h0M399.0 310.9h0M451.2 199.9h0M408.0 396.9h0M399.9 376.0h0M451.2 327.5h0M381.1 430.8h0M464.2 315.5h0M476.4 173.1h0M434.9 344.5h0M417.8 341.8h0M404.7 385.3h0M397.4 260.4h0M411.3 291.3h0M407.2 409.9h0M434.9 266.2h0M439.8 302.6h0M475.6 176.3h0M475.6 160.9h0M412.1 314.8h0M395.8 342.2h0M413.7 328.3h0M386.0 388.0h0M375.4 441.0h0M375.4 436.8h0M408.8 390.8h0M434.1 239.3h0M434.1 355.0h0M413.7 268.6h0M421.8 406.9h0M374.6 423.3h0M472.3 230.1h0M387.6 420.8h0M439.8 388.1h0M359.1 470.7h0M387.6 405.7h0M337.1 455.3h0M373.8 418.2h0M401.5 431.1h0M400.7 428.0h0M353.4 461.6h0M385.2 438.3h0M389.3 378.2h0M380.3 436.8h0M403.1 287.3h0M408.8 245.7h0M441.4 244.5h0M396.6 377.2h0M358.3 460.6h0M392.5 424.3h0M362.4 452.1h0M398.2 374.5h0M374.6 437.6h0M407.2 382.9h0M397.4 380.8h0M489.4 138.7h0M397.4 419.7h0M353.4 457.7h0M417.8 327.3h0M356.7 467.6h0M354.2 462.7h0M399.9 388.0h0M395.0 343.4h0M394.2 416.3h0M394.2 404.6h0M389.3 438.0h0M422.7 309.2h0M369.7 427.0h0M386.0 402.8h0M421.0 374.8h0"/>
<path stroke="#F8766D" d="M456.0 312.7h0M335.5 459.1h0M394.1 256.7h0M337.1 425.8h0M352.6 419.9h0M368.1 391.7h0M424.3 371.9h0M435.7 181.5h0M394.2 269.6h0M394.2 232.8h0M403.1 294.2h0M438.9 234.7h0M337.1 456.7h0M415.3 293.8h0M373.0 403.3h0M409.6 299.6h0M356.7 421.1h0M381.1 396.6h0M361.6 444.9h0M341.2 458.5h0M447.1 250.1h0M405.6 367.3h0M434.9 193.2h0M363.2 421.3h0M368.9 387.5h0M346.9 446.4h0M358.3 425.3h0M396.6 350.9h0M352.6 420.9h0M391.7 407.1h0M399.9 303.3h0M438.9 227.3h0M450.3 184.6h0M359.1 418.0h0M438.9 224.6h0M368.9 406.0h0M408.0 260.1h0M356.7 426.1h0M394.2 307.1h0M415.3 309.3h0M410.4 371.7h0M403.9 345.8h0M412.1 398.2h0M366.5 430.6h0M363.2 444.7h0M385.2 396.7h0M411.3 250.2h0M456.0 178.9h0M400.7 341.6h0M369.7 396.6h0M410.4 287.7h0M394.2 295.0h0M355.1 439.6h0M400.7 368.2h0M346.9 458.9h0M413.7 326.8h0M394.2 368.6h0M348.5 471.0h0M349.4 460.1h0M440.6 219.1h0M411.3 186.2h0M353.4 453.9h0M427.5 342.1h0M338.0 464.7h0"/>
<path stroke="#00B6EB" d="M490.3 240.7h0M491.1 202.1h0M481.3 154.9h0M422.7 264.0h0M434.9 401.4h0M453.6 303.7h0M498.4 180.5h0M438.9 346.5h0M434.1 209.4h0M497.6 181.7h0M381.9 442.2h0M486.2 184.8h0M468.3 234.1h0M455.2 284.5h0M375.4 405.8h0M434.1 347.1h0M418.6 357.5h0M438.9 343.9h0M458.5 176.5h0M479.7 219.7h0M483.7 242.9h0M477.2 171.7h0M506.5 151.5h0M435.7 387.9h0M497.6 181.5h0M410.4 417.7h0M443.0 229.8h0M460.1 290.5h0M447.9 295.4h0M435.7 293.9h0M378.7 406.7h0M480.5 227.6h0M450.3 258.7h0M423.5 354.7h0M420.2 395.2h0M364.8 468.7h0M408.0 411.2h0M414.5 281.4h0M402.3 426.0h0M410.4 317.4h0M408.0 343.5h0M474.8 180.4h0M402.3 385.7h0M415.3 172.9h0M404.7 427.3h0M451.2 320.3h0M415.3 367.9h0M454.4 234.6h0M451.2 269.6h0M487.7 325.6h0M455.2 324.3h0M436.5 333.4h0M419.4 260.4h0M474.8 167.7h0M434.9 367.9h0M438.9 348.7h0M465.0 171.3h0M417.8 411.5h0M455.2 298.9h0M435.7 294.6h0M408.8 419.9h0M434.9 343.3h0M365.7 463.7h0M434.1 350.0h0M456.9 313.4h0M399.0 427.6h0M416.1 364.3h0M404.7 401.8h0M435.7 346.5h0M375.4 443.5h0M444.6 376.7h0M453.6 236.0h0M370.5 464.2h0M434.9 245.4h0M399.9 382.4h0M412.1 363.8h0M462.6 284.4h0M410.4 368.2h0M390.9 410.2h0M413.7 394.6h0M478.0 212.6h0M451.2 181.0h0M406.4 420.2h0M394.2 406.7h0M405.6 377.1h0M396.6 376.6h0M395.0 405.2h0M443.8 317.3h0M436.5 359.4h0M438.9 303.5h0M359.1 465.0h0M358.3 457.0h0M389.3 428.8h0M478.0 206.8h0M394.2 443.7h0M400.7 387.8h0M411.3 403.9h0M382.8 404.5h0M393.3 434.6h0M438.9 238.1h0M395.8 377.1h0M451.2 284.8h0M383.6 417.9h0M345.3 467.3h0M412.9 335.3h0"/>
<path stroke="#C49A00" d="M454.4 177.9h0M373.8 400.4h0M436.5 175.5h0M438.9 296.9h0M362.4 434.1h0M412.9 239.6h0M427.5 277.8h0M333.1 466.8h0M335.5 468.0h0M400.7 326.3h0M421.0 263.6h0M450.3 203.2h0M475.6 269.0h0M411.3 245.4h0M353.4 415.0h0M397.4 322.5h0M374.6 388.3h0M412.9 228.5h0M365.7 424.6h0M460.1 171.9h0M417.8 317.9h0M422.7 372.7h0M396.6 303.9h0M412.1 307.5h0M443.0 273.1h0M485.4 163.1h0M360.8 434.9h0M403.9 346.7h0M447.9 249.7h0M408.0 348.0h0M450.3 242.9h0M417.8 262.7h0M434.1 308.9h0M395.0 290.4h0M412.1 211.6h0M362.4 434.1h0M387.6 394.3h0M336.3 454.4h0M424.3 269.4h0M378.7 398.9h0M399.0 363.8h0M335.5 475.8h0M386.8 362.1h0M396.6 341.6h0M364.8 427.1h0M372.2 411.7h0M385.2 382.8h0M476.4 184.7h0M353.4 437.0h0M364.0 450.0h0M402.3 413.0h0M442.2 244.3h0M390.9 433.0h0M440.6 320.0h0M346.9 455.6h0M387.6 383.2h0M456.0 240.3h0M399.0 355.1h0M396.6 384.1h0M348.5 450.0h0M362.4 462.0h0M408.0 388.9h0M377.9 443.4h0M345.3 457.1h0M350.2 477.5h0M368.9 442.3h0M412.1 348.9h0M408.8 351.2h0M353.4 443.1h0M400.7 244.4h0M335.5 477.6h0M395.8 382.5h0M403.9 370.1h0M444.6 173.0h0M409.6 335.8h0M401.5 301.9h0M400.7 404.6h0M371.4 422.3h0M377.9 419.3h0M347.7 462.1h0M337.1 469.9h0M395.0 375.0h0M390.9 396.3h0M346.9 466.5h0M386.8 416.4h0M413.7 287.0h0M330.6 482.8h0M417.8 407.1h0M368.9 437.1h0"/>
<path stroke="#F8766D" d="M381.9 374.7h0M419.4 313.5h0M418.6 288.7h0M389.3 370.4h0M416.1 283.6h0M381.1 384.3h0M338.8 445.6h0M434.1 233.9h0M349.4 431.3h0M370.5 389.8h0M434.1 151.4h0M343.7 450.4h0M376.2 399.0h0M410.4 274.1h0M415.3 175.4h0M358.3 424.4h0M399.9 329.3h0M439.8 309.1h0M395.8 206.1h0M359.1 422.0h0M380.3 389.9h0M381.9 388.1h0M403.9 334.1h0M410.4 338.1h0M397.4 317.8h0M412.9 292.9h0M391.7 386.7h0M347.7 439.4h0M343.7 458.0h0M409.6 346.1h0M358.3 416.6h0M355.9 436.0h0M410.4 383.6h0M348.5 453.2h0M434.1 257.5h0M434.1 262.7h0M412.1 337.7h0M379.5 395.5h0M421.8 280.4h0M408.0 342.7h0M413.7 308.0h0M377.1 399.6h0M341.2 461.4h0M364.8 437.1h0M410.4 250.0h0M351.0 461.2h0M337.1 465.0h0M411.3 334.9h0M339.6 467.8h0M396.6 378.7h0M399.9 346.7h0M346.1 452.7h0M365.7 435.8h0M357.5 460.2h0M393.3 370.3h0M353.4 446.0h0M396.6 307.7h0M370.5 412.1h0M418.6 333.3h0M346.1 474.1h0M342.0 477.6h0M345.3 473.2h0M412.9 240.0h0M336.3 478.6h0"/>
<path stroke="#53B400" d="M417.8 284.8h0M381.9 452.0h0M458.5 233.0h0M438.1 312.8h0M438.9 306.3h0M439.8 307.5h0M448.7 294.3h0M427.5 352.4h0M403.1 312.1h0M403.1 313.9h0M478.9 260.7h0M410.4 275.6h0M391.7 378.0h0M390.1 441.1h0M399.0 345.0h0M405.6 237.0h0M416.1 303.7h0M416.1 389.5h0M402.3 335.0h0M404.7 385.5h0M435.7 366.5h0M420.2 335.8h0M405.6 331.2h0M442.2 186.9h0M378.7 409.3h0M390.9 421.0h0M428.4 366.7h0M407.2 295.7h0M480.5 232.6h0M400.7 363.3h0M411.3 357.7h0M459.3 262.2h0M395.0 320.8h0M476.4 210.8h0M412.9 323.4h0M345.3 439.5h0M438.9 276.0h0M452.0 194.2h0M401.5 305.5h0M417.0 385.5h0M348.5 455.1h0M351.0 450.0h0M383.6 416.1h0M434.9 369.0h0M437.3 341.1h0M464.2 283.4h0M371.4 405.6h0M398.2 352.9h0M417.0 302.2h0M388.5 348.4h0M392.5 412.2h0M403.1 419.0h0M428.4 390.2h0M398.2 339.7h0M386.0 395.1h0M438.1 242.6h0M406.4 274.3h0M462.6 214.3h0M358.3 428.5h0M406.4 373.1h0M382.8 415.6h0M396.6 370.2h0M374.6 440.3h0M395.8 391.6h0M361.6 457.5h0M349.4 462.6h0M412.1 350.5h0M475.6 222.7h0M476.4 240.4h0M443.8 229.5h0M409.6 343.7h0M403.9 402.9h0M338.8 467.9h0M395.0 402.2h0M376.2 435.0h0M450.3 303.4h0M373.0 412.7h0M336.3 484.0h0M359.1 458.4h0M393.3 355.1h0M456.0 166.3h0"/>
<path stroke="#A58AFF" d="M479.7 187.1h0M500.0 186.3h0M442.2 294.9h0M427.5 288.9h0M496.0 146.6h0M429.2 364.8h0M497.6 214.5h0M474.8 290.9h0M456.0 215.4h0M497.6 265.7h0M421.8 381.7h0M429.2 238.0h0M423.5 373.6h0M475.6 180.1h0M405.6 349.4h0M364.0 469.1h0M474.8 280.2h0M421.8 378.7h0M504.9 184.1h0M499.2 187.8h0M480.5 226.6h0M383.6 435.7h0M407.2 386.6h0M492.7 205.5h0M495.1 168.0h0M367.3 462.8h0M479.7 195.3h0M405.6 385.0h0M379.5 438.2h0M500.0 137.7h0M452.0 354.8h0M476.4 316.8h0M434.9 398.9h0M475.6 223.7h0M479.7 315.7h0M414.5 396.6h0M410.4 398.1h0M479.7 223.8h0M392.5 450.2h0M450.3 181.5h0M421.8 413.1h0M410.4 423.4h0M475.6 301.0h0M383.6 445.7h0M482.9 178.9h0M403.1 402.0h0M426.7 378.4h0M517.9 155.2h0M399.0 442.8h0M377.1 448.5h0M497.6 199.5h0M421.0 408.5h0M482.1 224.2h0M474.8 261.6h0M414.5 376.5h0M492.7 156.9h0M422.7 328.0h0M476.4 188.9h0M492.7 184.0h0M509.8 159.4h0M411.3 357.9h0M447.1 376.7h0M371.4 466.6h0M428.4 358.0h0M399.0 405.1h0M481.3 272.5h0M482.9 226.3h0M434.9 295.5h0M415.3 369.3h0M441.4 396.0h0M394.2 429.2h0M368.9 459.8h0M346.1 480.8h0M398.2 415.5h0M387.6 445.7h0M434.9 339.2h0M477.2 252.3h0M499.0 296.6h0M395.8 422.5h0M376.2 439.9h0M393.3 436.3h0M397.4 424.3h0M371.4 455.6h0M394.2 349.1h0M397.4 418.9h0M423.5 332.7h0M395.8 398.9h0M407.2 360.8h0M387.6 426.0h0M440.6 297.1h0M436.5 316.3h0"/>
<path stroke="#FB61D7" d="M443.8 351.2h0M436.5 185.5h0M479.7 194.4h0M420.2 402.1h0M425.1 398.9h0M453.6 328.9h0M403.1 430.7h0M496.0 382.6h0M485.4 277.7h0M434.1 400.4h0M414.5 418.5h0M493.5 137.7h0M476.4 202.8h0M477.2 208.9h0M438.1 417.0h0M421.8 382.8h0M485.4 181.4h0M455.2 301.0h0M387.6 452.1h0M474.8 253.9h0M457.7 307.5h0M443.0 316.0h0M450.3 257.2h0M389.3 443.0h0M490.3 156.7h0M382.8 440.9h0M499.2 207.8h0M451.2 311.4h0M476.4 156.9h0M509.0 247.2h0M438.9 353.5h0M472.3 333.6h0M408.8 436.6h0M474.8 329.1h0M436.5 369.5h0M411.3 293.5h0M438.1 407.6h0M408.0 399.6h0M500.8 144.5h0M402.3 396.0h0M434.9 424.5h0M450.3 297.6h0M514.7 173.5h0M359.1 471.1h0M506.5 195.0h0M394.2 435.1h0M394.2 416.6h0M386.0 439.2h0M426.7 366.1h0M330.6 485.1h0M384.4 421.9h0M395.8 401.9h0M511.4 166.8h0M375.4 458.8h0M336.3 481.3h0"/>
<path stroke="#00B6EB" d="M434.9 138.6h0M388.5 455.2h0M491.9 184.2h0M411.3 253.6h0M442.2 309.8h0M429.2 345.5h0M357.5 474.1h0M437.3 237.9h0M417.8 393.1h0M395.0 452.1h0M399.9 444.8h0M450.3 355.4h0M450.3 308.1h0M443.8 321.4h0M438.1 410.8h0M437.3 261.2h0M447.9 309.8h0M483.7 167.0h0M365.7 428.5h0M477.0 377.6h0M438.1 390.7h0M446.3 267.0h0M442.2 287.5h0M393.3 448.1h0M481.3 245.2h0M444.6 192.9h0M478.9 309.5h0M481.3 213.5h0M434.1 233.8h0M425.9 318.3h0M423.5 340.8h0M405.6 409.5h0M495.1 158.1h0M386.0 368.3h0M494.3 142.5h0M480.5 175.0h0M421.0 369.0h0M394.2 287.1h0M439.8 373.8h0M419.4 393.6h0M531.4 218.8h0M440.6 339.6h0M451.2 336.6h0M443.8 303.8h0M417.8 402.8h0M476.4 198.4h0M434.9 313.9h0M482.1 155.3h0M451.2 337.5h0M435.7 295.5h0M388.5 435.6h0M434.1 275.4h0M406.4 365.0h0M401.5 420.0h0M426.7 332.2h0M414.5 326.3h0M435.7 230.8h0M491.1 228.6h0M400.7 424.3h0M390.1 430.2h0M434.1 308.2h0M450.3 228.9h0M434.9 245.0h0M423.5 383.3h0M403.1 319.6h0M435.7 355.3h0M469.9 221.8h0M334.7 476.3h0M496.0 182.2h0M396.6 373.0h0M403.1 412.7h0M440.6 251.2h0M497.6 159.5h0M418.6 410.4h0M477.2 208.1h0M494.3 204.7h0M372.2 415.8h0M417.8 407.0h0M417.0 350.7h0M407.2 386.6h0M419.4 361.2h0M479.7 190.9h0M359.9 473.6h0M348.5 479.0h0M363.2 453.9h0M368.9 429.9h0M487.8 135.8h0M515.0 330.5h0M385.2 433.6h0M358.3 439.8h0M373.0 454.4h0M348.5 472.9h0M395.0 414.1h0M370.5 431.0h0M436.5 367.1h0M369.7 436.7h0M399.0 390.4h0M355.9 459.8h0M369.7 434.3h0M338.0 470.8h0M434.1 365.5h0M411.3 266.9h0M330.6 483.2h0M346.9 470.2h0"/>
<path stroke="#00C094" d="M460.9 204.1h0M477.2 287.1h0M446.3 272.2h0M420.2 296.6h0M409.6 217.9h0M436.5 248.3h0M478.0 246.2h0M403.9 334.9h0M477.2 298.6h0M439.8 213.9h0M387.6 445.3h0M442.2 224.1h0M437.3 404.6h0M368.9 417.0h0M395.8 264.9h0M453.6 280.3h0M477.2 157.1h0M430.0 282.5h0M418.6 373.2h0M452.8 259.0h0M404.7 301.6h0M403.1 330.0h0M476.4 209.3h0M455.2 236.2h0M373.0 388.7h0M478.9 227.0h0M476.4 166.2h0M371.4 397.2h0M390.1 367.8h0M394.2 330.9h0M426.7 332.6h0M435.7 267.6h0M450.3 255.2h0M363.2 465.8h0M411.3 282.8h0M406.4 289.0h0M431.6 353.4h0M434.1 185.7h0M475.6 269.5h0M417.8 296.2h0M474.8 209.7h0M478.9 260.1h0M438.9 289.3h0M410.4 408.3h0M430.0 372.9h0M406.4 359.2h0M399.9 366.1h0M489.4 169.0h0M409.6 333.4h0M486.2 139.2h0M379.5 444.5h0M434.1 366.5h0M403.1 345.9h0M438.9 252.3h0M398.2 434.9h0M399.0 406.8h0M434.9 375.1h0M438.1 374.8h0M393.3 312.0h0M350.2 477.0h0M399.0 390.4h0M388.5 425.0h0M409.6 403.4h0M414.5 340.8h0M444.6 373.7h0M372.2 424.7h0M445.5 317.4h0M390.1 419.6h0M447.1 181.0h0M469.1 226.4h0M434.1 342.2h0M372.2 426.1h0M389.3 396.2h0M476.4 216.9h0M385.2 407.2h0M390.9 403.2h0M368.9 455.0h0M437.3 316.1h0M397.4 402.6h0M434.1 292.3h0M438.9 306.7h0M422.7 348.3h0M437.3 274.8h0M434.1 403.2h0M368.9 436.0h0M389.3 436.1h0M405.6 340.4h0M369.7 464.7h0M443.8 315.9h0M352.6 448.8h0M437.3 299.1h0M422.7 282.9h0M438.1 140.3h0M511.4 170.5h0M398.2 385.8h0M395.0 352.7h0M372.2 432.2h0M410.4 296.0h0M341.2 468.1h0M400.7 431.5h0M341.2 471.3h0M382.8 414.6h0M360.8 466.5h0M347.7 462.6h0M453.6 332.0h0M333.1 483.6h0M389.3 421.2h0M476.4 246.4h0M434.1 363.1h0M353.4 452.1h0M391.7 434.2h0M394.2 395.2h0M372.2 442.2h0M347.7 473.3h0M397.4 391.5h0"/>
<path stroke="#FB61D7" d="M499.2 159.0h0M500.8 220.8h0M435.7 421.0h0M387.6 451.7h0M437.3 387.1h0M409.6 421.4h0M504.9 199.8h0M492.3 384.6h0M482.1 264.0h0M496.8 175.4h0M475.6 278.0h0M473.2 276.1h0M442.2 261.8h0M521.2 203.5h0M452.8 378.8h0M434.1 387.5h0M410.4 398.4h0M506.5 206.0h0M523.6 196.0h0M474.8 340.6h0M437.3 382.9h0M491.1 159.0h0M414.5 362.6h0M402.3 446.8h0M492.7 163.7h0M556.4 186.8h0M452.8 250.4h0M519.6 167.4h0M487.0 202.4h0M436.5 288.9h0M427.5 392.9h0M409.6 318.9h0M399.9 398.3h0M434.1 427.8h0M399.9 419.6h0M357.5 473.2h0M407.2 331.2h0M438.1 234.2h0M481.3 330.5h0M455.2 319.3h0M492.7 227.4h0M474.8 193.1h0M426.7 340.9h0M456.9 248.6h0M415.3 384.5h0M416.1 402.1h0M400.7 430.8h0M348.5 463.7h0"/>
<path stroke="#C49A00" d="M435.7 210.0h0M364.8 403.1h0M402.3 288.2h0M437.3 199.0h0M414.5 294.2h0M390.9 378.3h0M393.3 230.5h0M397.4 301.1h0M417.0 218.7h0M399.9 300.1h0M434.9 211.6h0M472.3 208.0h0M434.1 229.3h0M395.8 268.7h0M434.9 229.0h0M407.2 345.8h0M372.2 366.4h0M405.6 354.7h0M401.5 314.1h0M378.7 398.0h0M439.8 287.5h0M408.0 353.0h0M437.3 135.4h0M385.2 346.1h0M390.1 376.7h0M410.4 314.0h0M434.9 243.5h0M413.7 414.1h0M438.9 271.8h0M395.0 233.6h0M409.6 304.9h0M416.1 277.8h0M403.9 341.6h0M399.0 322.9h0M437.3 345.2h0M359.1 413.5h0M421.8 341.6h0M397.4 365.8h0M434.1 288.7h0M434.1 316.7h0M451.2 142.3h0M440.6 145.6h0M409.6 312.3h0M363.2 461.5h0M412.9 344.6h0M434.1 333.1h0M360.8 442.5h0M373.0 399.5h0M399.0 300.0h0M350.2 455.1h0M396.6 345.1h0M409.6 225.9h0M401.5 274.8h0M395.8 297.5h0M369.7 401.3h0M371.4 416.7h0M399.0 319.8h0M373.0 409.8h0M368.9 425.0h0M394.2 308.7h0M370.5 409.3h0M408.8 351.4h0M457.7 240.9h0M410.4 301.2h0M389.3 418.3h0M395.0 354.0h0M398.2 347.4h0M439.8 217.7h0M377.9 426.7h0M399.0 288.3h0M374.6 428.0h0M413.7 339.9h0M438.1 249.8h0M373.0 418.8h0M369.7 435.5h0M415.3 349.1h0M350.2 463.1h0M394.2 339.4h0M338.0 465.3h0M396.6 362.9h0M394.2 348.3h0M393.3 399.8h0M358.3 447.7h0M356.7 434.3h0M341.2 475.5h0M399.0 330.1h0"/>
<path stroke="#F8766D" d="M344.5 452.7h0M371.4 380.5h0M393.3 288.7h0M399.0 313.5h0M395.8 239.1h0M435.7 152.6h0M422.7 324.9h0M390.9 383.0h0M386.8 356.5h0M395.0 286.6h0M400.7 343.6h0M353.4 417.2h0M397.4 268.5h0M348.5 445.7h0M396.6 260.3h0M394.2 273.4h0M405.6 279.3h0M395.8 187.1h0M364.0 433.2h0M364.0 430.3h0M363.2 421.9h0M407.2 365.2h0M390.1 371.5h0M424.3 319.9h0M388.5 386.9h0M438.9 225.0h0M398.2 288.1h0M421.8 337.5h0M375.4 411.3h0M397.4 261.7h0M399.9 335.7h0M411.3 359.1h0M385.2 372.9h0M402.3 366.8h0M415.3 322.3h0M369.7 385.5h0M437.3 216.5h0M368.9 393.8h0M387.6 356.1h0M436.5 299.0h0M391.7 395.1h0M353.4 423.0h0M330.6 473.9h0M436.5 290.5h0M395.8 364.1h0M367.3 446.1h0M373.8 420.3h0M399.0 205.0h0M435.7 319.9h0M369.7 415.1h0M389.3 367.4h0M363.2 453.2h0M410.4 355.9h0M371.4 445.7h0M374.6 418.5h0M369.7 412.0h0M351.0 464.6h0M443.8 160.6h0M355.9 459.6h0M367.3 435.7h0M344.5 468.1h0"/>
<path stroke="#A58AFF" d="M495.1 140.9h0M407.2 434.9h0M452.0 390.5h0M460.9 304.2h0M450.3 309.1h0M455.2 341.0h0M463.4 184.8h0M474.8 159.7h0M496.8 146.5h0M372.2 467.4h0M418.6 257.5h0M491.9 147.6h0M453.6 293.9h0M508.2 164.6h0M557.4 290.8h0M403.1 422.2h0M460.9 275.7h0M444.6 349.9h0M515.5 137.6h0M380.3 413.9h0M478.9 238.7h0M453.6 271.8h0M474.8 325.6h0M435.7 431.2h0M399.9 299.8h0M430.8 265.6h0M414.5 425.4h0M452.0 230.2h0M437.3 229.2h0M434.9 362.0h0M414.5 429.2h0M410.4 400.5h0M452.8 362.0h0M434.9 283.1h0M436.5 337.1h0M438.9 286.6h0M480.5 276.5h0M450.3 276.4h0M405.6 330.9h0M436.5 371.4h0M417.8 439.6h0M518.8 151.7h0M435.7 340.8h0M482.1 248.1h0M410.4 419.1h0M373.0 462.7h0M406.4 381.2h0M493.5 134.1h0M386.0 449.1h0M386.0 383.7h0M428.4 396.9h0M480.5 167.5h0M423.5 359.2h0M398.2 429.4h0M474.8 218.0h0M396.6 426.1h0M411.3 388.0h0M434.9 373.5h0M403.9 401.9h0M396.6 388.1h0M396.6 398.2h0M395.0 429.9h0M354.2 449.8h0M452.8 271.1h0M399.9 416.4h0M413.7 405.3h0M403.9 399.7h0M451.2 288.9h0M436.5 228.8h0M398.2 419.2h0M434.9 320.2h0M385.2 457.0h0M373.0 446.1h0M393.3 424.9h0M394.2 438.3h0M399.0 399.1h0M369.7 450.2h0M386.0 405.5h0"/>
<path stroke="#00B6EB" d="M398.2 291.0h0M460.9 236.7h0M417.8 245.2h0M427.5 361.3h0M465.8 310.7h0M442.2 224.1h0M473.2 342.8h0M481.3 237.8h0M475.6 148.4h0M464.2 279.6h0M419.4 402.3h0M442.2 237.1h0M450.3 346.2h0M495.1 184.4h0M476.4 201.6h0M483.6 372.7h0M414.5 408.6h0M399.9 328.1h0M410.4 276.3h0M438.9 288.1h0M421.0 413.6h0M455.2 220.6h0M479.7 224.0h0M452.0 254.2h0M414.5 428.7h0M491.1 212.6h0M479.7 244.1h0M447.1 358.8h0M434.9 156.6h0M434.9 346.7h0M409.6 408.6h0M436.5 341.6h0M441.4 368.7h0M438.9 352.4h0M499.2 163.3h0M462.6 292.7h0M478.0 163.4h0M450.3 350.9h0M434.9 317.7h0M436.5 385.3h0M491.9 258.3h0M458.5 179.7h0M410.4 319.4h0M494.3 215.8h0M410.4 309.2h0M475.6 191.9h0M481.3 262.8h0M421.8 305.4h0M439.8 335.0h0M420.2 272.3h0M438.1 315.1h0M492.7 224.9h0M446.3 204.0h0M495.1 179.2h0M477.2 249.8h0M418.6 352.8h0M451.2 299.8h0M378.7 411.4h0M474.8 218.2h0M390.9 413.6h0M469.1 264.5h0M437.3 386.6h0M496.8 212.2h0M474.8 289.0h0M441.4 303.6h0M416.1 351.2h0M477.2 184.8h0M452.0 282.6h0M417.0 377.1h0M379.5 449.5h0M386.0 441.9h0M422.7 331.2h0M415.3 328.7h0M436.5 187.2h0M411.3 409.5h0M420.2 366.8h0M396.6 372.4h0M372.2 457.5h0M378.7 420.4h0M385.2 428.0h0M397.4 394.2h0M408.8 345.4h0M388.5 418.1h0M414.5 377.1h0M435.7 351.6h0M491.1 153.7h0M342.0 480.3h0M354.2 472.4h0M351.0 464.4h0M457.7 312.6h0M420.2 374.9h0M386.0 419.3h0M389.3 435.8h0M386.8 430.4h0M434.9 340.7h0M447.1 249.7h0M434.9 303.4h0M491.1 163.5h0M371.4 454.8h0M393.3 408.5h0M444.6 304.3h0M370.5 425.9h0M406.4 354.9h0M387.6 402.2h0M344.5 466.7h0M411.3 384.0h0M354.2 466.0h0M398.2 442.1h0M395.0 364.2h0M335.5 480.9h0M398.2 326.8h0M382.8 403.0h0M401.5 397.8h0M395.8 380.8h0M340.4 479.1h0M336.3 479.8h0M395.8 325.1h0"/>
<path stroke="#53B400" d="M417.8 272.4h0M451.2 181.9h0M391.7 442.5h0M437.3 242.4h0M424.3 177.2h0M398.2 234.9h0M443.0 236.2h0M455.2 165.9h0M375.4 412.2h0M415.3 309.8h0M430.0 356.7h0M463.4 276.7h0M419.4 367.5h0M421.8 244.9h0M449.5 168.5h0M402.3 375.9h0M416.1 319.1h0M408.0 388.1h0M406.4 331.8h0M443.0 260.0h0M379.5 378.6h0M477.2 141.0h0M456.9 196.5h0M438.1 241.6h0M415.3 324.5h0M364.0 449.8h0M387.6 374.0h0M369.7 465.0h0M387.6 396.0h0M391.7 383.2h0M477.2 180.4h0M474.8 163.8h0M434.9 397.0h0M377.1 455.2h0M442.2 315.7h0M414.5 372.6h0M403.1 338.4h0M381.1 426.3h0M394.2 337.2h0M417.0 314.0h0M361.6 447.7h0M411.3 363.2h0M415.3 208.6h0M400.7 358.7h0M411.3 226.7h0M436.5 198.6h0M411.3 342.3h0M412.9 377.8h0M438.1 236.5h0M364.8 466.2h0M395.8 297.0h0M451.2 262.4h0M398.2 386.6h0M338.0 456.4h0M442.2 353.0h0M453.6 280.8h0M450.3 264.3h0M382.8 420.0h0M345.3 461.5h0M364.8 438.0h0M386.0 424.5h0M435.7 240.1h0M369.7 440.4h0M480.5 165.9h0M397.4 375.1h0M406.4 342.0h0M339.6 471.0h0M386.0 403.4h0M424.3 300.9h0M348.5 467.7h0M374.6 446.8h0M352.6 448.3h0M346.1 480.4h0M360.8 457.7h0M340.4 455.1h0M370.5 438.1h0"/>
<path stroke="#00C094" d="M454.4 288.7h0M442.2 326.4h0M442.2 333.0h0M406.4 315.6h0M442.2 202.7h0M434.1 226.0h0M395.0 276.4h0M454.4 300.9h0M420.2 324.4h0M410.4 292.6h0M458.5 276.7h0M377.9 396.8h0M454.4 237.8h0M451.2 247.4h0M461.7 260.5h0M478.0 162.9h0M436.5 146.6h0M451.2 279.0h0M422.7 266.1h0M419.4 338.7h0M422.7 376.9h0M452.0 212.6h0M440.6 200.4h0M420.2 338.4h0M414.5 293.5h0M438.9 355.3h0M408.0 430.3h0M469.1 328.4h0M413.7 288.4h0M556.4 221.1h0M478.0 153.6h0M439.8 343.0h0M450.3 286.9h0M509.7 306.5h0M487.0 163.0h0M425.1 173.7h0M482.1 201.9h0M460.9 174.6h0M487.0 137.1h0M430.0 354.9h0M392.5 438.2h0M405.6 400.3h0M425.9 243.4h0M441.4 365.8h0M434.9 331.8h0M452.0 244.1h0M408.8 408.5h0M482.9 151.6h0M435.7 316.5h0M417.8 361.7h0M417.0 388.4h0M453.6 386.1h0M396.6 325.4h0M377.1 397.3h0M434.9 339.2h0M399.9 436.5h0M451.2 298.3h0M477.2 173.8h0M418.6 380.3h0M477.2 220.0h0M493.5 170.9h0M447.1 293.7h0M410.4 336.9h0M412.9 342.2h0M451.2 141.0h0M408.8 335.5h0M403.1 390.9h0M403.9 398.8h0M492.7 175.5h0M434.9 332.6h0M357.5 436.3h0M410.4 342.0h0M409.6 365.6h0M395.0 278.1h0M404.7 356.5h0M404.7 380.1h0M410.4 291.7h0M465.0 226.7h0M419.4 351.5h0M407.2 370.2h0M414.5 361.9h0M403.9 340.5h0M403.1 345.1h0M474.8 218.6h0M443.8 281.2h0M409.6 305.8h0M413.7 308.6h0M368.9 400.4h0M486.2 194.0h0M434.9 382.3h0M420.2 369.0h0M391.7 404.4h0M434.9 361.2h0M386.0 380.7h0M396.6 410.3h0M394.2 445.9h0M355.1 446.5h0M411.3 336.3h0M428.4 362.3h0M394.2 438.7h0M425.1 344.2h0M410.4 348.0h0M474.8 209.1h0M396.6 361.6h0M368.9 448.1h0M397.4 367.3h0M416.1 371.6h0M386.8 405.5h0M396.6 340.7h0M393.3 365.5h0M386.0 410.6h0M434.1 271.7h0M435.7 288.5h0M410.4 360.8h0M492.7 214.5h0M494.3 188.3h0M395.0 351.1h0M382.8 440.3h0M402.3 397.8h0M421.0 336.0h0M438.1 339.2h0M358.3 445.1h0M364.0 456.1h0M371.4 425.9h0M359.9 461.0h0M396.6 423.2h0M479.7 146.8h0M368.9 461.9h0M335.5 477.2h0M393.3 444.8h0M475.6 214.3h0M434.1 396.4h0M437.3 343.1h0M410.4 321.1h0M380.3 424.4h0M404.7 397.8h0M388.5 434.1h0M341.2 475.8h0M385.2 414.7h0M344.5 479.5h0M369.7 443.3h0M344.5 470.5h0M349.4 472.4h0M438.1 317.0h0M450.3 262.7h0"/>
<path stroke="#00C094" d="M461.7 201.9h0M456.0 262.0h0M417.8 376.0h0M451.2 194.9h0M466.6 224.0h0M475.6 231.3h0M378.7 454.5h0M443.0 281.1h0M388.5 444.5h0M482.9 230.3h0M475.6 212.2h0M438.9 258.3h0M434.9 407.6h0M414.5 410.1h0M403.1 410.5h0M426.7 313.8h0M438.9 380.1h0M462.6 142.5h0M440.6 384.9h0M434.9 324.3h0M416.1 281.4h0M456.9 316.7h0M407.2 363.8h0M453.6 340.0h0M421.0 373.9h0M405.6 411.7h0M434.9 316.4h0M435.7 164.6h0M423.5 307.9h0M434.9 238.4h0M450.3 325.0h0M443.8 209.9h0M453.6 253.9h0M446.3 254.1h0M556.1 240.6h0M375.4 451.1h0M409.6 294.0h0M414.5 266.7h0M434.9 269.5h0M476.4 229.0h0M499.2 160.3h0M517.0 299.6h0M424.3 329.8h0M399.9 275.9h0M412.1 420.0h0M418.6 362.7h0M416.1 346.2h0M434.9 256.2h0M476.4 252.9h0M479.7 191.4h0M416.1 275.5h0M402.3 374.5h0M434.9 325.4h0M411.3 290.8h0M397.4 310.2h0M415.3 349.2h0M415.3 408.1h0M408.0 335.4h0M434.9 356.4h0M497.6 199.1h0M364.8 460.6h0M380.3 448.8h0M394.2 448.3h0M435.7 296.1h0M404.7 422.7h0M425.9 295.9h0M450.3 298.4h0M421.8 397.2h0M415.3 334.6h0M412.1 227.7h0M412.1 381.3h0M435.7 247.6h0M425.1 390.2h0M420.2 312.8h0M364.0 446.7h0M370.5 411.5h0M409.6 383.1h0M438.1 279.9h0M381.1 432.0h0M373.0 459.0h0M413.7 378.4h0M434.9 211.6h0M363.2 454.0h0M445.5 251.8h0M397.4 358.5h0M457.7 260.8h0M495.1 210.9h0M482.1 183.5h0M449.5 305.5h0M368.9 433.1h0M439.8 334.7h0M396.6 239.7h0M397.4 412.4h0M410.4 386.9h0M411.3 373.3h0M379.5 433.4h0M405.6 377.0h0M386.0 430.1h0M415.3 356.1h0M400.7 408.4h0M415.3 371.0h0M393.3 323.3h0M405.6 283.9h0M452.0 266.2h0M478.9 198.7h0M351.0 468.6h0M370.5 426.7h0M377.9 386.7h0M410.4 413.7h0M463.4 257.6h0M353.4 469.6h0M438.1 289.5h0M375.4 434.8h0M344.5 478.0h0"/>
<path stroke="#F8766D" d="M424.3 230.9h0M401.5 288.1h0M425.9 345.3h0M412.9 251.7h0M341.2 447.4h0M452.8 178.9h0M354.2 420.3h0M414.5 199.5h0M403.1 309.3h0M422.7 343.9h0M393.3 291.4h0M391.7 371.6h0M368.9 398.7h0M353.4 429.3h0M439.8 208.6h0M382.8 395.1h0M386.0 369.6h0M434.9 218.9h0M409.6 274.1h0M394.2 309.7h0M338.8 453.4h0M451.2 164.2h0M478.0 217.1h0M398.2 352.3h0M346.9 421.1h0M412.1 321.6h0M377.1 398.2h0M338.8 460.9h0M402.3 317.6h0M369.7 408.2h0M415.3 260.1h0M351.0 445.9h0M352.6 446.0h0M388.5 390.7h0M340.4 456.8h0M361.6 423.5h0M369.7 400.1h0M434.9 167.7h0M438.9 239.0h0M331.4 474.3h0M343.7 454.6h0M402.3 394.3h0M333.9 473.7h0M333.9 479.6h0M453.6 194.6h0M394.2 305.8h0M357.5 441.8h0M400.7 378.0h0M341.2 471.6h0M338.0 456.8h0M346.9 466.3h0M395.8 394.8h0M435.7 140.3h0M400.7 350.7h0M413.7 336.0h0"/>
<path stroke="#A58AFF" d="M468.3 207.0h0M419.4 373.6h0M423.5 300.7h0M493.5 161.2h0M474.8 255.6h0M434.1 243.4h0M434.9 405.7h0M510.6 209.0h0M398.2 444.7h0M485.4 226.3h0M442.2 322.9h0M421.8 402.2h0M437.3 382.6h0M495.1 190.7h0M403.1 409.7h0M410.4 325.0h0M434.1 379.3h0M439.8 322.8h0M411.3 417.4h0M406.4 404.2h0M483.7 169.0h0M434.9 222.5h0M485.4 266.8h0M477.2 206.1h0M443.0 298.1h0M424.3 428.0h0M475.6 187.6h0M435.7 374.2h0M451.2 337.6h0M477.2 247.2h0M452.8 268.8h0M438.1 270.1h0M399.0 336.5h0M494.3 190.1h0M416.1 391.4h0M478.9 254.5h0M434.9 257.2h0M485.4 179.4h0M348.5 452.2h0M396.6 454.2h0M489.4 188.3h0M434.9 358.9h0M499.2 164.5h0M437.3 265.2h0M425.1 345.8h0M453.6 282.0h0M434.9 368.0h0M439.8 364.3h0M475.6 280.8h0M436.5 240.3h0M499.2 176.2h0M448.7 271.7h0M449.5 263.3h0M373.0 456.9h0M505.7 178.4h0M502.5 213.3h0M477.2 236.2h0M403.1 362.7h0M359.9 441.6h0M369.7 465.7h0M378.7 449.0h0M436.5 256.6h0M477.2 170.4h0M411.3 403.3h0M418.6 336.0h0M491.1 174.3h0M415.3 345.1h0M388.5 422.0h0M417.8 387.5h0M498.4 199.9h0M396.6 437.5h0M521.2 249.9h0M372.2 452.7h0M395.8 346.7h0M441.4 314.5h0M406.4 389.0h0M361.6 456.2h0M352.6 457.2h0M403.1 424.6h0M352.6 474.8h0M356.7 470.7h0M496.0 251.1h0M395.0 402.2h0"/>
<path stroke="#00B6EB" d="M434.1 229.8h0M426.7 362.5h0M421.0 290.0h0M373.8 467.6h0M457.7 302.2h0M444.6 320.7h0M452.8 375.2h0M424.3 382.8h0M447.1 194.6h0M456.0 290.3h0M448.7 275.0h0M474.8 226.0h0M423.5 342.3h0M439.8 248.3h0M478.9 179.5h0M420.2 376.2h0M447.1 283.6h0M453.6 291.0h0M397.4 447.6h0M378.7 447.4h0M407.2 380.4h0M441.4 185.3h0M420.2 391.6h0M440.6 331.4h0M455.2 262.3h0M441.4 328.2h0M493.5 171.8h0M434.1 353.9h0M475.6 196.0h0M414.5 383.9h0M484.6 246.3h0M455.2 186.9h0M380.3 439.3h0M414.5 389.9h0M458.5 191.5h0M465.0 287.9h0M482.9 233.6h0M452.8 284.4h0M434.9 399.2h0M492.7 253.9h0M476.4 214.6h0M419.4 394.3h0M443.8 373.0h0M452.0 350.3h0M415.3 307.9h0M404.7 364.7h0M483.7 267.3h0M481.3 145.4h0M414.5 407.9h0M478.0 185.2h0M479.7 170.8h0M491.9 186.4h0M421.0 317.1h0M391.7 419.2h0M478.9 162.5h0M435.7 221.2h0M413.7 280.6h0M421.0 381.3h0M476.4 206.1h0M404.7 409.5h0M452.0 272.0h0M477.2 290.7h0M435.7 307.2h0M492.7 171.8h0M440.6 342.4h0M389.3 437.1h0M406.4 333.6h0M452.0 218.0h0M406.4 396.0h0M399.9 431.8h0M434.9 288.4h0M411.3 402.3h0M489.4 149.0h0M556.4 338.6h0M409.6 365.7h0M498.4 154.7h0M396.6 435.9h0M493.5 205.7h0M498.4 163.1h0M413.7 423.1h0M364.0 460.4h0M417.0 391.1h0M413.7 423.0h0M358.3 442.3h0M410.4 328.9h0M452.0 204.6h0M413.7 340.4h0M416.1 333.6h0M477.2 300.6h0M411.3 428.0h0M435.7 211.8h0M425.1 367.3h0M456.0 346.2h0M401.5 324.1h0M409.6 359.3h0M452.0 265.2h0M479.7 138.5h0M422.7 369.2h0M411.3 356.2h0M438.9 243.8h0M380.3 435.3h0M435.7 244.4h0M457.7 183.1h0M361.6 465.7h0M394.2 351.9h0M452.0 247.5h0M385.2 410.3h0M475.6 228.8h0M375.4 459.6h0M413.7 290.7h0M492.7 197.9h0M395.8 405.0h0M353.4 473.7h0M353.4 473.4h0M397.4 431.4h0M407.2 434.1h0M412.9 312.1h0M387.6 427.0h0M395.8 408.5h0M395.0 443.9h0M453.6 265.4h0"/>
<path stroke="#C49A00" d="M428.4 364.1h0M559.9 292.7h0M439.8 185.6h0M476.4 139.2h0M359.9 413.1h0M434.1 241.9h0M395.8 263.1h0M417.0 265.5h0M347.7 431.5h0M415.3 159.5h0M453.6 221.3h0M442.2 167.7h0M399.0 301.6h0M396.6 219.6h0M362.4 437.7h0M441.4 213.9h0M437.3 183.0h0M416.1 289.4h0M452.0 355.2h0M392.5 376.4h0M403.1 324.5h0M379.5 363.7h0M437.3 137.7h0M434.1 234.0h0M399.0 377.1h0M352.6 415.2h0M396.6 336.8h0M439.8 288.6h0M452.0 270.5h0M419.4 345.0h0M381.1 400.1h0M399.0 375.6h0M435.7 359.3h0M434.1 208.0h0M417.8 348.3h0M491.9 180.6h0M368.9 457.5h0M398.2 270.8h0M381.1 416.6h0M368.1 459.1h0M414.5 342.7h0M474.8 262.4h0M350.2 447.2h0M450.3 171.4h0M393.3 328.0h0M364.8 442.9h0M438.9 197.7h0M385.2 383.0h0M341.2 464.4h0M452.0 180.8h0M450.3 250.2h0M400.7 222.7h0M450.3 190.1h0M395.0 318.9h0M414.5 310.0h0M412.1 293.3h0M411.3 284.8h0M410.4 393.8h0M357.5 438.3h0M434.9 175.7h0M338.0 463.5h0M394.2 324.4h0M405.6 356.5h0M394.2 377.7h0M398.2 416.6h0M385.2 401.2h0M396.6 381.5h0M375.4 418.6h0M410.4 352.4h0M393.3 348.5h0M396.6 344.3h0M395.0 411.7h0M395.8 414.4h0M359.1 455.0h0M358.3 446.4h0M372.2 457.6h0M411.3 326.4h0M396.6 381.5h0M409.6 335.5h0M353.4 451.1h0M399.0 392.7h0M348.5 468.8h0M373.0 423.1h0M376.2 429.1h0M352.6 463.8h0M435.7 323.5h0M330.6 483.3h0M369.7 456.5h0"/>
<path stroke="#FB61D7" d="M438.9 309.1h0M480.5 344.8h0M499.2 207.1h0M500.0 227.4h0M449.5 305.9h0M428.4 360.6h0M411.3 417.6h0M461.7 334.2h0M494.3 215.9h0M392.5 423.1h0M354.2 477.5h0M360.8 467.3h0M403.1 326.9h0M399.9 427.3h0M438.9 309.6h0M434.9 370.4h0M451.2 174.4h0M388.5 436.6h0M491.9 191.4h0M499.2 158.9h0M438.9 368.0h0M474.8 240.6h0M447.9 354.6h0M412.9 391.2h0M416.1 384.3h0M500.8 156.3h0M399.9 369.2h0M443.8 290.2h0M435.7 372.6h0M498.4 168.0h0M448.7 390.9h0M507.4 138.1h0M371.4 460.8h0M495.1 199.7h0M499.2 233.8h0M339.6 484.4h0M478.9 271.0h0M346.9 480.3h0"/>
<path stroke="#53B400" d="M419.4 205.4h0M478.0 142.6h0M478.0 157.8h0M399.0 328.3h0M405.6 414.9h0M424.3 356.1h0M379.5 396.4h0M399.9 312.4h0M441.4 143.1h0M390.1 436.6h0M425.9 352.5h0M423.5 391.7h0M382.8 437.4h0M438.1 194.9h0M453.6 185.3h0M381.1 427.8h0M389.3 441.1h0M411.3 306.0h0M475.6 198.5h0M345.3 437.0h0M438.1 259.1h0M476.4 187.8h0M417.8 286.3h0M404.7 390.0h0M458.5 276.5h0M409.6 317.2h0M403.1 329.8h0M428.4 341.9h0M409.6 400.8h0M390.1 417.2h0M388.5 365.4h0M363.2 433.3h0M409.6 319.4h0M387.6 354.7h0M405.6 318.1h0M361.6 449.6h0M450.3 240.4h0M402.3 326.1h0M478.0 239.2h0M427.5 358.0h0M452.0 135.5h0M414.5 337.6h0M393.3 263.1h0M410.4 343.5h0M375.4 416.3h0M434.9 277.1h0M463.4 217.4h0M392.5 391.0h0M397.4 337.5h0M457.7 265.1h0M373.8 461.8h0M420.2 319.7h0M372.2 404.9h0M409.6 364.3h0M361.6 450.3h0M429.2 318.0h0M436.5 210.3h0M387.6 430.3h0M438.1 190.6h0M439.8 252.5h0M436.5 276.6h0M421.0 268.9h0M414.5 364.7h0M386.8 360.2h0M426.7 333.9h0M390.9 408.5h0M390.1 401.1h0M397.4 365.5h0M478.9 134.4h0M481.3 137.1h0M420.2 319.7h0M391.7 419.7h0M378.7 407.3h0M434.1 215.3h0M435.7 258.1h0M396.6 396.0h0M434.9 284.9h0M459.3 267.5h0M416.1 336.5h0M390.1 437.3h0M355.1 444.8h0M438.9 302.2h0M395.8 392.0h0M434.1 148.6h0M402.3 372.2h0M385.2 426.4h0M393.3 434.7h0M435.7 338.5h0M370.5 432.2h0M356.7 463.2h0M375.4 455.9h0M410.4 322.6h0M370.5 405.8h0"/>
<path stroke="#FB61D7" d="M509.8 221.8h0M414.5 449.6h0M496.0 155.7h0M402.3 448.7h0M441.4 326.1h0M375.4 463.6h0M487.0 281.6h0M404.7 437.6h0M512.2 142.0h0M471.5 309.3h0M361.6 438.8h0M421.0 413.8h0M464.2 283.8h0M373.8 466.2h0M496.8 134.6h0M509.0 217.9h0M496.8 162.4h0M509.0 189.5h0M424.3 401.7h0M475.6 194.5h0M482.9 276.5h0M475.6 277.7h0M452.8 201.5h0M475.6 221.2h0M451.2 323.5h0M478.0 199.2h0M493.5 189.5h0M438.9 364.2h0M389.3 446.1h0M451.2 194.7h0M439.8 399.4h0M425.1 375.2h0M451.2 341.7h0M386.0 448.6h0M444.6 379.3h0M486.2 198.4h0M438.1 370.6h0M464.2 381.6h0M519.6 155.0h0M396.6 430.8h0M499.2 277.2h0M468.3 266.8h0M494.3 165.4h0M440.6 354.0h0M393.3 392.8h0M491.1 159.5h0"/>
<path stroke="#53B400" d="M375.4 394.5h0M456.0 212.3h0M392.5 454.9h0M455.2 139.3h0M426.7 196.6h0M436.5 209.0h0M480.5 210.7h0M469.9 257.8h0M398.2 314.4h0M451.2 310.2h0M434.1 379.0h0M420.2 310.8h0M427.5 288.7h0M447.9 202.0h0M469.9 256.5h0M420.2 312.0h0M436.5 228.0h0M448.7 166.3h0M399.0 319.5h0M435.7 262.0h0M479.7 146.2h0M437.3 209.8h0M438.1 249.2h0M396.6 323.2h0M412.9 248.2h0M423.5 325.7h0M456.0 300.0h0M397.4 337.1h0M376.2 407.4h0M417.8 338.3h0M369.7 394.1h0M409.6 406.6h0M450.3 169.1h0M389.3 394.8h0M414.5 315.9h0M395.0 335.9h0M416.1 338.1h0M436.5 181.1h0M410.4 319.2h0M387.6 429.4h0M377.9 450.0h0M435.7 238.2h0M390.1 407.6h0M444.6 291.0h0M391.7 378.3h0M374.6 392.4h0M393.3 447.3h0M439.8 278.0h0M453.6 204.4h0M434.1 260.2h0M406.4 388.7h0M399.0 189.9h0M407.2 307.2h0M397.4 408.7h0M359.9 454.3h0M413.7 366.1h0M436.5 329.0h0M434.9 332.2h0M435.7 190.5h0M374.6 427.0h0M373.0 429.4h0M394.2 362.3h0M415.3 374.0h0M410.4 348.4h0M385.2 407.6h0M399.9 370.3h0M386.8 382.5h0M386.0 388.4h0M353.4 437.7h0M369.7 448.3h0M376.2 438.4h0M387.6 396.8h0M434.1 312.1h0M369.7 428.3h0M435.7 195.7h0M414.5 349.2h0M339.6 481.8h0M340.4 480.6h0M395.8 350.1h0M417.0 332.0h0M393.3 386.2h0M456.9 303.5h0"/>
<path stroke="#00C094" d="M425.1 419.6h0M496.0 179.5h0M417.8 396.0h0M466.6 160.4h0M404.7 345.0h0M441.4 203.4h0M450.3 239.1h0M410.4 273.9h0M434.1 392.2h0M420.2 374.1h0M407.2 337.7h0M490.3 197.5h0M491.9 177.4h0M421.8 382.4h0M451.2 148.7h0M402.3 416.4h0M428.4 364.4h0M439.8 247.2h0M504.9 164.2h0M478.0 176.4h0M438.1 319.2h0M450.3 256.1h0M368.9 416.4h0M396.6 318.6h0M404.7 348.4h0M491.9 186.2h0M411.3 294.5h0M434.9 167.2h0M442.2 300.5h0M434.1 190.7h0M434.9 168.6h0M407.2 409.8h0M479.7 213.1h0M422.7 379.6h0M451.2 197.5h0M382.8 395.9h0M410.4 281.7h0M399.0 339.6h0M478.0 304.9h0M412.1 422.1h0M395.0 330.4h0M475.6 144.9h0M410.4 410.5h0M416.1 402.5h0M406.4 363.7h0M447.1 201.7h0M406.4 357.8h0M450.3 154.5h0M419.4 342.5h0M435.7 257.6h0M425.9 318.1h0M407.2 352.3h0M406.4 420.6h0M399.9 421.2h0M500.8 144.4h0M437.3 333.3h0M435.7 338.3h0M419.4 337.1h0M412.9 401.2h0M381.1 396.9h0M396.6 433.3h0M399.0 340.4h0M421.0 383.7h0M409.6 322.8h0M468.3 248.7h0M453.6 257.1h0M437.3 264.7h0M412.1 395.8h0M410.4 340.7h0M395.0 334.3h0M352.6 443.8h0M410.4 363.2h0M398.2 306.1h0M476.4 135.8h0M382.8 429.6h0M390.9 441.8h0M436.5 350.3h0M480.5 169.1h0M413.7 282.9h0M438.1 203.0h0M388.5 426.2h0M416.1 346.4h0M436.5 319.3h0M451.2 300.3h0M410.4 382.0h0M418.6 327.4h0M439.8 340.3h0M396.6 428.0h0M373.0 440.5h0M386.8 422.9h0M410.4 404.9h0M394.2 339.3h0M514.6 341.9h0M412.9 388.3h0M435.7 302.0h0M416.1 348.0h0M348.5 456.7h0M445.5 244.2h0M436.5 136.4h0M396.6 397.3h0M381.1 418.1h0M360.8 450.9h0M474.8 172.5h0M374.6 443.8h0M370.5 436.9h0M368.1 441.7h0M395.0 382.9h0M443.0 323.0h0M475.6 238.5h0M377.1 452.6h0M332.3 481.7h0M409.6 406.5h0M373.8 432.1h0M349.4 469.0h0M410.4 308.6h0M340.4 477.6h0"/>
<path stroke="#C49A00" d="M425.1 273.1h0M381.1 395.1h0M427.5 232.8h0M453.6 190.6h0M446.3 290.6h0M436.5 160.4h0M408.0 346.3h0M461.7 226.7h0M415.3 267.6h0M397.4 311.9h0M421.8 293.1h0M452.0 228.8h0M365.7 404.6h0M430.0 294.6h0M390.9 366.5h0M511.4 291.8h0M452.8 208.5h0M398.2 291.0h0M479.7 167.3h0M362.4 440.8h0M388.5 380.7h0M494.3 318.7h0M417.8 312.2h0M436.5 229.7h0M438.1 209.9h0M451.2 187.0h0M449.5 150.5h0M420.2 275.0h0M434.9 185.9h0M434.9 269.3h0M369.7 390.6h0M411.3 219.4h0M420.2 332.4h0M421.0 329.0h0M396.6 343.5h0M412.1 283.6h0M434.1 301.8h0M395.0 308.3h0M353.4 436.0h0M488.9 294.8h0M414.5 343.6h0M434.1 242.0h0M379.5 414.7h0M425.1 244.8h0M392.5 396.0h0M439.8 228.8h0M410.4 337.3h0M402.3 370.5h0M353.4 435.0h0M412.1 371.7h0M382.8 424.0h0M378.7 434.6h0M458.5 222.8h0M364.8 435.1h0M434.9 375.5h0M434.1 325.2h0M373.0 409.3h0M452.0 193.2h0M449.5 184.2h0M419.4 325.8h0M399.9 390.3h0M371.4 416.2h0M376.2 399.3h0M409.6 268.4h0M389.3 398.8h0M369.7 405.1h0M435.7 238.9h0M413.7 164.4h0M400.7 381.0h0M371.4 395.8h0M372.2 432.6h0M435.7 196.6h0M392.5 412.2h0M438.9 241.7h0M374.6 392.8h0M373.8 419.1h0M437.3 325.8h0M370.5 412.7h0M353.4 449.9h0M352.6 439.1h0M355.1 429.4h0M398.2 331.5h0M355.1 453.9h0M411.3 310.1h0M385.2 384.8h0M356.7 463.6h0M344.5 471.2h0M330.6 483.6h0M350.2 465.2h0"/>
<path stroke="#A58AFF" d="M494.3 186.3h0M465.8 322.6h0M520.4 173.5h0M482.1 218.8h0M414.5 263.4h0M434.9 208.2h0M417.8 382.0h0M440.6 250.9h0M497.6 156.9h0M492.7 151.8h0M482.9 253.0h0M465.8 319.5h0M478.9 189.0h0M427.5 414.3h0M477.2 277.0h0M394.2 451.3h0M479.7 207.4h0M456.9 269.4h0M447.9 310.4h0M478.0 178.8h0M491.1 190.1h0M438.9 255.0h0M447.1 298.9h0M483.7 233.1h0M420.2 414.3h0M443.8 354.6h0M482.1 248.2h0M416.1 422.2h0M414.5 309.6h0M455.2 281.6h0M477.2 353.3h0M436.5 380.5h0M423.5 306.1h0M455.2 298.8h0M520.4 145.4h0M413.7 321.9h0M380.3 444.5h0M403.1 428.0h0M477.2 147.8h0M443.8 222.9h0M428.4 368.5h0M437.3 278.0h0M435.7 278.8h0M434.9 342.9h0M434.1 338.8h0M492.7 181.0h0M496.0 199.6h0M487.8 225.5h0M493.5 162.8h0M403.1 404.1h0M498.4 160.7h0M434.9 304.6h0M453.6 356.0h0M411.3 442.3h0M483.7 252.1h0M475.6 259.0h0M434.1 300.9h0M411.3 341.9h0M477.2 225.1h0M411.3 354.3h0M434.1 294.3h0M386.0 441.7h0M396.6 416.8h0M418.6 356.5h0M414.5 395.2h0M425.1 408.6h0M415.3 376.6h0M508.2 197.2h0M372.2 457.1h0M388.5 421.5h0M482.1 209.4h0M478.9 249.6h0M396.6 339.8h0M395.0 408.5h0M489.4 195.3h0M364.8 455.4h0M438.9 298.7h0"/>
<path stroke="#00B6EB" d="M425.1 376.6h0M441.4 266.3h0M496.8 150.7h0M410.4 416.3h0M377.9 394.3h0M443.0 318.8h0M408.0 415.4h0M420.2 345.1h0M477.2 219.6h0M419.4 369.5h0M426.7 321.2h0M447.9 313.2h0M482.1 185.6h0M471.5 272.9h0M451.2 319.7h0M443.0 293.4h0M474.0 276.4h0M438.1 379.3h0M477.2 177.6h0M474.8 274.5h0M419.4 377.7h0M447.9 322.4h0M441.4 357.9h0M417.8 398.5h0M450.3 222.7h0M492.7 184.9h0M446.3 329.3h0M443.0 210.7h0M402.3 431.8h0M421.8 374.4h0M475.6 225.6h0M440.6 220.5h0M439.8 373.0h0M406.4 405.4h0M491.9 201.6h0M448.7 362.3h0M453.6 323.1h0M420.2 368.9h0M499.2 219.6h0M478.9 148.3h0M435.7 310.6h0M435.7 283.4h0M364.8 447.7h0M404.7 387.3h0M491.9 237.0h0M435.7 333.0h0M459.3 297.2h0M434.9 299.7h0M425.1 362.9h0M407.2 345.0h0M452.8 253.5h0M403.1 409.8h0M435.7 279.3h0M452.8 334.7h0M377.9 440.8h0M443.0 338.2h0M403.1 362.9h0M474.0 218.7h0M491.9 136.7h0M437.3 300.8h0M428.4 362.3h0M387.6 423.4h0M404.7 372.2h0M448.7 306.2h0M491.9 241.9h0M409.6 339.9h0M410.4 317.0h0M478.0 336.3h0M434.1 236.8h0M417.0 359.9h0M410.4 323.7h0M434.1 380.6h0M476.4 168.3h0M474.8 270.6h0M435.7 346.0h0M375.4 450.2h0M451.2 345.6h0M387.6 449.8h0M369.7 418.2h0M434.9 270.0h0M413.7 381.1h0M447.9 308.7h0M447.9 313.9h0M419.4 363.4h0M476.4 237.9h0M386.0 421.0h0M490.3 147.5h0M397.4 400.8h0M450.3 143.8h0M381.9 444.1h0M372.2 423.2h0M410.4 411.3h0M360.8 459.4h0M456.0 193.4h0M480.5 233.1h0M479.7 228.0h0M409.6 413.4h0M358.3 463.0h0M476.4 229.2h0M409.6 348.5h0M371.4 434.4h0M435.7 346.6h0M410.4 408.3h0M393.3 409.3h0M348.5 459.5h0M350.2 465.7h0M346.1 475.2h0M426.7 361.4h0M494.3 164.6h0"/>
<path stroke="#F8766D" d="M379.5 400.3h0M441.4 206.0h0M394.2 278.3h0M372.2 363.5h0M353.4 426.0h0M406.4 233.9h0M358.3 426.0h0M354.2 425.3h0M349.4 420.2h0M396.6 136.1h0M434.9 217.3h0M389.3 351.9h0M347.7 439.8h0M390.1 406.3h0M351.8 422.9h0M410.4 271.8h0M434.9 171.5h0M376.2 398.7h0M362.4 435.3h0M355.1 422.8h0M370.5 404.9h0M363.2 406.4h0M434.9 176.3h0M410.4 281.0h0M396.6 290.1h0M412.1 198.6h0M409.6 272.0h0M339.6 483.0h0M399.0 406.7h0M412.9 312.4h0M452.0 217.7h0M333.1 476.3h0M415.3 338.5h0M400.7 305.1h0M396.6 331.8h0M402.3 290.1h0M344.5 458.9h0M412.1 244.5h0M385.2 388.9h0M336.3 453.8h0M368.1 404.1h0M368.9 427.2h0M434.9 238.3h0M390.1 389.2h0M386.0 386.7h0M371.4 406.2h0M355.9 449.7h0M345.3 460.1h0M344.5 466.6h0M411.3 380.8h0M396.6 208.1h0M412.1 368.4h0M412.1 260.7h0M350.2 457.6h0"/>
<path stroke="#FB61D7" d="M434.1 427.0h0M525.3 289.8h0M496.0 201.2h0M495.1 258.7h0M476.4 351.3h0M479.7 315.8h0M496.8 189.6h0M419.4 413.1h0M370.5 468.9h0M442.2 345.3h0M480.5 307.9h0M423.5 385.9h0M434.9 389.2h0M438.1 358.7h0M518.8 253.9h0M491.9 164.4h0M515.5 136.3h0M435.7 361.7h0M438.9 368.8h0M515.5 181.4h0M392.5 448.1h0M525.3 193.8h0M495.1 137.7h0M482.1 238.3h0M494.3 135.4h0M496.0 209.3h0M509.8 185.1h0M419.4 345.6h0M408.0 315.3h0M437.3 391.7h0M387.6 457.3h0M492.7 192.1h0M478.0 257.5h0M478.9 227.7h0M434.9 350.9h0M360.8 455.2h0M417.0 360.8h0M450.3 313.0h0M398.2 437.1h0M495.1 210.0h0M493.5 227.9h0M388.5 455.9h0M368.1 466.2h0M454.4 338.1h0M513.1 181.7h0M456.0 319.5h0M454.4 303.5h0M425.9 385.2h0M412.9 405.5h0M482.9 272.9h0M475.6 277.7h0M369.7 459.7h0M371.4 466.3h0M399.0 408.1h0M513.9 152.2h0"/>
<path stroke="#53B400" d="M388.5 373.7h0M478.9 175.4h0M381.1 448.2h0M453.6 174.4h0M369.7 380.0h0M395.0 265.3h0M363.2 466.0h0M434.9 277.4h0M426.7 360.1h0M434.9 223.7h0M438.1 232.0h0M456.9 236.8h0M395.8 194.6h0M447.9 147.4h0M422.7 314.4h0M434.9 357.4h0M439.8 315.1h0M361.6 432.7h0M448.7 245.3h0M420.2 363.3h0M359.1 428.5h0M417.8 291.6h0M445.5 143.8h0M406.4 345.0h0M446.3 275.0h0M436.5 166.8h0M424.3 345.2h0M478.0 260.6h0M407.2 342.3h0M341.2 450.6h0M421.0 360.9h0M377.9 398.8h0M447.9 217.5h0M369.7 401.0h0M425.9 330.1h0M476.4 139.8h0M454.4 282.7h0M438.1 354.1h0M404.7 352.8h0M395.8 294.4h0M387.6 370.0h0M421.8 328.0h0M417.8 282.5h0M434.9 336.9h0M408.8 368.6h0M407.2 406.9h0M407.2 341.7h0M424.3 407.6h0M473.2 289.4h0M413.7 276.8h0M474.8 165.3h0M415.3 350.4h0M476.4 169.4h0M436.5 258.6h0M403.1 342.4h0M377.1 418.8h0M377.9 424.2h0M390.1 416.4h0M415.3 357.9h0M439.8 175.0h0M434.1 308.4h0M434.9 269.4h0M453.6 232.9h0M439.8 152.5h0M450.3 293.7h0M435.7 283.0h0M447.9 329.3h0M428.4 301.6h0M394.2 301.2h0M456.9 289.4h0M397.4 383.8h0M434.9 260.0h0M387.6 388.0h0M445.5 284.1h0M416.1 246.7h0M394.2 332.2h0M400.7 396.0h0M407.2 329.3h0M408.8 371.4h0M424.3 374.8h0M466.6 288.1h0M456.0 270.3h0M438.9 229.9h0M390.1 403.9h0M343.7 464.4h0M378.7 427.4h0M435.7 218.9h0M339.6 461.9h0M396.6 399.6h0M372.2 422.5h0M399.0 372.4h0M353.4 453.1h0M397.4 388.7h0M393.3 368.0h0M372.2 443.2h0M395.0 416.0h0M360.8 467.5h0M395.8 352.7h0M456.0 300.5h0M341.2 476.2h0M373.8 413.1h0M355.1 441.5h0M399.9 371.3h0M395.0 334.1h0M395.0 359.7h0M359.9 459.3h0M407.2 376.4h0M377.1 424.2h0M418.6 392.7h0"/>
<path stroke="#00C094" d="M491.9 180.5h0M487.3 364.0h0M495.1 158.7h0M400.7 322.6h0M344.5 452.5h0M477.2 152.8h0M442.2 258.7h0M476.4 137.5h0M478.9 169.0h0M417.0 294.3h0M451.2 191.6h0M404.7 337.5h0M421.0 412.0h0M424.3 305.2h0M416.1 295.6h0M417.8 312.2h0M477.2 207.7h0M438.9 394.4h0M478.0 232.9h0M478.9 264.2h0M436.5 223.8h0M435.7 159.2h0M441.4 347.1h0M406.4 407.8h0M443.8 316.6h0M422.7 277.7h0M447.1 294.8h0M475.6 257.9h0M412.1 255.3h0M449.5 227.8h0M459.3 149.1h0M435.7 382.2h0M480.5 210.0h0M402.3 428.5h0M398.2 440.9h0M443.8 261.8h0M434.9 205.3h0M439.8 341.2h0M476.4 200.0h0M420.2 302.8h0M438.9 369.0h0M475.6 243.2h0M448.7 285.0h0M410.4 291.9h0M410.4 330.7h0M363.2 431.0h0M352.6 424.0h0M435.7 235.9h0M424.3 327.9h0M437.3 328.9h0M415.3 331.6h0M379.5 414.5h0M437.3 216.2h0M436.5 298.3h0M477.2 230.7h0M436.5 354.5h0M412.9 423.8h0M447.9 323.1h0M436.5 231.2h0M420.2 322.7h0M451.2 322.6h0M395.8 332.1h0M437.3 309.8h0M403.9 432.0h0M436.5 285.1h0M491.1 156.2h0M442.2 341.1h0M379.5 440.5h0M447.9 189.0h0M419.4 329.8h0M435.7 212.7h0M355.1 434.1h0M410.4 303.5h0M449.5 341.6h0M481.3 244.9h0M421.0 297.2h0M452.0 223.3h0M377.9 456.8h0M453.6 244.2h0M468.3 187.0h0M399.9 372.7h0M450.3 264.1h0M389.3 376.7h0M411.3 346.8h0M409.6 382.1h0M402.3 363.5h0M363.2 458.4h0M415.3 342.5h0M428.4 395.4h0M397.4 347.8h0M353.4 438.3h0M394.2 359.4h0M412.1 349.0h0M403.1 407.8h0M437.3 335.5h0M478.9 175.6h0M414.5 356.3h0M391.7 400.9h0M464.2 218.9h0M415.3 357.1h0M403.1 350.7h0M388.5 450.2h0M397.4 360.9h0M384.4 446.4h0M393.3 430.2h0M420.2 380.9h0M410.4 285.5h0M413.7 372.9h0M440.6 294.7h0M452.0 280.9h0M417.0 306.3h0M399.9 392.6h0M372.2 418.3h0M412.9 390.7h0M454.4 315.6h0M434.9 404.8h0M480.5 163.0h0M374.6 409.1h0M389.3 407.4h0M475.6 196.9h0M440.6 281.9h0M411.3 365.7h0M399.0 320.4h0M361.6 462.1h0M420.2 341.1h0M410.4 371.5h0M401.5 359.8h0M452.0 228.5h0M438.1 276.0h0M355.9 468.6h0M412.1 392.1h0M370.5 440.3h0M368.9 446.8h0M373.8 444.1h0M369.7 451.3h0M369.7 450.2h0M478.9 214.0h0M403.1 340.1h0M343.7 477.0h0M393.3 413.3h0M346.9 470.1h0"/>
<path stroke="#A58AFF" d="M444.6 374.5h0M422.7 394.3h0M408.0 349.9h0M451.2 364.8h0M473.2 275.8h0M412.1 236.4h0M493.5 179.1h0M498.4 150.0h0M408.8 420.3h0M492.7 156.1h0M417.0 424.8h0M438.9 341.7h0M423.5 370.3h0M423.5 338.9h0M483.0 332.6h0M493.5 215.8h0M405.6 435.2h0M496.8 135.6h0M438.9 307.7h0M395.0 296.1h0M420.2 394.1h0M448.7 345.0h0M452.8 344.0h0M452.8 277.8h0M434.9 272.6h0M455.2 305.7h0M413.7 428.4h0M476.4 281.1h0M412.1 414.5h0M380.3 419.9h0M439.8 389.0h0M427.5 381.0h0M478.0 341.7h0M492.7 211.2h0M434.1 375.0h0M436.5 364.2h0M512.2 139.7h0M492.7 135.3h0M462.6 335.0h0M449.5 288.0h0M451.2 304.3h0M452.0 343.9h0M501.7 192.0h0M491.9 147.1h0M430.8 300.7h0M411.3 357.7h0M475.6 254.5h0M406.4 303.4h0M435.7 322.7h0M390.9 439.7h0M370.5 463.4h0M456.9 268.4h0M410.4 399.2h0M476.4 238.1h0M387.6 425.1h0M397.4 439.3h0M379.5 437.1h0M377.9 419.7h0M412.1 340.8h0M411.3 394.9h0M381.1 431.7h0M451.2 303.6h0M396.6 420.2h0M483.7 228.9h0M409.6 387.9h0M475.6 260.6h0M434.9 260.2h0M428.4 354.3h0M434.1 353.9h0M475.6 167.7h0M427.5 410.9h0M412.1 401.7h0M370.5 457.7h0M412.1 347.5h0M490.3 212.3h0M410.4 408.7h0M367.3 459.6h0M375.4 458.6h0M360.8 471.4h0M411.3 376.5h0M345.3 480.5h0M385.2 448.0h0M396.6 400.4h0M400.7 405.2h0M386.8 394.2h0M478.0 187.4h0M421.0 411.3h0M413.7 378.5h0M394.2 428.4h0M465.8 287.2h0M408.8 364.9h0M491.1 143.7h0M394.2 432.4h0M452.8 341.9h0M404.7 372.6h0M355.1 472.4h0M494.3 255.0h0M451.2 261.6h0"/>
<path stroke="#00B6EB" d="M483.7 214.6h0M477.2 274.0h0M475.6 164.0h0M482.1 243.7h0M441.4 253.2h0M480.5 218.4h0M418.6 401.2h0M425.9 357.6h0M395.0 451.8h0M399.9 449.2h0M482.9 226.4h0M418.6 405.5h0M434.9 319.2h0M410.4 296.5h0M443.0 291.0h0M452.8 333.9h0M493.4 365.7h0M475.6 310.8h0M488.6 176.4h0M452.8 346.4h0M421.0 415.1h0M492.7 251.5h0M407.2 367.5h0M473.2 229.5h0M493.5 183.3h0M427.5 326.8h0M434.1 391.2h0M400.7 446.6h0M477.2 265.8h0M438.1 246.0h0M416.1 329.0h0M451.2 211.7h0M481.3 219.9h0M491.1 275.7h0M438.1 355.5h0M425.1 308.8h0M439.8 256.7h0M438.1 324.8h0M419.4 398.1h0M449.5 201.0h0M373.0 407.6h0M451.2 222.1h0M575.6 257.6h0M493.5 138.5h0M418.6 383.9h0M484.6 197.9h0M478.9 223.1h0M380.3 419.5h0M434.1 353.8h0M427.5 332.4h0M496.0 251.3h0M491.9 167.0h0M360.8 449.7h0M396.6 439.9h0M424.3 347.7h0M415.3 344.2h0M412.9 430.0h0M407.2 320.6h0M382.8 427.1h0M417.8 330.6h0M451.2 245.4h0M492.7 154.7h0M415.3 396.1h0M412.9 319.5h0M381.9 447.2h0M409.6 384.3h0M409.6 378.8h0M450.3 266.0h0M410.4 340.9h0M435.7 395.4h0M406.4 387.1h0M456.0 329.5h0M404.7 407.7h0M434.9 289.7h0M425.1 376.9h0M371.4 467.1h0M423.5 351.9h0M378.7 408.8h0M421.8 369.2h0M448.7 288.5h0M476.4 229.0h0M390.9 407.4h0M491.9 173.3h0M412.9 372.4h0M402.3 389.1h0M425.1 408.0h0M478.0 263.2h0M409.6 296.1h0M402.3 437.2h0M434.9 297.1h0M405.6 371.1h0M491.9 172.0h0M436.5 181.1h0M387.6 421.9h0M436.5 324.3h0M383.6 442.8h0M477.2 236.5h0M393.3 358.6h0M390.9 404.0h0M393.3 429.1h0M430.0 321.4h0M394.2 382.1h0M474.8 240.3h0M434.9 262.8h0M396.6 390.4h0M400.7 403.9h0M394.2 409.4h0M393.3 432.9h0M434.9 263.1h0M348.5 469.5h0M380.3 428.1h0M387.6 415.7h0M397.4 426.4h0M478.9 193.5h0M435.7 366.3h0M393.3 339.4h0M343.7 471.6h0M420.2 368.8h0"/>
<path stroke="#F8766D" d="M411.3 250.5h0M395.8 219.3h0M346.9 446.6h0M454.4 144.6h0M476.4 160.7h0M457.7 175.5h0M434.1 189.2h0M460.9 139.7h0M386.0 363.5h0M418.6 306.7h0M440.6 244.7h0M365.7 438.9h0M351.8 429.8h0M469.1 161.0h0M368.9 404.1h0M377.9 412.7h0M415.3 180.4h0M360.8 431.4h0M417.0 293.3h0M447.9 310.5h0M354.2 430.3h0M355.1 391.0h0M355.1 416.3h0M346.1 428.0h0M355.1 418.5h0M439.8 220.5h0M435.7 259.9h0M440.6 201.0h0M410.4 363.4h0M381.9 411.6h0M369.7 393.3h0M403.1 357.8h0M370.5 409.1h0M441.4 203.3h0M379.5 410.4h0M355.1 409.9h0M418.6 348.9h0M349.4 452.3h0M386.0 389.1h0M435.7 209.8h0M338.0 450.9h0M386.8 377.1h0M410.4 248.0h0M393.3 366.7h0M396.6 387.9h0M395.0 346.1h0M395.0 321.2h0M340.4 474.4h0M345.3 464.0h0M350.2 468.9h0"/>
<path stroke="#C49A00" d="M408.8 416.7h0M454.4 193.0h0M397.4 290.9h0M415.3 198.7h0M417.0 212.4h0M397.4 304.3h0M417.0 275.1h0M428.4 322.8h0M437.3 224.2h0M377.1 391.1h0M397.4 297.6h0M397.4 321.2h0M421.0 219.5h0M421.8 305.4h0M416.1 295.6h0M438.1 208.4h0M434.9 236.0h0M446.3 190.3h0M410.4 179.9h0M420.2 301.5h0M409.6 302.0h0M394.2 259.9h0M414.5 322.9h0M437.3 232.1h0M408.0 335.6h0M359.9 420.8h0M420.2 324.4h0M341.2 453.6h0M410.4 255.4h0M435.7 250.0h0M363.2 441.3h0M414.5 323.7h0M376.2 414.6h0M398.2 228.1h0M417.8 226.4h0M414.5 315.1h0M436.5 224.7h0M360.8 437.9h0M410.4 310.6h0M444.6 328.6h0M377.1 451.8h0M437.3 244.6h0M423.5 314.4h0M412.9 320.3h0M413.7 297.2h0M398.2 335.6h0M357.5 471.9h0M386.0 350.4h0M418.6 218.9h0M393.3 291.7h0M434.9 283.5h0M345.3 447.9h0M360.8 438.0h0M378.7 402.4h0M381.1 389.6h0M409.6 270.9h0M405.6 397.5h0M412.1 320.5h0M444.6 289.4h0M403.9 393.2h0M414.5 316.9h0M395.8 336.4h0M344.5 455.7h0M358.3 437.1h0M408.8 370.1h0M403.1 366.9h0M402.3 331.8h0M414.5 305.9h0M386.8 407.6h0M394.2 325.9h0M368.1 426.2h0M412.9 284.4h0M412.9 373.9h0M394.2 254.3h0M393.3 347.6h0M452.0 280.5h0M426.7 349.4h0M355.1 448.2h0M387.6 399.9h0M427.5 316.8h0M346.1 458.6h0M359.9 444.9h0M411.3 301.5h0M373.8 429.7h0M355.9 458.1h0M410.4 307.1h0M352.6 447.2h0M373.0 437.5h0M353.4 444.5h0M364.8 449.3h0"/>
<path stroke="#00B6EB" d="M414.5 296.7h0M447.1 304.2h0M429.2 330.4h0M453.6 328.7h0M445.5 341.4h0M460.1 174.4h0M425.9 362.7h0M478.0 139.8h0M451.2 348.4h0M425.1 387.6h0M494.3 217.8h0M419.4 405.4h0M441.4 287.2h0M455.2 333.9h0M475.6 317.3h0M419.4 266.1h0M442.2 285.2h0M435.7 373.0h0M442.2 279.9h0M478.9 302.0h0M449.5 286.7h0M446.3 344.9h0M446.3 332.6h0M493.5 188.8h0M451.2 374.9h0M478.9 265.9h0M434.1 363.9h0M436.5 331.1h0M438.9 308.9h0M386.8 375.0h0M483.7 251.7h0M397.4 445.1h0M405.6 413.4h0M436.5 221.9h0M402.3 375.7h0M415.3 327.2h0M394.2 311.6h0M453.6 303.5h0M418.6 302.3h0M417.0 327.6h0M421.8 358.6h0M491.1 182.7h0M463.4 357.2h0M440.6 327.9h0M439.8 276.0h0M403.1 348.8h0M434.9 415.5h0M489.4 213.9h0M434.9 259.3h0M491.9 234.5h0M474.8 261.8h0M440.6 265.7h0M493.5 171.5h0M435.7 348.1h0M399.0 440.6h0M423.5 332.0h0M411.3 409.6h0M435.7 268.8h0M456.9 290.9h0M388.5 432.8h0M442.2 249.3h0M419.4 312.2h0M395.0 454.2h0M387.6 443.1h0M434.9 238.0h0M434.9 253.5h0M397.4 352.1h0M415.3 372.7h0M364.0 461.4h0M451.2 245.3h0M411.3 355.3h0M414.5 350.0h0M400.7 387.7h0M411.3 350.7h0M390.9 430.1h0M435.7 391.8h0M385.2 443.6h0M365.7 446.1h0M474.8 152.6h0M416.1 391.3h0M437.3 350.9h0M420.2 390.7h0M399.0 385.6h0M417.0 390.9h0M434.9 265.2h0M411.3 385.0h0M448.7 220.1h0M417.0 374.4h0M438.1 319.1h0M398.2 418.5h0M409.6 359.4h0M412.1 384.8h0M494.3 144.0h0M437.3 339.8h0M452.8 245.0h0M398.2 348.3h0M451.2 357.2h0M410.4 258.8h0M445.5 348.3h0M396.6 438.7h0M438.1 324.2h0M393.3 423.8h0M402.3 358.2h0M399.9 433.1h0M395.8 382.1h0M493.5 171.1h0M402.3 375.9h0M477.2 275.8h0M346.9 470.1h0M347.7 474.5h0M454.4 197.4h0M359.9 447.2h0M401.5 366.7h0"/>
<path stroke="#F8766D" d="M402.3 298.5h0M404.7 284.0h0M407.2 255.8h0M398.2 242.3h0M399.0 313.6h0M374.6 390.1h0M401.5 328.7h0M412.9 260.5h0M393.3 278.6h0M342.0 454.3h0M434.9 163.0h0M353.4 408.1h0M452.0 154.9h0M422.7 342.2h0M393.3 290.7h0M434.1 262.0h0M407.2 366.9h0M399.0 210.0h0M412.9 241.3h0M368.9 410.6h0M413.7 148.5h0M410.4 337.9h0M395.2 189.5h0M393.8 176.0h0M393.3 317.1h0M394.2 283.4h0M400.7 361.8h0M393.3 287.1h0M393.3 281.2h0M446.3 219.3h0M460.1 181.7h0M394.2 335.4h0M397.4 363.1h0M411.3 282.8h0M386.8 370.2h0M409.6 312.9h0M447.9 171.4h0M394.2 334.7h0M411.3 277.6h0M339.6 460.7h0M333.9 471.0h0M386.0 377.6h0M393.3 240.5h0M396.6 405.2h0M396.6 355.2h0M394.2 362.2h0M369.7 389.7h0M588.5 188.0h0M357.5 448.4h0M339.6 471.0h0M359.1 440.3h0M455.2 210.6h0M385.2 381.8h0M416.1 312.0h0M337.1 478.4h0M337.1 472.8h0M399.0 425.4h0"/>
<path stroke="#C49A00" d="M339.6 451.6h0M394.2 271.4h0M377.9 358.9h0M353.4 416.2h0M443.8 164.6h0M352.6 413.7h0M400.7 328.0h0M390.1 369.1h0M371.4 397.4h0M434.9 231.0h0M428.4 142.0h0M438.1 330.3h0M395.0 288.2h0M377.1 408.2h0M333.9 473.2h0M412.9 280.4h0M405.6 305.0h0M435.7 339.2h0M427.5 266.4h0M369.7 400.6h0M435.7 234.0h0M333.9 470.2h0M400.7 320.0h0M382.8 425.3h0M415.3 283.3h0M398.2 303.8h0M407.2 352.6h0M391.7 416.6h0M394.2 334.7h0M403.1 399.6h0M437.3 197.9h0M437.3 206.2h0M399.0 421.3h0M399.0 336.8h0M383.6 409.8h0M390.1 360.2h0M478.0 204.9h0M410.4 340.4h0M435.7 286.0h0M399.0 357.8h0M430.0 289.7h0M411.3 320.8h0M475.6 195.7h0M392.5 381.8h0M383.6 441.2h0M386.8 383.5h0M340.4 463.1h0M338.0 459.4h0M352.6 435.5h0M413.7 321.0h0M375.4 421.6h0M379.5 410.4h0M399.9 221.7h0M368.9 416.6h0M379.5 426.1h0M398.2 283.7h0M345.3 454.4h0M387.6 417.9h0M350.2 449.4h0M448.7 226.9h0M368.9 431.6h0M413.7 403.7h0M394.2 370.8h0M435.7 303.9h0M391.7 392.8h0M384.4 391.0h0M387.6 416.5h0M394.2 423.7h0M395.0 411.2h0M396.6 424.4h0M392.5 398.8h0M395.0 427.8h0M395.0 407.2h0M418.6 279.1h0M388.5 403.9h0M355.9 466.8h0M390.1 425.9h0M374.6 416.9h0M340.4 477.2h0"/>
<path stroke="#FB61D7" d="M489.4 155.2h0M427.5 363.6h0M495.1 139.6h0M496.0 163.8h0M461.7 338.0h0M492.7 223.1h0M508.2 181.6h0M437.3 360.4h0M439.8 319.3h0M477.2 236.6h0M521.2 149.4h0M452.8 366.2h0M452.8 363.5h0M453.6 298.4h0M503.3 180.1h0M403.1 445.1h0M381.1 445.6h0M435.7 339.3h0M428.4 390.5h0M476.4 227.0h0M386.8 457.7h0M440.6 394.2h0M438.1 363.0h0M474.8 253.4h0M487.8 174.3h0M510.6 171.1h0M438.1 344.7h0M487.0 198.1h0M452.0 294.5h0M436.5 348.3h0M446.3 352.0h0M504.1 236.8h0M492.6 288.9h0M455.2 277.4h0M434.9 389.2h0M519.6 153.2h0M496.0 201.0h0M407.2 383.2h0M434.1 348.2h0M452.8 261.3h0M392.5 440.5h0M412.1 352.4h0M499.2 157.2h0M452.8 281.4h0M498.4 247.8h0M404.7 377.4h0M351.0 462.7h0M386.0 457.4h0"/>
<path stroke="#A58AFF" d="M428.4 324.1h0M637.5 187.7h0M501.7 189.0h0M465.0 275.6h0M451.2 340.1h0M395.0 460.9h0M516.3 193.2h0M452.0 259.2h0M438.1 354.2h0M442.2 339.2h0M480.5 281.1h0M376.2 456.4h0M478.9 245.3h0M454.4 313.0h0M479.7 316.6h0M482.9 249.0h0M438.9 294.2h0M453.6 262.1h0M424.3 385.3h0M417.8 388.7h0M488.6 219.6h0M461.7 302.7h0M518.8 148.6h0M539.7 206.0h0M493.5 221.6h0M434.1 343.8h0M476.4 183.1h0M414.5 415.0h0M493.5 257.9h0M414.5 392.0h0M387.6 445.6h0M416.1 431.7h0M429.2 231.6h0M403.9 422.0h0M436.5 313.9h0M439.8 363.0h0M450.3 329.4h0M425.9 329.3h0M460.1 311.4h0M502.5 214.6h0M388.5 435.3h0M405.6 371.9h0M435.7 306.5h0M448.7 259.0h0M413.7 362.0h0M370.5 464.3h0M399.9 324.9h0M416.1 355.9h0M400.7 381.1h0M396.6 352.8h0M494.3 225.0h0M435.7 333.2h0M475.6 192.8h0M412.1 370.9h0M418.6 404.0h0M368.9 458.6h0M437.3 396.1h0M425.1 363.3h0M444.6 330.3h0M411.3 395.1h0M381.9 418.7h0M493.5 222.7h0M435.7 306.2h0M451.2 224.1h0M450.3 245.2h0M400.7 422.0h0M428.4 353.9h0M451.2 262.7h0M394.2 436.6h0M386.0 411.2h0M407.2 427.8h0M385.2 456.9h0M377.9 444.0h0M460.9 232.3h0M397.4 419.3h0M436.5 331.5h0M354.2 470.7h0M438.9 275.0h0M369.7 443.4h0"/>
<path stroke="#00C094" d="M453.6 177.2h0M417.8 387.0h0M493.5 209.9h0M434.9 232.7h0M451.2 214.5h0M482.1 165.8h0M438.9 319.2h0M420.2 294.9h0M478.0 163.1h0M434.9 188.9h0M480.5 168.1h0M418.6 385.8h0M405.6 402.1h0M493.5 180.3h0M428.4 231.7h0M425.9 348.7h0M414.5 310.8h0M476.4 281.6h0M421.8 353.4h0M452.0 272.9h0M496.0 215.9h0M384.4 368.0h0M454.4 324.7h0M474.8 178.9h0M491.9 215.9h0M436.5 378.5h0M436.5 365.4h0M436.5 180.1h0M474.8 203.8h0M478.0 274.6h0M469.9 187.2h0M419.4 407.9h0M356.7 417.5h0M421.0 361.0h0M436.5 253.8h0M435.7 283.3h0M437.3 325.6h0M409.6 306.3h0M434.9 295.3h0M475.6 254.5h0M378.7 420.1h0M357.5 430.8h0M478.0 190.9h0M410.4 298.1h0M439.8 299.7h0M451.2 318.2h0M451.2 304.2h0M475.6 152.6h0M436.5 321.7h0M420.2 302.7h0M443.8 226.6h0M373.0 408.8h0M380.3 438.1h0M421.8 335.5h0M406.4 392.5h0M476.4 358.0h0M475.6 171.4h0M354.2 474.4h0M439.8 246.4h0M421.8 238.4h0M455.2 277.9h0M421.8 278.3h0M395.0 303.4h0M434.1 376.6h0M409.6 399.9h0M409.6 364.1h0M443.8 265.5h0M424.3 341.3h0M412.1 350.8h0M376.2 432.5h0M475.6 189.6h0M399.9 350.7h0M412.9 370.1h0M438.1 273.7h0M401.5 385.5h0M385.2 393.3h0M434.9 280.0h0M413.7 317.1h0M386.8 405.2h0M436.5 340.6h0M496.7 355.5h0M346.9 443.3h0M412.9 345.9h0M395.8 311.9h0M434.9 312.0h0M351.0 456.9h0M434.9 371.1h0M434.9 267.5h0M410.4 357.6h0M472.3 207.0h0M451.2 336.1h0M434.1 169.4h0M404.7 354.9h0M395.0 435.4h0M398.2 402.3h0M369.7 429.8h0M386.8 415.4h0M395.0 457.5h0M399.9 399.7h0M393.3 365.8h0M369.7 418.9h0M394.2 436.2h0M438.1 245.7h0M394.2 373.1h0M475.6 169.1h0M411.3 314.2h0M373.0 437.0h0M386.0 407.0h0M385.2 433.8h0M456.0 339.4h0M396.6 394.3h0M348.5 477.2h0M368.9 439.9h0M385.2 410.2h0M387.6 411.4h0M346.9 470.2h0M368.9 426.6h0M394.2 400.5h0"/>
<path stroke="#53B400" d="M463.4 248.9h0M482.9 166.6h0M452.8 142.6h0M409.6 271.1h0M409.6 251.5h0M413.7 255.7h0M398.2 270.4h0M478.9 168.2h0M418.6 354.1h0M413.7 275.7h0M426.7 346.6h0M423.5 372.2h0M403.1 299.2h0M455.2 327.8h0M390.9 387.9h0M403.1 304.1h0M438.9 276.5h0M422.7 354.1h0M445.5 239.7h0M421.8 366.2h0M435.7 230.9h0M414.5 408.2h0M434.1 371.7h0M438.1 153.8h0M446.3 306.3h0M416.1 297.3h0M422.7 283.1h0M380.3 422.8h0M408.0 332.5h0M387.6 394.7h0M427.5 310.0h0M494.3 159.9h0M403.1 197.2h0M360.8 469.4h0M434.1 306.2h0M452.8 248.2h0M421.0 371.1h0M474.8 232.3h0M452.8 151.1h0M475.6 224.0h0M409.6 319.4h0M402.3 371.3h0M402.3 365.9h0M434.1 295.1h0M367.3 425.8h0M434.9 293.6h0M407.2 372.0h0M434.1 287.2h0M380.3 433.8h0M434.9 266.2h0M405.6 300.6h0M458.5 238.3h0M455.2 279.7h0M439.8 277.1h0M439.8 296.1h0M410.4 359.3h0M412.9 338.5h0M387.6 407.5h0M409.6 252.0h0M411.3 368.6h0M416.1 357.2h0M413.7 335.7h0M395.8 340.1h0M377.9 413.3h0M398.2 348.3h0M375.4 429.4h0M351.0 449.0h0M411.3 311.5h0M386.8 441.3h0M353.4 443.4h0M437.3 182.0h0M434.9 280.4h0M396.6 412.3h0M452.0 219.2h0M397.4 366.7h0M395.8 358.8h0M416.1 327.9h0M402.3 355.3h0M363.2 446.5h0M435.7 308.8h0M344.5 472.7h0M386.0 402.5h0M405.6 388.6h0M402.3 341.4h0M386.0 425.3h0M370.5 410.3h0M332.3 481.9h0M393.3 395.7h0"/>
<path stroke="#A58AFF" d="M504.9 234.3h0M437.3 393.1h0M478.0 297.3h0M450.3 310.2h0M456.9 318.5h0M454.4 203.6h0M421.0 248.6h0M559.0 138.6h0M442.2 321.9h0M449.5 337.9h0M452.8 346.9h0M495.1 189.8h0M438.1 405.7h0M483.7 219.7h0M490.3 170.6h0M445.5 365.9h0M480.5 277.9h0M499.2 168.2h0M424.3 234.9h0M464.2 352.7h0M410.4 437.2h0M491.9 159.5h0M381.1 409.5h0M406.4 410.5h0M489.4 165.8h0M435.7 397.2h0M417.8 407.8h0M476.4 181.6h0M502.5 174.8h0M496.0 147.0h0M453.6 226.5h0M404.7 421.6h0M504.9 173.7h0M434.9 411.7h0M450.3 252.2h0M419.4 381.5h0M451.2 329.2h0M444.6 218.6h0M418.6 417.8h0M437.3 386.7h0M420.2 400.9h0M427.5 386.1h0M410.4 414.8h0M385.2 444.1h0M383.6 398.6h0M411.3 413.0h0M418.6 413.2h0M501.7 268.9h0M408.0 347.1h0M485.4 156.9h0M474.8 235.6h0M378.7 449.5h0M492.7 236.7h0M476.4 313.2h0M478.0 267.3h0M491.9 239.3h0M498.4 176.0h0M401.5 376.5h0M434.1 372.8h0M402.3 394.5h0M428.4 368.2h0M398.2 362.7h0M397.4 422.6h0M441.4 340.6h0M373.8 424.1h0M454.4 235.8h0M478.0 318.3h0M399.0 426.2h0M388.5 411.3h0M399.9 413.2h0M491.1 172.1h0M364.8 456.5h0M394.2 436.3h0M435.7 258.7h0M436.5 375.2h0M475.6 199.6h0M402.3 417.8h0M397.4 442.6h0M434.1 347.9h0M423.5 322.3h0M475.6 234.7h0M414.5 390.2h0M395.0 413.8h0M452.0 230.3h0M493.5 200.2h0M386.8 416.4h0M463.4 287.1h0M338.0 483.4h0"/>
<path stroke="#F8766D" d="M403.9 328.6h0M375.4 388.1h0M398.2 268.5h0M374.6 403.7h0M364.0 413.5h0M398.2 279.6h0M402.3 309.6h0M387.6 379.2h0M393.3 285.7h0M373.0 403.4h0M383.6 402.9h0M402.3 314.8h0M411.3 268.2h0M393.8 169.0h0M393.5 204.6h0M409.6 236.8h0M386.8 372.4h0M421.8 281.0h0M357.5 433.4h0M350.2 444.9h0M386.8 371.4h0M359.1 430.1h0M345.3 450.0h0M354.2 435.5h0M395.0 324.3h0M413.7 206.7h0M358.3 434.2h0M387.6 373.6h0M402.3 287.9h0M401.5 391.1h0M438.1 238.3h0M366.5 406.0h0M355.9 439.5h0M386.0 392.5h0M347.7 450.9h0M381.9 418.9h0M351.8 442.6h0M411.3 323.1h0M390.1 411.4h0M370.5 398.3h0M399.0 391.2h0M399.9 315.3h0M368.1 442.0h0M346.1 457.2h0M368.9 397.2h0M346.1 460.5h0M372.2 405.2h0M377.9 394.7h0M355.9 433.8h0M354.2 432.3h0M437.3 192.4h0M346.9 455.0h0M417.0 380.7h0M395.8 363.7h0M369.7 420.7h0M353.4 466.5h0M338.8 463.6h0M338.0 474.7h0M336.3 474.1h0"/>
<path stroke="#C49A00" d="M399.0 299.1h0M410.4 267.2h0M456.0 140.8h0M403.9 279.3h0M364.0 429.8h0M412.1 277.1h0M411.3 294.8h0M435.7 237.9h0M406.4 307.3h0M496.8 177.1h0M412.1 272.0h0M420.2 360.2h0M474.8 160.9h0M390.1 386.1h0M439.8 177.4h0M400.7 317.4h0M411.3 285.9h0M397.4 337.8h0M438.1 148.5h0M396.6 355.6h0M413.7 300.5h0M376.2 409.6h0M363.2 439.4h0M494.3 184.2h0M409.6 305.2h0M435.7 208.8h0M476.4 157.8h0M397.4 209.3h0M423.5 326.8h0M376.2 423.9h0M410.4 332.5h0M410.4 330.1h0M447.1 328.6h0M353.4 435.1h0M381.1 411.8h0M344.5 459.0h0M403.1 347.8h0M476.4 223.2h0M365.7 448.1h0M396.6 310.8h0M365.7 448.4h0M396.6 393.7h0M476.4 181.2h0M442.2 208.1h0M395.8 338.4h0M416.1 356.8h0M388.5 376.2h0M346.9 455.6h0M435.7 266.1h0M378.7 422.5h0M403.9 387.2h0M427.5 308.5h0M386.8 397.9h0M436.5 291.4h0M364.0 445.4h0M355.9 455.6h0M373.0 444.0h0M395.0 367.9h0M346.1 463.3h0M341.2 470.2h0M411.3 330.1h0M402.3 365.8h0M437.3 224.4h0M393.3 345.3h0M373.0 425.0h0M410.4 355.9h0M371.4 405.9h0M354.2 452.4h0M400.7 341.7h0M336.3 475.6h0M399.9 373.9h0"/>
<path stroke="#FB61D7" d="M403.9 445.3h0M438.1 294.7h0M493.5 178.4h0M496.0 153.7h0M412.9 433.4h0M419.4 404.0h0M415.3 431.5h0M504.9 134.9h0M469.1 315.4h0M434.1 240.5h0M386.0 458.3h0M491.9 164.7h0M426.7 400.8h0M456.0 331.4h0M484.6 213.1h0M491.1 197.5h0M434.1 361.9h0M440.6 172.2h0M491.9 203.1h0M494.3 165.6h0M422.7 375.5h0M483.7 217.2h0M452.0 285.1h0M476.4 249.8h0M481.3 368.1h0M396.6 444.3h0M443.8 323.3h0M435.7 357.0h0M506.5 151.9h0M451.2 322.3h0M488.6 220.5h0M509.8 157.7h0M405.6 394.5h0M399.9 439.5h0M498.4 209.5h0M399.9 441.6h0M399.9 421.5h0M495.1 192.5h0M475.6 262.8h0M491.1 194.6h0M434.9 345.9h0M396.6 449.8h0M386.8 446.9h0M405.6 424.5h0M398.2 355.0h0M359.1 465.6h0M354.2 475.6h0M439.8 346.2h0M435.7 323.7h0M434.1 271.9h0M434.9 413.4h0M481.3 264.0h0M369.7 442.1h0M478.9 225.4h0"/>
<path stroke="#53B400" d="M413.7 263.4h0M405.6 318.2h0M391.7 364.7h0M394.2 252.5h0M422.7 290.8h0M412.1 214.6h0M411.3 216.5h0M421.0 334.8h0M479.7 184.9h0M386.0 456.1h0M404.7 352.9h0M417.0 235.0h0M407.2 353.4h0M475.6 142.8h0M410.4 314.0h0M403.9 305.2h0M451.2 260.5h0M434.9 198.1h0M415.3 405.8h0M442.2 296.5h0M434.1 217.0h0M354.2 424.1h0M427.5 328.5h0M355.9 414.2h0M438.1 171.0h0M394.2 328.3h0M410.4 322.8h0M441.4 274.7h0M451.2 202.9h0M454.4 324.5h0M360.8 438.3h0M414.5 305.9h0M477.2 156.8h0M406.4 276.9h0M414.5 321.1h0M402.3 354.4h0M479.7 250.2h0M390.1 422.5h0M397.4 346.8h0M411.3 270.3h0M399.9 351.8h0M403.9 369.8h0M409.6 351.2h0M401.5 258.4h0M451.2 202.3h0M436.5 308.8h0M451.2 259.7h0M412.9 285.5h0M447.9 217.3h0M434.1 314.7h0M410.4 294.5h0M409.6 282.2h0M338.8 450.0h0M376.2 426.1h0M402.3 366.4h0M476.4 239.0h0M396.6 368.3h0M403.1 390.6h0M442.2 264.5h0M392.5 394.3h0M417.8 362.8h0M429.2 377.8h0M399.9 426.4h0M403.9 392.2h0M393.3 321.6h0M409.6 299.2h0M478.0 246.1h0M457.7 169.1h0M368.9 462.1h0M413.7 346.1h0M466.6 195.3h0M399.9 388.4h0M387.6 419.5h0M452.0 232.8h0M370.5 450.5h0M346.9 454.9h0M409.6 318.9h0M409.6 406.8h0M408.0 326.1h0M435.7 312.2h0M395.0 421.4h0M353.4 460.3h0M355.1 459.8h0M341.2 480.3h0M395.0 423.3h0M350.2 464.9h0M356.7 458.8h0M389.3 408.7h0M353.4 448.7h0M342.8 478.8h0"/>
<path stroke="#00C094" d="M435.7 195.3h0M421.8 299.2h0M417.8 357.9h0M418.6 393.2h0M478.0 134.9h0M415.3 408.3h0M420.2 318.1h0M425.1 279.9h0M447.9 353.2h0M381.1 447.0h0M437.3 219.6h0M434.9 229.1h0M382.8 435.0h0M368.9 414.4h0M452.8 165.6h0M451.2 203.4h0M417.8 360.6h0M417.8 335.0h0M447.1 243.2h0M440.6 204.1h0M478.0 169.4h0M477.2 146.9h0M476.4 210.9h0M443.8 338.2h0M402.3 364.8h0M390.1 439.9h0M403.1 389.7h0M460.9 185.4h0M421.8 292.7h0M529.4 331.2h0M484.6 143.9h0M418.6 397.0h0M453.6 341.2h0M421.8 359.7h0M434.9 222.7h0M450.3 258.4h0M391.7 426.0h0M443.8 189.4h0M454.4 339.7h0M417.0 325.3h0M482.6 355.6h0M410.4 424.0h0M460.1 318.8h0M449.5 292.0h0M450.3 243.4h0M479.7 178.7h0M447.1 305.3h0M411.3 297.1h0M491.9 178.2h0M477.2 241.9h0M437.3 314.2h0M454.4 255.9h0M434.1 386.4h0M434.1 340.1h0M480.5 200.3h0M477.2 231.1h0M435.7 231.1h0M403.1 421.9h0M454.4 357.9h0M434.9 165.3h0M407.2 346.9h0M435.7 236.0h0M410.4 324.5h0M415.3 298.9h0M391.7 394.3h0M434.1 275.8h0M434.1 324.1h0M434.1 166.1h0M376.2 414.3h0M435.7 177.0h0M452.8 324.1h0M387.6 441.9h0M434.9 188.6h0M399.0 363.5h0M419.4 372.3h0M460.1 270.5h0M494.3 172.9h0M337.1 460.5h0M409.6 360.7h0M412.1 333.7h0M403.9 373.1h0M397.4 357.0h0M481.3 177.5h0M483.7 224.3h0M410.4 392.8h0M418.6 321.6h0M364.8 434.3h0M436.5 253.8h0M411.3 370.1h0M437.3 323.8h0M396.6 408.7h0M403.9 326.3h0M384.4 440.5h0M374.6 430.3h0M380.3 423.4h0M491.1 173.2h0M434.1 327.4h0M417.8 349.2h0M374.6 427.4h0M369.7 464.9h0M381.9 426.4h0M373.8 449.3h0M379.5 431.3h0M410.4 356.4h0M434.1 249.3h0M394.2 415.5h0M340.4 474.0h0M394.2 425.3h0M393.3 408.3h0M357.5 452.3h0M395.0 394.2h0M386.0 426.5h0M352.6 462.2h0M333.9 480.1h0M336.3 484.1h0M382.8 407.3h0M352.6 470.1h0M381.1 438.7h0"/>
<path stroke="#00B6EB" d="M494.3 177.1h0M418.6 419.8h0M497.6 142.2h0M465.8 243.1h0M417.8 400.9h0M388.5 446.0h0M367.3 466.4h0M490.3 200.8h0M478.0 219.5h0M406.4 329.4h0M484.6 193.6h0M395.8 453.4h0M396.6 454.7h0M453.6 362.7h0M420.2 392.0h0M440.6 360.5h0M440.6 215.5h0M434.9 270.8h0M421.0 407.9h0M477.2 245.5h0M440.6 287.3h0M402.3 423.5h0M425.1 398.8h0M455.2 221.7h0M446.3 257.2h0M421.8 375.6h0M434.9 311.1h0M364.0 467.7h0M437.3 267.6h0M471.5 246.8h0M360.8 471.0h0M471.5 290.7h0M492.7 249.7h0M474.8 304.6h0M478.0 265.2h0M380.3 441.2h0M496.0 170.8h0M436.5 277.9h0M402.3 396.3h0M434.1 284.9h0M399.9 435.6h0M402.3 385.2h0M449.5 306.6h0M424.3 256.7h0M434.9 233.8h0M408.0 385.4h0M478.9 229.0h0M420.2 392.1h0M375.4 444.8h0M454.4 252.2h0M434.1 273.8h0M409.6 367.2h0M391.7 399.7h0M456.0 261.4h0M385.2 451.5h0M404.7 332.7h0M456.9 338.8h0M382.8 413.7h0M453.6 249.9h0M493.5 148.1h0M372.2 456.7h0M441.4 315.5h0M434.9 276.4h0M434.9 312.9h0M427.5 321.3h0M390.9 434.9h0M410.4 370.6h0M406.4 418.9h0M386.8 452.3h0M423.5 320.6h0M362.4 459.2h0M436.5 370.4h0M434.1 386.4h0M396.6 433.7h0M437.3 277.4h0M414.5 415.4h0M415.3 339.0h0M438.1 143.2h0M457.7 286.5h0M481.3 170.5h0M441.4 270.0h0M397.4 417.5h0M378.7 398.8h0M455.2 283.7h0M402.3 411.5h0M398.2 403.6h0M418.6 308.5h0M398.2 376.8h0M375.4 440.9h0M498.4 175.0h0M408.8 392.7h0M393.3 365.0h0M404.7 429.0h0M393.3 380.0h0M486.2 180.5h0M436.5 277.2h0M471.5 223.5h0M336.3 456.6h0M357.5 469.6h0M353.4 470.1h0M400.7 384.7h0M412.1 369.8h0M386.8 436.5h0M369.7 457.2h0M353.4 470.3h0M436.5 371.2h0M386.0 418.6h0M354.2 471.9h0M344.5 474.2h0M365.7 437.0h0M399.9 403.0h0"/>
<path stroke="#FB61D7" d="M443.8 357.3h0M474.8 285.1h0M500.0 170.9h0M398.2 438.8h0M451.2 344.4h0M397.4 454.0h0M502.5 165.3h0M486.2 234.1h0M470.7 370.7h0M434.9 400.2h0M476.4 285.5h0M511.4 143.0h0M512.2 151.2h0M403.1 346.4h0M458.5 330.2h0M417.0 415.0h0M456.9 240.4h0M450.3 332.8h0M437.3 408.6h0M455.2 393.0h0M403.1 409.6h0M434.9 356.5h0M365.7 470.5h0M461.7 227.1h0M491.9 223.5h0M421.8 316.9h0M398.2 450.0h0M484.6 237.0h0M476.4 293.3h0M417.8 383.4h0M404.7 395.0h0M482.9 137.9h0M496.0 222.1h0M504.9 142.3h0M371.4 474.4h0M476.4 341.7h0M405.6 405.4h0M425.1 387.3h0M385.2 449.5h0M494.3 198.0h0M411.3 397.1h0M439.8 308.4h0M370.5 446.6h0M409.6 394.6h0M441.4 325.1h0M372.2 447.5h0M500.8 190.2h0"/>
<path stroke="#00B6EB" d="M491.1 190.2h0M438.9 228.7h0M353.4 479.3h0M439.8 217.0h0M399.0 267.0h0M418.6 375.5h0M450.3 232.7h0M465.0 326.2h0M425.1 407.3h0M412.9 261.3h0M456.0 234.8h0M500.0 163.9h0M456.0 295.2h0M439.8 226.3h0M476.4 231.9h0M427.5 330.6h0M421.0 327.8h0M438.9 292.0h0M474.8 289.4h0M428.4 407.3h0M418.6 374.6h0M401.5 314.0h0M427.5 428.3h0M442.2 334.0h0M387.6 388.2h0M493.5 183.4h0M486.2 147.4h0M479.7 253.6h0M418.6 345.1h0M385.2 455.4h0M428.4 363.4h0M502.5 192.4h0M425.9 347.1h0M434.9 299.1h0M416.1 389.4h0M487.8 202.9h0M437.3 293.8h0M422.7 317.7h0M458.5 172.3h0M481.3 182.1h0M434.9 390.9h0M435.7 220.5h0M401.5 308.0h0M495.1 219.3h0M454.4 257.4h0M491.1 178.6h0M476.4 279.5h0M454.4 257.7h0M452.8 266.3h0M437.3 305.5h0M416.1 399.8h0M454.4 271.8h0M415.3 383.1h0M434.9 340.3h0M399.9 427.7h0M421.0 276.2h0M407.2 386.9h0M438.1 282.1h0M439.8 246.5h0M372.2 457.6h0M491.9 181.9h0M441.4 383.6h0M474.8 215.2h0M492.7 173.7h0M450.3 340.7h0M414.5 359.9h0M477.2 187.0h0M423.5 252.9h0M438.9 255.1h0M382.8 425.8h0M377.1 451.3h0M402.3 317.4h0M402.3 383.6h0M500.0 188.9h0M475.6 205.4h0M401.5 375.9h0M397.4 366.2h0M389.3 396.3h0M418.6 347.6h0M417.8 395.9h0M475.6 243.7h0M438.1 329.3h0M399.9 387.5h0M427.5 358.0h0M436.5 149.2h0M404.7 390.3h0M368.9 449.6h0M385.2 421.2h0M349.4 453.4h0M452.8 232.3h0M403.9 270.8h0M391.7 430.4h0M360.8 442.7h0M400.7 401.1h0M413.7 342.2h0M478.0 164.0h0M394.2 380.0h0M357.5 459.4h0M438.1 248.0h0M435.7 364.7h0M395.0 393.6h0M371.4 458.3h0M394.2 427.5h0M393.3 441.8h0M368.9 434.5h0M434.1 356.8h0M351.0 466.8h0M399.0 407.9h0M354.2 472.6h0M441.4 256.7h0M361.6 456.7h0M370.5 447.7h0M413.7 374.4h0"/>
<path stroke="#A58AFF" d="M408.0 300.0h0M469.9 352.5h0M460.9 239.8h0M515.5 184.2h0M496.0 190.6h0M425.1 348.2h0M429.2 365.9h0M491.9 154.8h0M498.4 139.4h0M517.9 134.1h0M435.7 398.2h0M499.2 178.6h0M381.9 455.8h0M503.3 159.3h0M456.0 296.4h0M449.5 306.5h0M441.4 238.2h0M494.3 202.4h0M488.6 189.7h0M502.5 188.7h0M479.7 228.0h0M434.9 389.5h0M437.3 376.9h0M442.2 292.0h0M406.4 412.1h0M477.2 217.6h0M438.9 339.6h0M419.4 311.5h0M519.6 135.0h0M415.3 381.2h0M404.7 348.5h0M455.2 312.9h0M457.7 259.6h0M454.4 282.7h0M474.8 223.2h0M493.5 176.6h0M414.5 413.2h0M439.8 357.2h0M493.5 201.8h0M478.0 252.6h0M476.4 173.3h0M474.8 203.1h0M487.8 183.3h0M469.1 213.2h0M400.7 422.2h0M476.4 183.5h0M492.7 157.3h0M476.4 282.5h0M434.1 339.4h0M390.9 449.2h0M435.7 251.8h0M416.1 400.4h0M496.0 166.8h0M478.0 242.6h0M452.8 268.4h0M443.0 329.3h0M434.1 435.5h0M446.3 363.3h0M472.3 273.4h0M490.3 251.4h0M396.6 416.1h0M474.8 306.9h0M390.9 424.5h0M435.7 387.4h0M413.7 254.1h0M418.6 363.5h0M409.6 397.3h0M379.5 456.6h0M478.0 181.7h0M488.6 224.8h0M496.8 162.0h0M377.9 436.0h0M491.1 136.2h0M400.7 424.5h0M412.1 352.3h0M495.1 210.3h0M393.3 354.0h0M389.3 430.6h0M414.5 370.6h0M395.8 428.8h0M486.2 246.2h0M417.8 389.8h0M452.0 352.9h0M497.6 178.9h0M414.5 358.6h0M346.1 478.5h0M359.9 469.5h0"/>
<path stroke="#53B400" d="M434.9 252.4h0M456.0 270.0h0M465.0 217.8h0M380.3 395.6h0M422.7 284.7h0M528.5 136.4h0M444.6 254.3h0M408.0 343.8h0M412.9 305.0h0M436.5 184.3h0M435.7 238.7h0M421.8 274.1h0M389.3 388.3h0M411.3 414.9h0M443.8 172.1h0M441.4 204.9h0M450.3 177.2h0M447.1 181.2h0M408.0 390.5h0M446.3 254.0h0M378.7 380.7h0M379.5 445.5h0M417.8 369.6h0M456.9 205.6h0M390.1 423.4h0M398.2 308.7h0M474.8 221.2h0M408.0 330.3h0M441.4 181.8h0M379.5 393.9h0M409.6 441.9h0M364.0 464.2h0M415.3 325.2h0M435.7 317.9h0M393.3 315.1h0M409.6 313.1h0M399.9 435.7h0M403.9 361.1h0M381.9 381.3h0M452.0 240.4h0M390.1 414.4h0M407.2 380.6h0M403.1 320.4h0M434.1 366.1h0M414.5 293.8h0M458.5 235.7h0M439.8 134.4h0M397.4 436.8h0M409.6 355.2h0M355.1 432.4h0M421.0 335.5h0M412.1 288.1h0M417.0 331.6h0M477.2 252.9h0M434.1 219.6h0M447.9 283.5h0M459.3 219.6h0M438.9 203.1h0M412.9 291.3h0M465.0 186.7h0M380.3 417.9h0M410.4 377.9h0M388.5 426.9h0M359.1 444.1h0M442.2 311.0h0M457.7 186.8h0M368.9 413.0h0M400.7 302.4h0M450.3 318.4h0M356.7 442.6h0M368.9 447.3h0M475.6 213.1h0M411.3 350.7h0M394.2 371.6h0M377.9 358.1h0M428.4 275.3h0M417.0 378.3h0M401.5 346.1h0M348.5 475.6h0M412.9 337.1h0M387.6 426.4h0M436.5 281.9h0M389.3 381.8h0M401.5 399.4h0M403.1 368.8h0M346.1 480.4h0M413.7 305.4h0M369.7 432.9h0M345.3 467.1h0M434.9 205.5h0M386.0 393.4h0M341.2 475.3h0M389.3 429.0h0M393.3 398.8h0M397.4 377.6h0M354.2 461.8h0M428.4 247.3h0M352.6 453.8h0M417.8 355.4h0M337.1 479.9h0"/>
<path stroke="#00C094" d="M444.6 193.5h0M435.7 167.5h0M434.9 404.8h0M425.9 333.8h0M428.4 329.4h0M476.4 310.0h0M412.9 248.7h0M360.8 469.8h0M410.4 280.5h0M404.7 298.5h0M434.1 346.1h0M450.3 211.5h0M429.2 273.4h0M425.9 369.4h0M478.0 210.9h0M452.0 193.5h0M482.9 175.3h0M454.4 226.3h0M361.6 436.5h0M479.7 172.2h0M450.3 185.6h0M365.7 424.0h0M440.6 355.0h0M424.3 341.0h0M434.9 243.2h0M417.8 335.1h0M477.2 205.6h0M438.9 135.6h0M400.7 309.4h0M437.3 331.3h0M466.6 193.0h0M450.3 326.7h0M417.8 406.1h0M417.8 322.6h0M440.6 270.6h0M435.7 363.7h0M403.1 354.8h0M434.9 343.2h0M388.5 440.7h0M451.2 210.9h0M428.4 376.5h0M404.7 381.0h0M436.5 175.5h0M434.9 401.2h0M376.2 439.5h0M477.2 210.0h0M434.1 307.7h0M482.1 138.6h0M409.6 367.1h0M388.5 366.1h0M436.5 366.9h0M491.9 147.4h0M388.5 381.5h0M426.7 323.8h0M421.0 313.8h0M417.0 352.9h0M399.9 361.8h0M410.4 377.7h0M353.4 478.6h0M435.7 253.6h0M414.5 352.9h0M477.2 339.4h0M434.1 273.2h0M354.2 474.7h0M418.6 291.1h0M434.9 218.4h0M423.5 396.8h0M474.8 149.5h0M415.3 380.2h0M436.5 249.3h0M382.8 440.7h0M434.9 362.4h0M391.7 426.8h0M447.1 269.1h0M411.3 371.9h0M403.1 410.0h0M368.9 459.9h0M379.5 437.5h0M450.3 273.9h0M400.7 356.1h0M457.7 337.7h0M423.5 243.0h0M377.1 440.4h0M353.4 446.3h0M364.0 468.5h0M411.3 385.8h0M376.2 435.6h0M401.5 431.7h0M477.2 181.6h0M392.5 404.6h0M386.8 401.0h0M359.9 440.2h0M435.7 256.6h0M373.8 415.7h0M350.2 461.8h0M383.6 436.1h0M436.5 227.8h0M416.1 213.9h0M474.8 259.1h0M445.5 356.8h0M368.9 420.8h0M398.2 403.0h0M439.8 182.3h0M385.2 433.3h0M422.7 265.6h0M414.5 308.7h0M480.5 230.0h0M368.9 431.0h0M390.9 410.7h0M412.1 385.2h0M396.6 433.4h0M438.9 344.1h0M403.1 379.1h0M344.5 467.8h0M401.5 424.0h0M397.4 366.5h0M419.4 364.2h0M369.7 448.2h0M394.2 401.2h0M396.6 376.4h0M355.1 465.9h0M372.2 448.4h0M357.5 460.2h0M388.5 409.5h0M377.1 436.9h0M395.0 346.5h0M336.3 485.8h0M355.1 451.1h0M435.7 223.6h0M346.1 471.6h0"/>
<path stroke="#F8766D" d="M359.1 424.0h0M386.0 362.2h0M434.9 166.7h0M415.3 284.3h0M394.1 139.0h0M377.9 369.2h0M435.7 231.6h0M406.4 325.6h0M353.4 417.8h0M440.6 205.1h0M387.6 353.6h0M359.9 424.2h0M421.8 254.2h0M435.7 166.0h0M362.4 440.7h0M434.1 174.8h0M368.9 416.0h0M375.4 409.6h0M492.7 169.5h0M410.4 241.5h0M333.9 463.3h0M463.4 184.8h0M394.2 331.8h0M414.5 305.1h0M478.9 145.4h0M368.1 391.2h0M362.4 424.1h0M409.6 302.8h0M421.0 356.0h0M435.7 141.7h0M393.3 313.7h0M437.3 157.5h0M369.7 398.3h0M477.2 141.0h0M331.4 476.4h0M401.5 240.9h0M379.5 425.1h0M414.5 304.8h0M435.7 304.0h0M370.5 399.3h0M371.4 394.5h0M371.4 389.1h0M362.4 430.8h0M397.4 371.8h0M374.6 385.2h0M435.7 342.6h0M357.5 442.3h0M365.7 432.0h0M452.8 159.0h0M354.2 441.1h0M344.5 461.3h0M370.5 425.4h0M338.0 460.9h0M393.3 355.2h0M339.6 472.1h0M451.2 277.9h0M371.4 378.4h0M369.7 443.5h0M354.2 456.5h0M342.0 462.3h0M403.1 320.5h0"/>
<path stroke="#C49A00" d="M414.5 244.3h0M409.6 244.0h0M452.0 204.4h0M428.4 286.6h0M434.1 184.6h0M376.2 405.1h0M391.7 374.2h0M421.0 269.2h0M422.7 356.2h0M456.9 153.1h0M415.3 327.9h0M434.9 245.7h0M332.3 473.2h0M397.4 310.2h0M392.5 435.5h0M369.7 402.6h0M476.4 180.1h0M389.3 337.4h0M380.3 389.0h0M405.6 345.9h0M349.4 446.1h0M421.8 369.7h0M436.5 337.3h0M434.9 262.9h0M368.9 415.7h0M403.9 358.7h0M352.6 435.7h0M411.3 400.3h0M375.4 414.8h0M411.3 413.1h0M379.5 406.0h0M335.5 467.0h0M396.6 337.3h0M412.1 359.7h0M381.1 437.0h0M437.3 253.1h0M368.9 405.9h0M418.6 296.4h0M442.2 364.5h0M414.5 217.3h0M419.4 354.7h0M344.5 456.8h0M401.5 335.3h0M397.4 343.9h0M390.1 390.5h0M438.1 156.7h0M369.7 403.5h0M412.9 275.4h0M409.6 334.1h0M434.9 219.0h0M351.0 449.8h0M357.5 456.1h0M399.9 374.0h0M415.3 293.8h0M342.0 461.0h0M398.2 328.1h0M344.5 456.4h0M344.5 450.4h0M341.2 461.7h0M397.4 381.4h0M368.9 432.7h0M412.9 334.0h0M377.1 429.8h0M368.9 430.6h0M435.7 269.2h0M386.0 437.0h0M372.2 424.2h0M359.1 450.3h0M371.4 445.4h0M395.8 343.1h0M397.4 357.5h0M395.8 410.3h0M370.5 445.6h0M332.3 479.6h0M415.3 213.5h0M386.0 418.1h0M354.2 466.4h0M395.8 355.5h0M370.5 435.1h0M369.7 432.9h0M364.0 455.7h0M475.6 172.7h0M344.5 474.4h0M396.6 371.3h0M331.4 482.2h0M393.3 396.5h0M340.4 477.6h0"/>
<path stroke="#C49A00" d="M394.9 207.8h0M373.8 379.0h0M452.0 247.3h0M470.7 260.7h0M382.8 458.3h0M409.6 268.6h0M450.3 170.8h0M428.4 167.7h0M407.2 323.7h0M368.9 402.5h0M383.6 408.1h0M447.9 154.1h0M395.8 293.8h0M393.3 329.2h0M417.8 268.2h0M394.2 256.6h0M387.6 383.7h0M435.7 201.3h0M407.2 367.4h0M414.5 391.9h0M389.3 394.8h0M434.9 145.4h0M437.3 224.8h0M469.1 196.1h0M390.9 368.3h0M332.3 475.9h0M395.8 301.2h0M403.1 325.1h0M379.5 416.2h0M406.4 399.5h0M435.7 351.2h0M415.3 342.4h0M395.8 305.3h0M401.5 337.9h0M442.2 337.2h0M474.0 238.5h0M405.6 360.9h0M380.3 424.5h0M377.1 428.5h0M407.2 392.8h0M425.1 288.7h0M390.1 421.8h0M393.8 250.5h0M419.4 322.2h0M453.6 258.8h0M434.9 291.6h0M435.7 189.4h0M408.8 371.4h0M343.7 459.6h0M400.7 354.0h0M373.0 422.8h0M388.5 413.8h0M357.5 466.3h0M476.4 135.1h0M388.5 377.2h0M364.8 448.9h0M366.5 436.9h0M331.4 476.6h0M385.2 422.8h0M338.8 464.4h0M355.9 448.4h0M401.5 331.9h0M393.3 316.7h0M403.1 313.3h0M368.9 442.0h0M373.8 444.5h0M438.1 276.8h0M446.3 288.6h0M405.6 291.3h0M359.1 444.8h0M389.3 410.8h0M434.9 376.6h0M402.3 402.8h0M368.1 434.6h0M337.1 470.7h0M435.7 269.1h0M344.5 471.8h0M419.4 379.8h0M345.3 473.0h0"/>
<path stroke="#00C094" d="M443.0 234.9h0M412.9 209.0h0M434.9 158.8h0M417.0 292.4h0M456.9 167.4h0M438.9 230.9h0M441.4 377.3h0M418.6 369.1h0M442.2 334.9h0M408.0 433.7h0M364.0 414.3h0M447.1 324.6h0M475.6 202.4h0M426.7 317.2h0M453.6 206.4h0M456.0 306.2h0M421.0 299.4h0M452.0 367.4h0M479.7 145.1h0M438.9 295.0h0M360.8 446.5h0M477.2 156.1h0M444.6 304.8h0M395.0 286.3h0M390.9 439.8h0M421.8 300.7h0M428.4 355.4h0M476.4 322.5h0M434.1 220.1h0M478.0 216.0h0M450.3 198.1h0M491.1 241.4h0M418.6 399.6h0M421.8 351.3h0M425.9 371.7h0M445.5 193.2h0M425.9 326.1h0M436.5 359.7h0M445.5 259.2h0M416.1 256.5h0M463.4 196.7h0M435.7 372.6h0M434.9 267.7h0M417.8 347.9h0M435.7 230.1h0M417.8 361.8h0M453.6 160.7h0M410.4 308.3h0M434.9 299.5h0M425.9 307.5h0M399.0 338.5h0M400.7 281.3h0M439.8 278.1h0M434.9 269.1h0M438.9 264.3h0M414.5 397.9h0M438.9 327.8h0M443.0 225.7h0M441.4 312.9h0M491.9 182.1h0M438.1 179.4h0M404.7 357.9h0M395.8 318.4h0M412.9 259.6h0M417.8 351.5h0M376.2 459.4h0M451.2 242.7h0M414.5 290.1h0M362.4 454.3h0M435.7 328.5h0M351.0 450.3h0M416.1 393.2h0M453.6 220.1h0M391.7 410.3h0M500.0 155.7h0M451.2 309.3h0M399.0 378.0h0M378.7 392.6h0M476.4 247.0h0M386.0 441.8h0M494.3 155.4h0M398.2 389.8h0M392.5 397.8h0M399.0 363.4h0M408.8 325.6h0M381.9 421.1h0M396.6 386.4h0M440.6 359.3h0M403.1 394.0h0M368.1 425.6h0M403.9 402.1h0M461.7 184.8h0M436.5 220.3h0M359.9 455.4h0M474.8 357.5h0M394.2 358.7h0M383.6 405.5h0M452.8 265.7h0M380.3 389.1h0M376.2 437.1h0M476.4 158.3h0M360.8 442.3h0M374.6 437.7h0M443.0 261.6h0M454.4 314.0h0M370.5 415.1h0M436.5 301.1h0M406.4 388.6h0M386.0 432.9h0M401.5 380.7h0M454.4 363.0h0M467.5 300.4h0M394.2 354.7h0M390.1 428.7h0M399.9 413.5h0M441.4 174.6h0M370.5 447.5h0M331.4 482.9h0M395.8 374.7h0M379.5 427.8h0M385.2 403.1h0M370.5 455.8h0M412.9 388.3h0M406.4 358.7h0M434.1 315.5h0M361.6 458.3h0M368.9 432.5h0M346.9 469.3h0M383.6 428.7h0M381.1 406.2h0M339.6 479.6h0"/>
<path stroke="#53B400" d="M434.1 213.6h0M419.4 268.9h0M379.5 397.8h0M404.7 339.0h0M478.9 180.3h0M454.4 136.3h0M446.3 268.6h0M439.8 229.1h0M438.9 290.0h0M474.8 154.7h0M421.0 332.2h0M393.3 274.2h0M356.7 415.3h0M410.4 278.4h0M381.9 447.0h0M478.0 245.9h0M395.0 309.1h0M417.8 274.9h0M396.6 336.4h0M375.4 450.8h0M411.3 275.6h0M438.9 289.1h0M443.0 189.5h0M438.1 214.3h0M383.6 407.9h0M403.1 291.3h0M410.4 409.6h0M556.4 302.6h0M412.1 255.0h0M452.0 242.2h0M375.4 387.8h0M444.6 271.7h0M436.5 319.7h0M437.3 200.8h0M464.2 194.6h0M381.9 440.2h0M437.3 268.1h0M438.1 202.9h0M452.8 162.1h0M414.5 255.3h0M389.3 377.8h0M410.4 414.9h0M411.3 270.1h0M439.8 225.7h0M369.7 468.3h0M397.4 331.1h0M393.3 321.0h0M414.5 399.0h0M398.2 304.1h0M475.6 168.3h0M422.7 401.6h0M436.5 275.7h0M411.3 398.5h0M439.8 280.3h0M453.6 347.0h0M437.3 135.7h0M399.9 407.1h0M477.2 191.9h0M410.4 328.0h0M386.8 385.8h0M397.4 338.6h0M420.2 363.6h0M399.0 326.2h0M412.1 321.1h0M474.6 350.6h0M411.3 378.6h0M399.9 385.9h0M386.0 417.2h0M373.0 451.6h0M421.8 302.2h0M438.1 325.2h0M385.2 400.6h0M395.0 411.9h0M386.0 399.3h0M397.4 377.6h0M362.4 454.1h0M352.6 476.4h0M396.6 392.3h0M372.2 441.9h0M413.7 246.6h0M369.7 454.5h0M395.8 376.3h0M369.7 435.1h0M339.6 482.4h0M374.6 410.6h0M352.6 466.9h0M381.9 433.2h0M345.3 478.7h0M437.3 303.2h0M396.6 390.6h0"/>
<path stroke="#FB61D7" d="M493.5 208.0h0M483.7 273.8h0M434.9 434.4h0M496.0 154.3h0M382.8 453.2h0M494.3 208.8h0M412.1 442.6h0M391.7 445.3h0M512.2 193.6h0M415.3 406.8h0M426.7 378.8h0M454.4 256.6h0M492.7 241.8h0M491.9 206.5h0M478.9 220.2h0M368.9 470.4h0M398.2 449.0h0M478.9 232.4h0M494.3 247.9h0M419.4 407.4h0M414.5 396.9h0M477.2 253.6h0M521.2 172.4h0M438.9 278.6h0M497.6 161.2h0M396.6 446.2h0M363.2 439.8h0M421.0 379.3h0M501.7 168.6h0M493.5 163.0h0M451.2 385.1h0M404.7 425.6h0M480.5 249.7h0M452.0 292.5h0M424.3 421.8h0M491.9 175.5h0M399.9 430.0h0M412.9 414.3h0M504.8 288.2h0M418.6 348.8h0M479.7 204.7h0M495.1 204.1h0M491.9 192.0h0M486.2 260.3h0M503.3 171.5h0M483.7 271.3h0M369.7 468.7h0M368.1 465.3h0M424.3 366.7h0M491.9 256.3h0M416.1 362.4h0M484.0 311.6h0M493.5 235.2h0M401.5 332.5h0M410.4 391.5h0M395.0 349.4h0M395.8 450.5h0M476.4 285.3h0M370.5 459.9h0M470.7 313.1h0M452.8 325.3h0M410.4 400.1h0M425.9 385.2h0"/>
<path stroke="#00B6EB" d="M447.1 353.7h0M434.9 252.9h0M498.4 191.5h0M475.6 344.9h0M408.0 352.8h0M435.7 150.4h0M475.6 147.8h0M480.5 279.1h0M495.1 182.7h0M407.2 328.9h0M434.9 353.3h0M489.4 183.5h0M480.3 375.6h0M451.2 310.7h0M427.5 364.8h0M434.9 206.0h0M416.1 436.8h0M450.3 402.1h0M476.4 248.3h0M478.0 176.3h0M373.0 402.8h0M414.5 413.0h0M487.8 194.7h0M475.6 145.0h0M495.1 139.6h0M443.8 208.2h0M378.7 439.7h0M428.4 354.3h0M426.7 358.4h0M454.4 288.9h0M434.9 257.5h0M478.0 168.1h0M442.2 300.6h0M407.2 384.2h0M496.0 161.3h0M405.6 409.7h0M372.2 466.0h0M456.9 217.4h0M448.7 271.0h0M417.0 363.8h0M463.4 247.7h0M486.2 185.1h0M434.1 294.0h0M495.1 198.7h0M357.5 472.0h0M409.6 303.6h0M491.9 138.1h0M403.9 410.8h0M479.7 322.3h0M434.1 238.0h0M411.3 300.4h0M396.6 311.0h0M478.9 302.6h0M403.1 380.1h0M402.3 383.2h0M478.0 171.8h0M403.9 332.2h0M413.7 409.4h0M434.9 319.5h0M478.0 281.9h0M438.9 313.8h0M485.4 164.6h0M443.8 337.7h0M372.2 457.2h0M436.5 367.7h0M481.3 146.7h0M399.0 433.8h0M388.5 449.8h0M484.6 165.7h0M452.0 317.7h0M436.5 371.3h0M393.3 450.2h0M388.5 421.3h0M390.9 414.2h0M378.7 443.9h0M372.2 461.9h0M434.1 322.5h0M417.0 312.4h0M434.9 275.2h0M401.5 396.7h0M434.9 309.1h0M496.0 139.1h0M445.5 282.4h0M386.8 452.7h0M445.5 308.8h0M434.1 331.8h0M451.2 235.1h0M417.0 407.7h0M434.9 225.9h0M382.8 412.6h0M410.4 381.9h0M399.0 415.5h0M425.1 388.8h0M408.0 377.8h0M363.2 465.5h0M417.8 367.2h0M398.2 432.5h0M452.0 170.7h0M439.8 346.1h0M388.5 431.9h0M359.1 452.3h0M400.7 417.1h0M436.5 370.7h0M434.9 218.9h0M411.3 355.6h0M370.5 374.3h0M389.3 395.8h0M459.3 370.7h0M373.8 447.2h0M455.2 275.3h0M413.7 358.0h0M411.3 369.6h0M333.9 483.1h0M385.2 416.9h0M434.1 366.1h0M372.2 431.8h0M453.6 190.4h0M452.0 281.4h0M386.0 412.4h0M353.4 458.6h0M438.1 335.9h0M411.3 364.2h0M515.5 157.8h0M386.0 425.9h0M394.2 366.5h0M444.6 221.8h0M404.7 347.2h0M368.9 454.7h0"/>
<path stroke="#F8766D" d="M376.2 397.9h0M452.0 237.1h0M421.0 217.4h0M398.2 318.7h0M453.6 157.9h0M398.2 320.8h0M360.8 415.3h0M390.9 384.2h0M333.9 469.3h0M416.1 295.3h0M475.6 180.6h0M385.2 370.7h0M351.0 438.7h0M409.6 289.5h0M346.9 439.7h0M399.9 318.2h0M372.2 406.7h0M435.7 181.8h0M476.4 160.6h0M481.3 156.9h0M451.2 255.1h0M368.9 393.4h0M386.0 371.8h0M375.4 348.3h0M406.4 241.9h0M344.5 458.4h0M349.4 443.0h0M355.9 416.4h0M436.5 315.8h0M380.3 427.0h0M362.4 440.8h0M401.5 340.1h0M362.4 450.4h0M403.9 317.8h0M363.2 451.4h0M382.8 437.9h0M377.1 394.4h0M398.2 351.3h0M373.8 434.6h0M452.0 225.6h0M368.9 443.3h0M368.1 435.0h0M381.9 430.0h0M335.5 469.5h0M345.3 455.1h0M375.4 392.2h0M340.4 469.3h0M409.6 317.6h0M347.7 467.0h0M349.4 464.5h0M345.3 472.8h0"/>
<path stroke="#A58AFF" d="M477.2 296.9h0M403.9 440.6h0M486.0 299.6h0M440.6 269.1h0M469.1 279.9h0M499.2 185.8h0M423.5 400.2h0M496.0 200.7h0M434.9 390.2h0M437.3 402.3h0M489.4 168.5h0M492.7 247.7h0M421.8 349.7h0M498.4 154.7h0M486.2 222.4h0M495.1 254.7h0M400.7 438.9h0M475.6 205.0h0M504.9 164.0h0M412.1 437.1h0M496.0 171.7h0M435.7 360.6h0M474.8 194.9h0M500.0 145.3h0M405.6 396.3h0M477.2 246.4h0M482.1 238.8h0M475.6 170.3h0M463.4 320.0h0M441.4 311.0h0M414.5 396.8h0M447.9 379.9h0M402.3 397.7h0M495.1 173.4h0M450.3 352.2h0M373.0 464.5h0M445.5 273.9h0M406.4 399.7h0M452.0 273.3h0M438.1 352.5h0M452.8 301.9h0M440.6 368.9h0M474.8 247.7h0M415.3 385.9h0M436.5 270.5h0M408.8 423.8h0M434.9 323.2h0M474.8 174.6h0M478.0 189.6h0M403.1 402.6h0M406.4 394.9h0M399.0 425.0h0M452.8 158.1h0M403.9 393.9h0M394.2 460.1h0M351.8 477.3h0M443.0 371.5h0M450.3 277.3h0M434.9 344.0h0M379.5 428.9h0M396.6 444.6h0M340.4 484.5h0M504.9 186.7h0M387.6 417.5h0M398.2 384.4h0M359.1 455.4h0M395.8 457.5h0M435.7 303.3h0M494.3 207.2h0M435.7 357.9h0M411.3 411.9h0M412.1 346.0h0M386.0 428.5h0M395.0 378.7h0M403.9 391.6h0M436.5 312.6h0M379.5 442.5h0M393.3 448.0h0M386.0 443.5h0M349.4 471.1h0M448.7 305.7h0M386.0 413.1h0M500.8 155.6h0M399.0 422.6h0M492.7 147.1h0M495.1 152.0h0M454.4 342.2h0M395.0 398.3h0M342.0 480.4h0M451.2 322.3h0M412.1 391.9h0M475.6 224.9h0M396.6 434.1h0M356.7 467.0h0M412.9 377.3h0"/>
<path stroke="#00B6EB" d="M461.7 227.3h0M438.1 366.7h0M410.4 262.9h0M410.4 433.9h0M450.3 218.3h0M397.4 312.2h0M425.1 401.6h0M443.0 254.6h0M422.7 377.3h0M413.7 425.9h0M452.8 314.1h0M403.1 334.0h0M438.9 238.6h0M412.1 426.4h0M493.5 171.0h0M419.4 291.2h0M478.9 184.0h0M477.2 213.9h0M478.0 291.7h0M405.6 392.8h0M438.9 364.9h0M435.7 417.6h0M425.9 368.3h0M497.6 185.2h0M475.6 207.6h0M417.8 378.7h0M450.3 314.5h0M474.8 142.9h0M381.9 426.7h0M418.6 270.1h0M420.2 390.2h0M409.6 427.7h0M454.4 239.3h0M484.6 206.8h0M409.6 398.9h0M412.1 272.3h0M402.3 426.7h0M493.5 190.8h0M525.3 147.0h0M413.7 415.4h0M438.1 356.4h0M474.0 273.5h0M399.0 344.3h0M421.0 398.2h0M466.6 235.5h0M478.9 182.8h0M452.8 190.1h0M475.6 268.1h0M434.1 360.8h0M391.7 421.6h0M378.7 418.6h0M491.9 198.2h0M437.3 326.0h0M453.6 213.2h0M434.1 221.8h0M425.1 417.6h0M394.2 451.3h0M435.7 272.9h0M425.1 337.5h0M387.6 361.4h0M385.2 452.3h0M438.1 399.9h0M435.7 249.2h0M389.3 407.2h0M428.4 280.0h0M387.6 427.6h0M438.1 195.2h0M435.7 229.1h0M477.2 169.4h0M392.5 432.3h0M398.2 436.4h0M437.3 312.4h0M438.1 345.0h0M412.1 411.9h0M387.6 403.9h0M481.3 262.0h0M387.6 440.7h0M408.0 361.6h0M362.4 462.9h0M441.4 247.3h0M410.4 389.8h0M375.4 427.8h0M363.2 467.2h0M374.6 426.2h0M420.2 393.2h0M453.6 268.4h0M368.1 458.3h0M399.0 410.8h0M382.8 434.0h0M369.7 419.7h0M368.9 440.0h0M477.2 233.3h0M415.3 385.4h0M415.3 407.3h0M474.8 148.1h0M410.4 349.0h0M396.6 398.5h0M411.3 376.2h0M453.6 268.6h0M386.8 420.1h0M409.6 313.4h0M397.4 415.3h0M395.0 440.0h0M434.9 331.6h0M404.7 361.2h0M447.9 254.2h0M478.0 277.2h0M451.2 348.1h0M373.0 439.0h0M457.7 312.1h0M502.5 207.0h0M359.9 455.4h0M412.9 387.2h0M350.2 466.8h0M353.4 464.6h0M395.0 422.9h0M395.0 393.8h0"/>
<path stroke="#F8766D" d="M399.9 316.1h0M381.1 400.2h0M373.0 389.8h0M418.6 288.4h0M353.4 416.7h0M391.7 377.1h0M360.8 414.0h0M390.1 387.4h0M443.0 328.0h0M368.1 392.3h0M355.9 431.4h0M387.6 373.4h0M347.7 440.0h0M366.5 403.7h0M404.7 296.2h0M370.5 401.1h0M411.3 221.4h0M414.5 312.9h0M395.0 293.3h0M344.5 455.2h0M394.3 142.8h0M475.6 169.2h0M394.2 289.5h0M437.3 152.6h0M373.0 392.7h0M450.3 268.0h0M535.5 241.6h0M387.6 400.1h0M411.3 368.1h0M349.4 443.4h0M395.0 279.9h0M346.1 448.7h0M344.5 453.7h0M358.3 446.8h0M353.4 426.7h0M439.8 161.3h0M393.3 323.5h0M355.9 439.7h0M362.4 442.3h0M351.8 439.0h0M376.2 427.6h0M345.3 450.0h0M386.0 391.1h0M434.1 190.4h0M352.6 447.0h0M354.2 420.2h0M393.3 375.2h0M337.1 465.9h0M348.5 460.5h0M352.6 458.4h0M337.1 468.3h0M335.5 472.7h0M374.6 438.6h0M345.3 479.9h0M346.9 456.3h0M370.5 424.9h0"/>
<path stroke="#00C094" d="M435.7 212.9h0M356.7 427.1h0M465.0 136.1h0M492.7 150.0h0M492.7 201.2h0M454.4 170.8h0M434.1 319.6h0M403.9 300.2h0M441.4 199.2h0M412.1 250.0h0M403.1 430.5h0M402.3 342.3h0M417.8 282.8h0M442.2 158.1h0M498.4 158.9h0M437.3 191.0h0M399.0 323.0h0M434.1 237.4h0M403.9 350.8h0M478.0 213.6h0M447.1 316.2h0M452.8 307.3h0M438.9 336.1h0M377.1 407.1h0M439.8 200.5h0M492.7 144.3h0M452.8 183.6h0M447.9 233.0h0M435.7 327.1h0M478.0 214.0h0M434.9 333.8h0M450.3 158.9h0M448.7 316.4h0M437.3 365.8h0M456.0 294.4h0M414.5 405.1h0M406.4 409.6h0M498.4 229.4h0M491.1 179.4h0M480.5 173.2h0M376.2 448.6h0M436.5 173.5h0M439.8 329.5h0M434.9 330.4h0M451.2 274.4h0M434.9 308.7h0M402.3 335.1h0M475.6 241.6h0M451.2 305.9h0M434.1 302.4h0M420.2 347.6h0M496.8 206.9h0M474.0 250.6h0M496.0 216.5h0M437.3 370.7h0M476.4 185.5h0M394.2 284.4h0M417.0 345.6h0M411.3 344.9h0M434.9 264.0h0M388.5 391.6h0M415.3 386.4h0M468.3 231.4h0M438.1 281.7h0M403.9 372.1h0M395.8 311.7h0M379.5 444.3h0M446.3 354.2h0M406.4 302.8h0M409.6 260.0h0M404.7 419.4h0M438.1 168.8h0M362.4 447.0h0M394.2 302.3h0M390.1 445.0h0M411.3 352.6h0M436.5 337.9h0M434.1 304.5h0M397.4 436.4h0M359.1 446.2h0M399.9 387.1h0M382.8 421.9h0M390.9 422.1h0M478.9 216.2h0M421.0 359.2h0M397.4 372.8h0M410.4 279.6h0M434.9 333.3h0M409.6 336.7h0M434.9 347.8h0M378.7 434.0h0M491.9 184.6h0M401.5 412.8h0M397.4 426.3h0M368.9 461.9h0M399.0 426.5h0M386.0 399.8h0M368.1 450.7h0M445.5 146.7h0M368.9 452.0h0M384.4 435.9h0M400.7 373.1h0M351.0 441.3h0M353.4 438.0h0M448.7 261.9h0M397.4 353.3h0M450.3 217.8h0M399.0 418.1h0M353.4 450.3h0M494.3 194.5h0M393.3 404.2h0M355.1 454.9h0M399.0 404.8h0M345.3 475.1h0M344.5 469.5h0M355.1 452.6h0M356.7 445.6h0M451.2 214.4h0M344.5 475.5h0M354.2 446.8h0"/>
<path stroke="#53B400" d="M491.1 136.5h0M403.9 350.5h0M417.8 295.2h0M421.0 287.0h0M443.8 240.5h0M351.8 422.4h0M434.9 194.2h0M456.9 166.6h0M411.3 222.6h0M426.7 401.9h0M445.5 238.0h0M425.9 291.2h0M443.0 237.2h0M419.4 249.8h0M416.1 270.2h0M493.5 161.2h0M410.4 272.8h0M389.3 385.3h0M434.9 210.2h0M396.6 322.9h0M437.3 273.4h0M425.9 295.2h0M403.9 317.7h0M452.0 255.0h0M425.1 344.3h0M435.7 328.8h0M380.3 396.5h0M478.0 253.7h0M413.7 295.1h0M394.2 292.5h0M424.3 329.9h0M396.6 331.8h0M436.5 312.7h0M394.2 302.9h0M400.7 288.9h0M434.9 317.4h0M403.9 367.1h0M404.7 317.5h0M364.8 448.5h0M462.6 250.0h0M405.6 371.2h0M421.0 330.4h0M451.2 187.7h0M396.6 293.4h0M442.2 309.7h0M400.7 284.6h0M359.1 438.0h0M400.7 262.8h0M421.8 316.8h0M415.3 347.1h0M375.4 422.1h0M400.7 423.7h0M400.7 366.1h0M361.6 465.4h0M457.7 236.0h0M409.6 265.4h0M375.4 454.2h0M353.4 431.0h0M373.0 411.5h0M413.7 280.1h0M412.9 360.7h0M373.8 420.3h0M381.1 402.1h0M448.7 189.3h0M452.0 229.5h0M401.5 398.1h0M398.2 313.0h0M435.7 171.5h0M480.5 227.9h0M440.6 281.7h0M359.9 462.6h0M442.2 373.1h0M439.8 254.2h0M424.3 337.0h0M386.8 390.0h0M412.9 438.9h0M401.5 415.3h0M409.6 311.3h0M439.8 282.9h0M359.9 447.3h0M404.7 367.3h0M393.3 388.9h0M403.9 362.8h0M389.3 408.6h0M409.6 201.6h0M395.8 440.4h0M421.8 405.6h0M371.4 430.0h0M387.6 400.9h0M385.2 398.9h0M368.9 438.3h0M451.2 212.6h0M393.3 381.8h0M451.2 272.8h0M376.2 446.9h0M373.8 439.9h0M353.4 461.3h0M437.3 178.1h0M397.4 291.6h0"/>
<path stroke="#C49A00" d="M459.3 250.3h0M455.2 278.9h0M396.6 307.6h0M373.0 387.9h0M443.0 234.2h0M396.6 299.8h0M362.4 424.2h0M337.1 458.8h0M436.5 231.9h0M409.6 289.5h0M438.1 285.1h0M443.0 285.4h0M403.1 315.2h0M356.7 426.5h0M352.6 428.9h0M393.3 216.2h0M381.9 409.9h0M434.1 235.4h0M474.8 237.0h0M410.4 267.1h0M453.6 141.1h0M402.3 326.4h0M435.7 331.1h0M358.3 431.2h0M462.6 261.1h0M436.5 285.1h0M435.7 257.5h0M409.6 316.0h0M394.2 329.9h0M443.8 290.1h0M398.2 327.6h0M436.5 355.7h0M452.8 274.2h0M382.8 432.8h0M368.9 388.3h0M434.1 199.3h0M376.2 447.0h0M439.8 153.9h0M438.1 252.0h0M417.8 350.2h0M410.4 186.4h0M435.7 274.6h0M416.1 355.7h0M395.8 316.2h0M428.4 362.9h0M390.1 416.4h0M379.5 401.3h0M434.9 340.6h0M390.1 411.5h0M418.6 345.2h0M434.1 284.6h0M399.0 362.1h0M438.1 204.9h0M358.3 437.8h0M337.1 451.1h0M386.0 373.7h0M411.3 333.0h0M376.2 416.6h0M368.9 463.9h0M342.0 459.1h0M352.6 443.5h0M411.3 309.9h0M414.5 375.7h0M411.3 341.3h0M387.6 386.1h0M399.0 309.6h0M393.3 317.3h0M368.9 418.5h0M399.9 394.7h0M380.3 419.6h0M410.4 302.8h0M389.3 434.0h0M411.3 299.0h0M385.2 431.6h0M401.5 345.2h0M358.3 459.4h0M352.6 447.5h0M361.6 454.0h0M392.5 391.9h0M371.4 441.2h0M377.9 434.8h0M357.5 432.7h0M357.5 441.1h0M354.2 464.3h0M369.7 418.0h0M370.5 427.6h0M347.7 463.2h0"/>
<path stroke="#FB61D7" d="M478.0 209.7h0M434.9 392.0h0M463.4 202.7h0M489.4 229.3h0M404.7 432.2h0M501.7 232.9h0M517.9 212.6h0M494.3 212.4h0M428.4 395.6h0M514.7 206.8h0M414.5 425.6h0M482.1 186.2h0M447.1 361.5h0M447.1 325.5h0M434.9 408.2h0M477.2 326.7h0M491.1 174.3h0M496.0 134.8h0M497.6 161.2h0M452.0 335.9h0M492.7 241.2h0M491.9 216.5h0M475.6 220.7h0M491.1 242.2h0M410.4 418.3h0M520.4 185.7h0M478.9 316.9h0M493.5 174.3h0M397.4 443.2h0M436.5 336.7h0M491.9 236.1h0M443.0 196.4h0M476.4 244.0h0M478.9 232.7h0M475.6 200.9h0M513.1 198.3h0M477.2 259.1h0M408.8 429.0h0M475.6 237.8h0M474.8 227.0h0M359.1 475.4h0M416.1 413.5h0M418.6 371.9h0M422.7 408.0h0M412.1 422.5h0M494.3 201.5h0M452.8 296.4h0M411.3 397.5h0M371.4 465.7h0M396.6 411.4h0M395.8 411.2h0M368.1 448.1h0M392.5 428.0h0M455.2 315.4h0M373.0 453.6h0"/>
<path stroke="#A58AFF" d="M494.3 152.7h0M455.2 244.3h0M450.3 331.1h0M466.6 322.5h0M418.6 321.5h0M435.7 381.5h0M495.1 151.6h0M407.2 441.3h0M402.3 441.7h0M418.6 370.4h0M495.1 143.9h0M451.2 318.4h0M480.5 195.1h0M461.7 274.3h0M497.6 250.5h0M434.9 430.0h0M456.0 319.3h0M482.9 239.0h0M453.6 282.0h0M342.0 483.8h0M418.6 390.6h0M419.4 329.4h0M434.9 311.6h0M493.5 227.1h0M500.0 161.9h0M493.5 241.4h0M476.4 267.5h0M435.7 215.4h0M440.6 170.8h0M475.6 207.6h0M479.7 210.4h0M500.8 152.6h0M454.4 295.4h0M486.2 196.7h0M452.0 303.3h0M478.9 205.8h0M483.7 171.8h0M437.3 194.0h0M401.5 435.0h0M405.6 346.1h0M383.6 429.8h0M556.6 144.6h0M437.3 291.6h0M434.9 385.6h0M434.9 361.5h0M438.9 351.7h0M403.1 407.2h0M450.3 216.7h0M478.0 339.2h0M505.7 171.8h0M397.4 405.8h0M422.7 346.1h0M360.8 463.0h0M479.7 316.8h0M396.6 443.0h0M491.9 142.6h0M441.4 366.6h0M359.1 462.2h0M434.1 300.6h0M395.8 439.9h0M430.8 380.0h0M434.9 381.2h0M439.8 336.8h0M346.1 462.1h0"/>
<path stroke="#00B6EB" d="M488.6 142.1h0M476.4 331.8h0M434.9 384.6h0M448.7 297.9h0M404.7 442.3h0M447.9 348.4h0M438.1 360.9h0M423.5 361.4h0M412.9 423.3h0M491.9 210.2h0M414.5 278.6h0M443.8 280.6h0M441.4 342.2h0M444.6 279.4h0M457.7 199.4h0M398.2 446.6h0M443.0 226.3h0M475.6 283.4h0M407.2 421.8h0M406.4 355.8h0M510.6 194.3h0M414.5 382.7h0M430.0 293.3h0M393.3 291.3h0M454.4 331.8h0M459.3 317.3h0M479.7 225.0h0M452.8 309.8h0M452.8 228.4h0M387.6 443.1h0M451.2 326.1h0M478.9 216.1h0M438.1 353.6h0M453.6 238.6h0M442.2 296.1h0M452.0 174.9h0M434.9 357.8h0M452.8 205.6h0M410.4 380.8h0M456.0 282.4h0M453.6 288.9h0M401.5 345.4h0M437.3 358.0h0M478.9 187.8h0M387.6 439.8h0M596.5 252.5h0M441.4 263.2h0M368.9 464.5h0M438.1 398.1h0M434.9 381.5h0M437.3 203.5h0M443.8 298.2h0M438.1 374.7h0M481.3 252.6h0M438.9 304.8h0M417.8 377.4h0M483.7 189.1h0M423.5 348.4h0M437.3 358.9h0M434.1 292.1h0M434.9 321.3h0M387.6 398.9h0M403.1 409.5h0M477.2 248.4h0M499.2 172.4h0M360.8 470.8h0M496.8 160.9h0M414.5 357.9h0M446.3 158.1h0M443.8 234.4h0M447.9 278.9h0M437.3 369.0h0M491.9 239.7h0M428.4 301.6h0M434.1 406.7h0M434.9 336.2h0M491.1 240.4h0M378.7 450.0h0M478.9 199.4h0M474.8 244.3h0M456.0 262.4h0M447.1 330.8h0M372.2 430.0h0M383.6 446.7h0M447.1 185.0h0M463.4 212.1h0M475.6 177.3h0M388.5 440.4h0M397.4 430.2h0M397.4 423.5h0M414.5 370.9h0M410.4 336.4h0M363.2 459.4h0M386.8 408.6h0M452.8 288.5h0M482.1 211.1h0M482.9 165.5h0M399.0 405.5h0M417.0 403.5h0M373.0 415.2h0M409.6 372.8h0M333.1 485.5h0M333.1 477.1h0M387.6 411.8h0M419.4 310.1h0M396.6 384.4h0M393.3 374.7h0M434.9 248.4h0M348.5 478.8h0M437.3 265.2h0M391.7 413.8h0M477.2 255.0h0M372.2 446.0h0M436.5 342.6h0M412.1 391.7h0M403.1 382.8h0"/>
<path stroke="#F8766D" d="M396.6 293.4h0M435.7 148.9h0M438.1 233.5h0M357.5 430.4h0M434.9 200.5h0M400.7 288.8h0M399.9 315.3h0M345.3 446.4h0M379.5 401.3h0M413.7 255.2h0M377.9 405.0h0M410.4 250.6h0M414.5 282.7h0M350.2 441.9h0M408.0 236.7h0M454.4 209.8h0M422.7 202.5h0M419.4 330.8h0M376.2 401.2h0M343.7 452.3h0M395.8 313.8h0M388.5 388.4h0M396.6 318.6h0M426.7 210.1h0M411.3 136.1h0M410.4 284.4h0M417.0 311.2h0M394.6 274.5h0M355.9 413.5h0M369.7 392.3h0M399.9 330.4h0M378.7 374.3h0M419.4 332.0h0M387.6 396.4h0M396.6 397.2h0M435.7 220.7h0M396.6 414.9h0M364.0 437.1h0M368.9 409.6h0M389.3 401.2h0M385.2 373.8h0M369.7 405.6h0M403.9 251.4h0M403.9 369.8h0M377.9 401.7h0M394.2 348.6h0M427.5 236.5h0M334.7 472.4h0M338.8 460.5h0M355.9 432.8h0M357.5 449.4h0M339.6 463.6h0M391.7 390.7h0M342.8 455.7h0M395.8 351.5h0M403.9 317.8h0M364.8 454.3h0M346.1 463.7h0M359.1 455.5h0M338.8 466.0h0M381.9 386.1h0M410.4 351.1h0"/>
<path stroke="#FB61D7" d="M494.3 216.8h0M477.2 148.5h0M492.7 166.2h0M434.9 410.3h0M456.9 276.4h0M446.3 358.9h0M489.4 207.9h0M499.2 134.7h0M440.6 371.8h0M447.9 306.2h0M495.1 137.8h0M438.1 384.8h0M451.2 290.5h0M480.5 214.3h0M454.4 296.9h0M412.1 450.1h0M409.6 399.0h0M517.9 189.5h0M506.5 181.1h0M435.7 296.5h0M474.8 213.6h0M396.6 440.9h0M495.1 187.5h0M434.1 367.6h0M427.5 381.4h0M399.0 425.3h0M495.1 256.7h0M443.8 365.7h0M474.8 214.9h0M412.1 280.0h0M397.4 418.3h0M515.5 170.5h0M452.0 261.3h0M497.6 179.3h0M475.6 256.6h0M386.0 452.7h0M393.3 437.1h0M517.1 174.0h0M359.1 471.0h0M476.4 218.7h0M409.6 389.9h0M479.7 226.8h0M402.3 429.9h0M394.2 372.6h0M429.2 373.4h0M370.5 461.4h0M480.5 305.7h0"/>
<path stroke="#53B400" d="M437.3 399.1h0M444.6 349.4h0M428.4 331.8h0M393.3 274.4h0M447.1 266.2h0M406.4 424.2h0M419.4 330.7h0M441.4 227.2h0M439.8 255.7h0M475.6 197.9h0M449.5 310.6h0M416.1 285.2h0M454.4 164.7h0M368.9 417.1h0M349.4 431.5h0M435.7 155.4h0M474.8 200.3h0M442.2 370.7h0M474.8 211.9h0M403.1 340.1h0M443.8 256.7h0M443.8 294.8h0M491.9 152.8h0M459.3 245.3h0M401.5 342.4h0M412.1 260.5h0M362.4 432.8h0M441.4 362.0h0M437.3 186.8h0M424.3 343.2h0M453.6 302.8h0M455.2 327.7h0M373.0 393.4h0M438.1 191.5h0M379.5 415.9h0M409.6 327.6h0M397.4 315.7h0M479.7 244.1h0M447.9 282.0h0M416.1 364.5h0M399.0 426.9h0M417.8 273.5h0M456.9 178.7h0M441.4 274.4h0M390.1 385.8h0M404.7 387.0h0M424.3 317.1h0M390.1 401.4h0M434.1 351.6h0M398.2 330.3h0M451.2 300.1h0M375.4 407.9h0M469.1 271.1h0M412.1 373.5h0M387.6 434.3h0M442.2 280.1h0M354.2 435.3h0M453.6 277.8h0M484.6 167.5h0M387.6 385.7h0M409.6 274.1h0M425.1 336.7h0M396.6 338.1h0M419.4 320.1h0M360.8 465.0h0M457.7 163.1h0M386.8 378.2h0M359.9 466.0h0M344.5 461.8h0M412.9 325.9h0M474.8 193.6h0M412.1 362.5h0M393.3 370.4h0M390.9 430.9h0M434.9 199.8h0M434.1 330.1h0M434.1 139.3h0M350.2 448.5h0M407.2 365.4h0M399.0 336.0h0M368.9 444.5h0M413.7 346.7h0M383.6 399.8h0M414.5 354.0h0M385.2 425.0h0M428.4 389.3h0M361.6 453.4h0M399.9 394.5h0M370.5 459.9h0M387.6 373.5h0M370.5 411.8h0M354.2 470.1h0M352.6 464.3h0M369.7 420.3h0M437.3 281.8h0M434.9 265.2h0M344.5 471.1h0"/>
<path stroke="#A58AFF" d="M497.6 238.9h0M492.7 140.5h0M452.0 156.6h0M440.6 386.9h0M448.7 344.2h0M491.1 144.8h0M505.7 160.0h0M421.8 405.9h0M423.5 358.8h0M435.7 201.2h0M436.5 377.4h0M418.6 378.5h0M476.4 285.9h0M491.1 149.5h0M388.5 458.1h0M424.3 367.7h0M401.5 305.9h0M466.6 173.8h0M491.1 204.2h0M452.0 255.8h0M514.7 166.2h0M409.6 287.0h0M495.1 146.6h0M457.7 337.6h0M406.4 399.9h0M494.3 254.8h0M405.6 397.3h0M413.7 280.7h0M402.3 451.6h0M454.4 299.0h0M429.2 333.2h0M404.7 420.7h0M447.1 331.1h0M452.8 223.6h0M493.5 217.9h0M390.1 421.7h0M491.9 216.1h0M452.0 278.9h0M404.7 349.3h0M379.5 442.8h0M394.2 301.5h0M402.3 426.7h0M509.8 164.5h0M434.1 347.0h0M414.5 377.1h0M477.2 251.3h0M479.7 230.4h0M453.6 301.7h0M377.1 458.0h0M378.7 421.9h0M390.1 418.1h0M417.0 419.0h0M559.0 199.6h0M492.7 243.1h0M475.6 216.1h0M363.2 462.4h0M421.8 388.9h0M496.0 162.3h0M475.6 321.7h0M355.1 474.4h0M434.9 327.8h0M487.8 185.7h0M396.6 342.5h0M408.8 356.5h0M434.9 403.3h0M395.0 431.8h0M451.2 234.4h0M475.6 248.9h0M385.2 427.6h0M438.1 227.6h0M497.6 184.6h0M406.4 296.6h0M367.3 444.9h0M491.1 207.1h0M342.0 480.2h0M441.4 284.4h0M371.4 453.7h0M398.2 427.7h0M331.4 483.9h0M474.8 326.6h0"/>
<path stroke="#00C094" d="M454.4 276.8h0M408.0 322.7h0M392.5 373.8h0M423.5 330.3h0M447.9 281.3h0M441.4 310.9h0M474.8 231.1h0M421.8 211.2h0M444.6 299.0h0M497.6 229.2h0M469.1 282.2h0M434.1 386.8h0M428.4 308.8h0M446.3 293.4h0M487.8 138.0h0M463.4 270.0h0M417.8 361.5h0M438.1 370.9h0M415.3 326.9h0M383.6 448.6h0M466.6 317.5h0M474.0 248.2h0M479.9 353.9h0M452.0 230.1h0M419.4 318.3h0M454.4 343.1h0M480.5 236.7h0M410.4 300.5h0M454.4 198.4h0M454.4 232.8h0M391.7 439.4h0M434.9 246.2h0M434.1 309.3h0M478.9 171.6h0M364.0 440.9h0M434.1 246.1h0M477.2 165.8h0M434.9 227.9h0M377.9 398.2h0M425.9 390.1h0M477.2 213.8h0M419.4 308.6h0M417.8 391.0h0M478.9 148.7h0M496.0 166.6h0M448.7 223.5h0M475.6 220.7h0M410.4 329.5h0M407.2 421.1h0M438.9 206.2h0M409.6 268.9h0M387.6 381.4h0M435.7 252.5h0M447.1 208.9h0M441.4 206.4h0M397.4 328.9h0M479.7 255.5h0M413.7 321.7h0M382.8 402.2h0M418.6 325.6h0M435.7 303.4h0M410.4 308.0h0M436.5 354.0h0M476.4 165.1h0M363.2 463.3h0M398.2 345.7h0M435.7 280.7h0M419.4 391.8h0M399.9 310.7h0M476.4 142.2h0M443.0 282.1h0M479.7 199.4h0M452.0 242.7h0M399.0 358.3h0M461.7 210.0h0M387.6 406.6h0M448.7 222.1h0M396.6 407.7h0M392.5 392.4h0M451.2 269.6h0M478.0 195.5h0M441.4 309.3h0M410.4 311.3h0M412.9 355.3h0M399.0 381.3h0M411.3 319.7h0M411.3 426.3h0M386.0 441.6h0M399.9 332.5h0M476.4 225.1h0M359.1 427.1h0M493.5 208.1h0M451.2 183.5h0M439.8 263.4h0M368.9 467.9h0M492.7 161.8h0M435.7 369.1h0M399.0 400.1h0M443.8 270.6h0M413.7 379.6h0M452.8 356.0h0M386.0 410.6h0M373.0 452.9h0M368.9 428.9h0M451.2 236.7h0M398.2 387.7h0M412.9 372.3h0M398.2 380.7h0M357.5 439.2h0M436.5 290.3h0M369.7 430.2h0M397.4 400.3h0M386.0 433.5h0M385.2 417.1h0M410.4 393.0h0M368.9 446.0h0M372.2 431.7h0M361.6 457.4h0M417.8 322.7h0M396.6 424.4h0M397.4 383.4h0M395.0 384.1h0M443.0 335.6h0M364.8 457.8h0M368.9 446.9h0M403.9 282.4h0M399.0 399.8h0M415.3 394.2h0M395.0 389.0h0M395.8 394.3h0M338.0 477.9h0M412.1 316.9h0"/>
<path stroke="#C49A00" d="M406.4 300.7h0M410.4 161.2h0M435.7 222.8h0M434.1 175.6h0M412.1 237.1h0M413.7 274.7h0M434.1 156.2h0M417.0 297.3h0M409.6 272.3h0M419.4 397.0h0M434.9 235.4h0M368.9 417.7h0M436.5 136.4h0M393.3 267.6h0M450.3 291.1h0M442.2 142.0h0M407.2 350.8h0M417.8 296.1h0M402.3 328.2h0M427.5 326.7h0M390.1 388.9h0M389.3 395.6h0M439.8 253.8h0M456.9 280.4h0M419.4 326.9h0M401.5 319.9h0M420.2 320.2h0M414.5 367.2h0M399.0 334.5h0M452.0 261.6h0M417.0 402.1h0M378.7 386.8h0M417.0 320.3h0M402.3 273.3h0M409.6 265.4h0M438.9 164.9h0M393.3 319.3h0M395.0 316.7h0M363.2 431.7h0M415.3 231.7h0M396.6 315.6h0M404.7 404.2h0M450.3 148.3h0M380.3 406.0h0M412.9 314.7h0M412.1 387.6h0M388.5 407.5h0M354.2 429.0h0M452.8 225.2h0M361.6 459.3h0M406.4 329.0h0M410.4 421.5h0M359.1 457.6h0M345.3 454.3h0M452.8 186.1h0M353.4 446.3h0M434.9 284.6h0M355.9 445.6h0M385.2 393.8h0M355.9 434.8h0M385.2 418.2h0M353.4 443.5h0M399.9 241.0h0M412.1 326.5h0M395.0 295.7h0M390.1 371.4h0M413.7 264.6h0M395.8 383.9h0M333.1 484.2h0M390.1 406.7h0M393.3 373.6h0M386.0 411.3h0M339.6 474.9h0M353.4 467.5h0M333.9 482.0h0M352.6 461.4h0M434.9 195.4h0M425.1 279.4h0M370.5 426.9h0M338.0 480.4h0M346.1 471.7h0"/>
<path stroke="#A58AFF" d="M495.1 207.3h0M441.4 234.7h0M503.3 216.6h0M475.6 141.4h0M422.7 397.1h0M414.5 428.4h0M411.3 428.7h0M434.9 278.9h0M507.4 169.5h0M475.6 366.9h0M412.9 432.0h0M398.2 453.4h0M494.3 168.1h0M502.5 164.5h0M496.0 144.1h0M368.9 465.6h0M434.9 431.0h0M418.6 368.5h0M440.6 316.0h0M482.9 154.2h0M474.8 299.2h0M493.5 135.2h0M481.3 221.7h0M480.5 239.5h0M495.1 184.0h0M492.7 204.0h0M441.4 344.0h0M381.9 447.7h0M447.9 297.5h0M492.7 232.5h0M378.7 447.1h0M446.3 266.6h0M463.4 280.3h0M475.6 316.9h0M512.2 157.7h0M492.7 189.0h0M436.5 384.4h0M425.1 341.8h0M452.0 287.9h0M362.4 463.9h0M387.6 442.9h0M493.5 224.1h0M453.6 260.5h0M452.8 315.1h0M452.0 296.6h0M452.0 200.4h0M438.9 280.3h0M453.6 320.5h0M475.6 240.2h0M339.6 483.8h0M445.5 393.4h0M474.8 158.9h0M484.6 262.3h0M415.3 395.8h0M408.0 402.9h0M434.1 417.2h0M475.6 156.1h0M417.0 374.0h0M393.3 448.5h0M474.8 309.0h0M434.9 337.5h0M438.1 317.0h0M434.1 350.4h0M451.2 262.3h0M434.9 335.9h0M452.0 347.2h0M415.3 400.3h0M440.6 317.7h0M387.6 452.3h0M493.5 173.1h0M434.1 411.5h0M493.5 246.8h0M453.6 320.8h0M437.3 401.7h0M478.9 229.2h0M452.8 145.9h0M434.1 371.3h0M474.8 274.7h0M434.9 352.7h0M408.8 362.1h0M353.4 456.0h0M469.9 227.9h0M363.2 454.2h0M437.3 355.9h0M370.5 451.1h0M368.1 440.5h0M336.3 483.9h0M443.0 331.8h0M421.0 335.7h0"/>
<path stroke="#53B400" d="M342.8 484.0h0M416.1 281.4h0M455.2 295.1h0M442.2 285.4h0M436.5 206.0h0M452.8 134.6h0M434.9 182.3h0M435.7 240.6h0M427.5 274.3h0M403.1 323.1h0M368.9 398.7h0M445.5 192.4h0M445.5 277.4h0M477.2 136.9h0M434.9 225.6h0M483.7 220.9h0M435.7 164.9h0M421.0 385.8h0M477.2 238.6h0M414.5 209.9h0M408.0 283.6h0M439.8 190.6h0M434.1 388.9h0M451.2 308.3h0M427.5 318.3h0M447.9 190.8h0M393.3 299.4h0M424.3 311.7h0M475.6 140.8h0M453.6 184.9h0M451.2 142.9h0M452.0 215.1h0M443.0 313.2h0M406.4 337.2h0M402.3 327.0h0M411.3 302.7h0M440.6 265.7h0M462.6 349.7h0M396.6 325.7h0M368.9 419.5h0M443.0 197.8h0M381.1 403.3h0M478.9 165.9h0M438.9 240.2h0M400.7 353.3h0M454.4 271.1h0M459.3 259.4h0M474.8 175.2h0M344.5 454.0h0M476.4 229.1h0M406.4 338.4h0M399.9 346.3h0M397.4 356.9h0M417.8 291.9h0M421.8 365.8h0M431.6 297.0h0M346.1 442.9h0M374.6 414.9h0M434.1 315.7h0M414.5 342.6h0M410.4 361.5h0M398.2 388.9h0M475.6 226.0h0M407.2 213.0h0M416.1 400.2h0M410.4 348.5h0M450.3 274.2h0M412.1 332.3h0M369.7 415.8h0M355.1 449.5h0M405.6 384.6h0M372.2 453.6h0M344.5 460.3h0M344.5 462.5h0M364.0 456.7h0M397.4 368.7h0M399.0 352.1h0M407.2 327.8h0M438.9 328.9h0M377.9 425.7h0M407.2 383.2h0M412.1 380.5h0M434.1 222.1h0M368.9 421.7h0M435.7 216.9h0M343.7 464.2h0M450.3 202.2h0M386.0 398.2h0M434.9 286.0h0M397.4 376.6h0M395.8 368.2h0M480.5 199.8h0M435.7 318.1h0M387.6 427.2h0M357.5 446.9h0M386.8 395.9h0M352.6 464.9h0M397.4 319.2h0M368.9 429.0h0M343.7 467.2h0M413.7 376.4h0"/>
<path stroke="#00B6EB" d="M441.4 347.1h0M483.7 174.2h0M426.7 342.1h0M503.3 139.1h0M474.0 292.1h0M434.1 397.4h0M391.7 443.7h0M421.8 314.6h0M452.8 186.7h0M381.9 381.9h0M438.1 259.2h0M436.5 393.7h0M494.3 179.9h0M428.4 336.9h0M438.9 247.5h0M409.6 335.3h0M473.2 253.6h0M477.2 138.6h0M438.9 229.1h0M403.9 342.1h0M359.1 427.7h0M487.8 167.6h0M409.6 244.5h0M391.7 426.5h0M420.2 291.2h0M476.4 193.4h0M479.7 232.3h0M480.5 184.5h0M421.0 369.2h0M434.9 296.2h0M438.9 266.4h0M418.6 354.8h0M438.1 205.9h0M405.6 391.3h0M421.0 356.1h0M443.8 326.9h0M481.3 230.6h0M476.4 173.9h0M452.0 184.6h0M414.5 409.6h0M434.1 334.4h0M474.8 287.0h0M482.9 245.0h0M420.2 339.3h0M434.9 363.9h0M399.0 434.9h0M436.5 365.1h0M416.1 384.5h0M438.9 288.1h0M452.0 308.1h0M386.0 454.1h0M377.1 452.0h0M503.3 246.9h0M490.0 304.6h0M447.1 269.7h0M504.9 166.3h0M390.9 434.3h0M435.7 315.2h0M496.8 189.6h0M382.8 413.0h0M447.9 138.5h0M359.9 439.2h0M438.1 316.2h0M446.3 213.8h0M434.1 329.4h0M434.9 327.5h0M360.8 463.7h0M399.9 362.7h0M434.1 258.4h0M436.5 334.1h0M414.5 271.1h0M447.1 322.8h0M421.0 354.5h0M414.5 367.9h0M383.6 411.2h0M368.9 465.2h0M438.1 366.0h0M368.9 462.5h0M397.4 434.3h0M418.6 339.7h0M410.4 394.6h0M413.7 429.3h0M418.6 334.6h0M403.1 407.4h0M476.4 180.9h0M401.5 403.2h0M496.0 173.5h0M481.3 134.1h0M417.8 364.5h0M453.6 196.0h0M413.7 348.0h0M418.6 415.6h0M407.2 378.6h0M452.0 290.6h0M387.6 428.2h0M403.9 369.9h0M412.1 305.9h0M377.1 450.1h0M405.6 366.1h0M435.7 364.5h0M368.9 428.2h0M417.8 340.3h0M373.0 423.7h0M457.7 328.5h0M368.9 438.7h0M442.2 286.4h0M434.9 322.0h0M421.8 211.8h0M412.1 335.9h0M349.4 465.6h0M482.1 213.2h0M395.0 401.3h0M419.4 382.6h0M398.2 402.4h0M405.6 395.2h0M437.3 204.2h0M344.5 475.2h0M343.7 481.5h0M332.3 483.5h0M492.7 222.9h0M394.2 415.3h0M393.3 425.3h0M417.0 338.6h0M474.8 147.0h0"/>
<path stroke="#00C094" d="M448.7 327.1h0M496.0 258.0h0M407.2 309.4h0M438.9 272.3h0M442.2 317.8h0M436.5 264.0h0M441.4 217.7h0M478.9 291.4h0M441.4 355.5h0M441.4 269.0h0M413.7 287.7h0M364.0 467.1h0M477.2 151.8h0M443.0 364.0h0M428.4 273.6h0M428.4 378.3h0M405.6 381.0h0M396.6 439.3h0M476.4 196.4h0M423.5 341.5h0M393.3 450.6h0M489.4 222.8h0M474.8 196.4h0M420.2 299.1h0M453.6 238.6h0M477.2 171.7h0M436.5 332.9h0M434.9 287.7h0M434.9 193.3h0M474.8 207.7h0M482.9 186.4h0M457.7 281.9h0M477.2 332.5h0M452.0 328.9h0M436.5 234.3h0M500.0 176.3h0M443.0 239.7h0M456.9 157.8h0M417.8 297.8h0M477.2 249.3h0M419.4 364.6h0M390.1 435.1h0M451.2 245.0h0M438.9 304.3h0M447.1 265.4h0M435.7 413.0h0M438.1 293.4h0M475.6 203.1h0M478.9 144.1h0M368.9 413.9h0M415.3 309.1h0M452.8 289.6h0M394.2 445.0h0M442.2 352.5h0M399.0 417.8h0M435.7 262.1h0M411.3 404.4h0M399.0 354.0h0M383.6 444.3h0M417.0 339.9h0M435.7 333.2h0M427.5 266.2h0M439.8 223.3h0M421.8 375.9h0M386.8 376.1h0M452.0 235.9h0M450.3 218.1h0M438.1 358.3h0M454.4 305.3h0M414.5 319.1h0M364.8 459.9h0M436.5 237.0h0M393.3 327.5h0M367.3 412.6h0M396.6 362.9h0M434.9 237.2h0M357.5 436.9h0M401.5 338.6h0M357.5 456.0h0M365.7 450.5h0M395.8 439.9h0M353.4 476.1h0M409.6 372.9h0M422.7 278.0h0M403.9 398.2h0M480.5 166.0h0M436.5 329.3h0M419.4 400.3h0M386.0 448.5h0M476.4 217.3h0M459.3 275.4h0M500.8 151.9h0M399.9 402.3h0M416.1 315.2h0M445.5 180.7h0M399.9 355.9h0M421.8 339.4h0M451.2 295.0h0M411.3 358.5h0M396.6 379.7h0M410.4 349.2h0M386.0 437.6h0M389.3 410.6h0M372.2 420.2h0M439.8 280.3h0M415.3 356.6h0M353.4 454.5h0M380.3 431.8h0M465.0 251.4h0M475.6 151.7h0M346.9 461.8h0M351.0 470.0h0M356.7 469.3h0M355.9 461.4h0M421.8 295.0h0M368.1 450.9h0M387.6 416.8h0M395.8 440.3h0M333.9 482.0h0M388.5 404.6h0M337.1 484.9h0M393.3 418.9h0M412.1 329.8h0M411.3 298.2h0M400.7 333.6h0M401.5 379.3h0M456.9 203.9h0M368.9 434.3h0M370.5 422.3h0M368.9 446.8h0"/>
<path stroke="#F8766D" d="M378.7 380.8h0M368.9 391.3h0M343.7 452.7h0M372.2 403.5h0M365.7 431.5h0M393.3 300.0h0M415.3 261.9h0M356.7 413.4h0M360.8 421.2h0M419.4 232.0h0M422.7 234.0h0M391.7 381.3h0M388.5 366.8h0M382.8 368.8h0M465.0 217.6h0M391.7 364.4h0M386.8 343.2h0M364.8 429.5h0M409.6 285.0h0M350.2 440.8h0M351.8 410.8h0M407.2 329.6h0M372.2 407.2h0M413.7 223.6h0M399.9 335.4h0M355.9 422.0h0M346.1 450.4h0M361.6 425.1h0M395.8 300.4h0M395.0 338.8h0M346.9 451.0h0M395.0 306.0h0M387.6 392.2h0M410.4 300.5h0M397.4 405.9h0M344.5 459.7h0M399.9 390.9h0M414.5 282.5h0M436.5 206.5h0M414.5 260.9h0M387.6 372.4h0M393.3 352.0h0M368.1 439.7h0M359.9 456.4h0M393.3 375.9h0M339.6 467.1h0M414.5 394.7h0M415.3 308.8h0M340.4 457.6h0M397.4 374.5h0M412.1 330.2h0M415.3 254.0h0M410.4 240.1h0M413.7 288.2h0M434.1 172.5h0M352.6 468.2h0M381.1 369.0h0M339.6 477.1h0"/>
<path stroke="#FB61D7" d="M437.3 414.1h0M412.1 419.3h0M418.6 380.4h0M372.2 462.5h0M447.9 377.4h0M415.3 409.5h0M420.2 372.9h0M463.4 312.0h0M637.9 201.8h0M442.2 237.5h0M423.5 423.7h0M504.1 189.4h0M451.2 205.6h0M462.6 315.5h0M500.8 147.5h0M418.6 399.7h0M475.6 209.3h0M463.4 250.7h0M452.0 338.8h0M416.1 334.9h0M438.1 300.2h0M387.6 438.3h0M427.5 367.9h0M511.4 148.3h0M416.1 415.9h0M435.7 349.0h0M434.1 324.5h0M434.1 365.1h0M436.5 317.0h0M492.7 221.0h0M401.5 366.1h0M408.0 400.2h0M423.5 392.3h0M477.2 307.1h0M411.3 331.6h0M478.9 243.6h0M439.8 325.4h0M402.3 414.2h0M414.5 420.0h0M405.6 400.4h0M465.0 342.3h0M436.5 313.6h0M405.6 409.6h0M404.7 372.8h0M434.9 373.0h0M373.0 408.8h0M495.1 221.9h0M382.8 440.1h0M330.6 484.3h0"/>
<path stroke="#C49A00" d="M409.6 274.5h0M409.6 269.1h0M414.5 284.5h0M393.3 239.2h0M404.7 291.4h0M405.6 378.0h0M364.0 428.7h0M425.1 303.6h0M407.2 287.8h0M435.7 204.8h0M421.8 296.0h0M450.3 150.7h0M383.6 410.8h0M405.6 304.9h0M354.2 429.5h0M401.5 307.8h0M412.1 211.7h0M333.9 469.8h0M342.0 448.0h0M405.6 423.3h0M396.6 348.1h0M405.6 303.3h0M441.4 309.7h0M404.7 279.1h0M394.2 302.9h0M434.9 339.6h0M362.4 429.0h0M434.9 197.4h0M418.6 375.1h0M394.2 236.8h0M435.7 307.9h0M368.9 425.7h0M456.9 212.8h0M443.0 231.5h0M424.3 375.8h0M403.1 360.0h0M408.0 329.0h0M393.3 336.7h0M409.6 272.7h0M434.9 190.8h0M349.4 435.0h0M399.0 394.2h0M375.4 399.0h0M401.5 394.7h0M392.5 395.8h0M376.2 409.0h0M340.4 461.5h0M350.2 450.6h0M410.4 356.5h0M396.6 352.7h0M381.1 391.6h0M355.9 436.2h0M375.4 444.3h0M359.1 465.3h0M387.6 429.0h0M408.8 264.3h0M418.6 348.9h0M349.4 459.9h0M474.8 150.1h0M388.5 377.7h0M372.2 401.0h0M412.1 266.1h0M368.9 420.1h0M368.9 444.8h0M412.9 398.2h0M338.0 467.9h0M390.9 395.6h0M394.2 340.1h0M339.6 467.1h0M395.0 350.7h0M339.6 481.2h0M351.8 458.7h0M337.1 468.2h0M355.1 465.2h0M338.0 472.7h0M336.3 480.1h0"/>
<path stroke="#00C094" d="M420.2 318.9h0M447.1 273.8h0M491.1 154.2h0M443.8 267.3h0M361.6 433.7h0M426.7 327.5h0M476.4 236.5h0M428.4 323.2h0M448.7 231.6h0M435.7 206.8h0M438.9 212.1h0M474.8 233.4h0M381.1 449.7h0M421.0 336.0h0M452.8 213.5h0M452.8 211.4h0M407.2 356.7h0M462.6 207.5h0M452.8 219.1h0M434.1 393.8h0M420.2 255.0h0M438.9 291.8h0M394.2 244.5h0M419.4 367.5h0M434.9 203.8h0M403.9 364.4h0M434.1 259.1h0M403.1 427.3h0M475.6 201.1h0M419.4 344.2h0M414.5 295.9h0M399.9 342.2h0M476.4 140.2h0M434.9 246.7h0M476.4 184.6h0M409.6 332.3h0M450.3 264.2h0M424.3 305.8h0M478.0 152.7h0M451.2 268.5h0M387.6 439.4h0M398.2 359.1h0M439.8 327.6h0M477.2 156.1h0M442.2 291.0h0M411.3 315.9h0M439.8 342.7h0M394.2 275.1h0M402.3 399.8h0M388.5 457.4h0M434.1 288.7h0M451.2 299.4h0M414.5 345.9h0M416.1 401.2h0M410.4 433.9h0M416.1 418.9h0M418.6 392.6h0M421.0 417.4h0M389.3 422.4h0M410.4 324.1h0M437.3 306.5h0M476.4 249.3h0M360.8 441.7h0M459.3 262.6h0M372.2 461.3h0M452.8 271.3h0M441.4 267.1h0M451.2 152.6h0M379.5 450.1h0M390.9 392.1h0M434.9 316.6h0M434.9 260.5h0M460.9 327.6h0M372.2 460.1h0M418.6 363.3h0M399.0 404.6h0M364.0 457.1h0M413.7 320.6h0M416.1 340.8h0M340.4 465.0h0M405.6 416.1h0M397.4 417.4h0M416.1 320.1h0M407.2 371.4h0M434.9 285.8h0M415.3 357.6h0M393.3 307.5h0M436.5 259.6h0M400.7 354.1h0M435.7 289.7h0M421.0 284.8h0M399.0 409.7h0M395.0 342.7h0M412.1 325.0h0M369.7 460.3h0M437.3 344.8h0M369.7 404.3h0M401.5 380.1h0M398.2 436.1h0M363.2 453.5h0M386.8 368.9h0M450.3 197.1h0M395.8 341.3h0M375.4 429.5h0M405.6 375.8h0M476.4 250.7h0M368.9 439.4h0M416.1 290.9h0M355.1 437.8h0M391.7 416.4h0M398.2 339.0h0M387.6 404.2h0M429.2 316.0h0M421.8 256.8h0M435.7 168.1h0M399.9 413.4h0M453.6 246.9h0M439.8 256.5h0M390.1 426.8h0M400.7 415.5h0M489.4 182.2h0M333.9 477.4h0M386.0 384.1h0M410.4 373.5h0M398.2 360.9h0M368.9 442.1h0M368.9 411.9h0M452.8 267.6h0M395.0 353.7h0M405.6 373.3h0M373.8 420.6h0M370.5 448.0h0M396.6 368.3h0M386.8 390.7h0M399.0 336.5h0M374.6 419.2h0M474.8 222.7h0M379.5 444.2h0"/>
<path stroke="#C49A00" d="M373.0 400.9h0M404.7 297.0h0M435.7 143.1h0M434.9 170.2h0M404.7 301.4h0M377.1 410.3h0M493.5 160.7h0M434.9 205.8h0M412.9 301.1h0M438.1 181.0h0M456.9 224.7h0M409.6 291.3h0M440.6 237.4h0M444.6 227.4h0M405.6 373.6h0M407.2 313.3h0M434.9 220.0h0M398.2 335.2h0M411.3 262.4h0M419.4 255.7h0M370.5 395.9h0M344.5 449.0h0M416.1 339.3h0M412.9 319.3h0M415.3 246.5h0M424.3 367.3h0M385.2 382.9h0M415.3 329.6h0M475.6 149.7h0M453.6 243.3h0M361.6 419.5h0M388.5 398.5h0M451.2 223.3h0M452.8 226.4h0M390.9 409.2h0M440.6 170.2h0M410.4 206.1h0M410.4 320.2h0M438.1 221.3h0M382.8 416.7h0M375.4 390.2h0M410.4 337.2h0M387.6 382.2h0M399.9 389.9h0M360.8 459.8h0M412.1 352.7h0M376.2 395.2h0M434.9 216.5h0M434.9 308.0h0M371.4 410.8h0M374.6 419.9h0M364.8 418.2h0M401.5 324.4h0M478.0 193.3h0M371.4 415.9h0M385.2 395.4h0M394.2 342.9h0M394.2 288.6h0M370.5 403.4h0M396.6 371.2h0M465.0 249.7h0M424.3 315.9h0M344.5 462.0h0M443.8 312.5h0M368.9 433.5h0M368.9 454.5h0M384.4 385.0h0M417.0 331.4h0M341.2 452.0h0M386.8 406.6h0M337.1 467.9h0M374.6 443.1h0M338.8 468.0h0M352.6 460.2h0M374.6 414.9h0M375.4 400.5h0M385.2 423.2h0M434.1 251.0h0M375.4 417.3h0M385.2 398.2h0M338.0 473.6h0M373.0 403.0h0M393.3 393.1h0M437.3 159.0h0M368.9 450.1h0M389.3 385.9h0"/>
<path stroke="#A58AFF" d="M412.9 433.1h0M410.4 428.6h0M420.2 420.5h0M475.6 264.1h0M456.9 300.7h0M404.7 343.0h0M442.2 336.2h0M516.3 144.3h0M491.1 217.2h0M486.2 256.9h0M449.5 316.1h0M495.1 153.8h0M404.7 379.3h0M491.9 227.2h0M403.1 416.1h0M443.8 274.5h0M438.1 322.8h0M434.9 240.6h0M420.2 391.7h0M495.1 157.7h0M453.6 255.0h0M391.7 407.1h0M414.5 389.0h0M383.6 442.3h0M424.3 353.2h0M480.5 260.4h0M456.0 194.3h0M494.3 134.8h0M475.6 264.8h0M402.3 429.2h0M478.9 250.9h0M458.5 229.3h0M493.5 198.7h0M491.9 192.3h0M452.0 351.4h0M476.4 134.4h0M493.5 150.9h0M475.6 178.6h0M381.1 428.7h0M477.2 212.1h0M478.0 313.1h0M397.4 451.2h0M427.5 334.1h0M451.2 287.0h0M419.4 287.1h0M434.9 399.2h0M456.0 348.8h0M478.9 189.6h0M483.7 272.1h0M475.6 195.6h0M476.4 276.5h0M403.1 397.2h0M424.3 402.0h0M362.4 463.4h0M418.6 305.8h0M475.6 255.8h0M439.8 340.7h0M398.2 348.2h0M478.9 159.7h0M401.5 439.1h0M517.1 148.3h0M364.0 443.0h0M458.5 266.0h0M360.8 454.3h0M383.6 446.7h0M448.7 328.9h0M451.2 333.3h0M349.4 480.0h0M359.1 468.9h0M400.7 388.1h0M396.6 443.6h0M475.6 289.5h0M398.2 393.6h0M434.9 306.0h0M386.8 416.3h0M353.4 475.0h0M424.3 330.4h0M355.9 472.8h0M416.1 388.8h0M417.8 372.4h0M401.5 395.5h0M393.3 374.0h0M398.2 386.5h0M394.2 326.7h0M373.0 440.6h0M333.1 483.8h0M415.3 424.6h0M415.3 397.2h0"/>
<path stroke="#00B6EB" d="M483.7 252.2h0M478.9 255.6h0M438.1 219.5h0M440.6 312.2h0M434.9 220.0h0M450.3 272.8h0M455.2 330.9h0M434.9 187.9h0M438.9 321.9h0M355.9 424.5h0M424.3 346.4h0M502.5 163.9h0M421.0 376.6h0M494.3 167.7h0M406.4 393.4h0M416.1 303.5h0M452.8 366.2h0M455.2 234.9h0M399.0 433.3h0M409.6 428.5h0M476.4 298.0h0M368.1 463.0h0M494.3 164.6h0M414.5 407.5h0M458.5 257.5h0M455.2 217.3h0M415.3 411.3h0M390.1 442.8h0M475.6 247.4h0M420.2 353.1h0M491.9 243.4h0M493.5 208.1h0M378.7 452.6h0M457.7 309.8h0M414.5 423.6h0M387.6 447.8h0M474.8 134.3h0M416.1 300.5h0M391.7 407.7h0M435.7 245.0h0M444.6 279.6h0M417.8 233.2h0M417.8 221.3h0M403.1 376.2h0M452.8 231.0h0M403.1 337.8h0M403.1 415.9h0M491.9 168.2h0M408.0 430.0h0M453.6 339.6h0M448.7 149.9h0M478.0 261.0h0M437.3 209.2h0M435.7 343.0h0M403.9 417.7h0M414.5 373.8h0M434.9 286.8h0M447.9 275.0h0M399.0 434.6h0M411.3 413.0h0M383.6 433.1h0M428.4 320.8h0M411.3 397.4h0M402.3 405.6h0M411.3 401.6h0M492.7 147.9h0M377.1 400.1h0M435.7 342.6h0M451.2 251.8h0M398.2 422.8h0M436.5 346.1h0M375.4 444.0h0M409.6 269.3h0M435.7 323.1h0M381.9 419.4h0M399.0 358.2h0M438.9 353.0h0M441.4 282.3h0M397.4 397.9h0M411.3 308.0h0M465.0 335.1h0M397.4 443.1h0M398.2 427.2h0M410.4 361.4h0M439.8 329.7h0M450.3 195.6h0M363.2 437.4h0M475.6 218.4h0M381.9 415.4h0M411.3 339.9h0M413.7 323.1h0M512.2 143.6h0M387.6 416.0h0M491.9 174.8h0M491.9 219.8h0M371.4 444.2h0M369.7 443.1h0M443.0 184.2h0M494.3 193.1h0M393.3 424.4h0M359.9 463.4h0M390.9 403.3h0M434.9 263.3h0M418.6 339.1h0M363.2 461.2h0M396.6 324.1h0"/>
<path stroke="#F8766D" d="M357.5 410.2h0M417.8 302.1h0M368.9 415.9h0M417.8 302.2h0M415.3 251.5h0M396.6 322.7h0M351.0 430.9h0M365.7 418.2h0M438.1 296.6h0M418.6 331.2h0M407.2 378.1h0M362.4 444.1h0M334.7 473.6h0M420.2 292.6h0M434.9 271.0h0M352.6 430.8h0M413.7 223.6h0M411.3 298.1h0M386.0 344.0h0M399.9 317.3h0M364.0 418.1h0M416.1 297.7h0M409.6 207.6h0M390.9 371.6h0M404.7 304.3h0M412.1 190.2h0M403.1 331.5h0M354.2 436.4h0M397.4 395.1h0M338.0 461.3h0M403.1 275.7h0M335.5 476.2h0M381.9 418.5h0M354.2 442.4h0M408.8 340.0h0M396.6 326.3h0M348.5 454.5h0M373.8 432.1h0M354.2 431.1h0M341.2 467.3h0M389.3 348.9h0M415.3 331.3h0M355.9 452.6h0M399.9 348.6h0M358.3 444.3h0M393.3 385.8h0M349.4 470.7h0M342.0 469.4h0M332.3 478.4h0M385.2 423.2h0M351.0 468.9h0"/>
<path stroke="#53B400" d="M467.5 251.8h0M440.6 272.3h0M455.2 269.2h0M455.2 288.6h0M421.8 403.1h0M417.8 368.6h0M408.0 314.1h0M434.1 186.8h0M491.1 152.6h0M476.4 289.0h0M455.2 141.3h0M449.5 145.4h0M397.4 316.7h0M381.1 426.7h0M438.9 377.5h0M392.5 379.6h0M404.7 357.9h0M402.3 333.7h0M475.6 153.9h0M417.8 319.7h0M466.6 186.0h0M447.1 315.5h0M353.4 430.4h0M476.4 179.5h0M394.2 328.9h0M368.9 393.1h0M407.2 420.2h0M434.1 270.3h0M477.2 216.1h0M410.4 332.7h0M410.4 324.1h0M450.3 283.9h0M410.4 241.7h0M411.3 400.4h0M450.3 179.7h0M363.2 461.0h0M436.5 333.5h0M456.0 236.4h0M392.5 431.2h0M452.8 227.8h0M451.2 276.8h0M410.4 300.2h0M434.1 181.3h0M434.1 282.4h0M434.9 314.3h0M399.0 378.5h0M434.9 256.8h0M451.2 295.1h0M409.6 354.1h0M398.2 407.1h0M412.1 351.6h0M397.4 410.3h0M368.9 468.5h0M465.0 149.3h0M350.2 455.2h0M422.7 382.7h0M395.0 268.2h0M439.8 265.8h0M402.3 286.6h0M419.4 346.2h0M394.2 321.2h0M438.9 236.9h0M360.8 452.6h0M375.4 425.7h0M386.8 419.3h0M389.3 413.3h0M446.3 271.3h0M406.4 336.5h0M390.9 386.6h0M442.2 271.4h0M407.2 359.6h0M482.1 193.4h0M416.1 376.1h0M394.2 390.3h0M392.5 378.4h0M435.7 314.9h0M369.7 436.1h0M386.8 408.8h0M395.8 371.6h0M418.6 405.5h0M411.3 328.8h0M437.3 249.4h0M369.7 443.7h0M395.0 376.0h0M455.2 151.9h0M349.4 460.9h0"/>
<path stroke="#FB61D7" d="M476.4 232.2h0M453.6 355.1h0M477.2 305.7h0M378.7 458.6h0M452.0 342.1h0M410.4 426.6h0M489.4 156.4h0M450.3 339.8h0M456.9 272.4h0M417.0 428.2h0M441.4 383.2h0M491.9 187.0h0M400.7 437.8h0M497.6 194.0h0M390.1 442.4h0M343.7 483.2h0M396.6 439.9h0M437.3 324.8h0M397.4 442.6h0M491.1 247.3h0M413.7 410.1h0M477.2 251.9h0M454.4 336.8h0M501.7 178.6h0M487.8 229.6h0M408.8 410.6h0M447.1 298.7h0M388.5 445.8h0M386.8 450.2h0M359.1 475.1h0M406.4 424.8h0M509.8 190.6h0M438.9 389.7h0M506.5 144.6h0M493.5 197.8h0M495.1 159.7h0M396.6 455.4h0M434.9 387.9h0M357.5 465.0h0M412.9 385.8h0M417.8 418.5h0M484.6 257.6h0M452.0 285.2h0M395.8 436.8h0M335.5 478.4h0M377.1 444.9h0M476.4 240.9h0M385.2 460.2h0M411.3 390.4h0"/>
</g>
<path d="M311.9 502.9v1.5M393.3 502.9v1.5M474.8 502.9v1.5M556.2 502.9v1.5M637.7 502.9v1.5M719.1 502.9v1.5M308.3 492.3h-1.6M308.3 397.1h-1.6M308.3 302.0h-1.6M308.3 206.8h-1.6" stroke="#333" stroke-width="0.6" fill="none"/>
<g font-size="7.15" fill="#4d4d4d">
<text x="311.9" y="511.8" text-anchor="middle">0</text>
<text x="393.3" y="511.8" text-anchor="middle">1</text>
<text x="474.8" y="511.8" text-anchor="middle">2</text>
<text x="556.2" y="511.8" text-anchor="middle">3</text>
<text x="637.7" y="511.8" text-anchor="middle">4</text>
<text x="719.1" y="511.8" text-anchor="middle">5</text>
<text x="305.1" y="494.8" text-anchor="end">0</text>
<text x="305.1" y="399.6" text-anchor="end">5000</text>
<text x="305.1" y="304.5" text-anchor="end">10000</text>
<text x="305.1" y="209.3" text-anchor="end">15000</text>
</g>
<g font-size="8.8" fill="#000">
<text x="523.8" y="520.9" text-anchor="middle">carat</text>
<text transform="translate(279.6 309.4) rotate(-90)" text-anchor="middle">price</text>
<text x="749.3" y="276.6">color</text>
</g>
<g font-size="6.9" fill="#000">
<rect x="749.6" y="279.12" width="9.6" height="10.17" fill="#f2f2f2"/>
<circle cx="754.3" cy="284.20" r="2.55" fill="#F8766D" fill-opacity="0.62"/>
<text x="761.3" y="286.70">D</text>
<rect x="749.6" y="289.29" width="9.6" height="10.17" fill="#f2f2f2"/>
<circle cx="754.3" cy="294.37" r="2.55" fill="#C49A00" fill-opacity="0.62"/>
<text x="761.3" y="296.87">E</text>
<rect x="749.6" y="299.46" width="9.6" height="10.17" fill="#f2f2f2"/>
<circle cx="754.3" cy="304.54" r="2.55" fill="#53B400" fill-opacity="0.62"/>
<text x="761.3" y="307.04">F</text>
<rect x="749.6" y="309.63" width="9.6" height="10.17" fill="#f2f2f2"/>
<circle cx="754.3" cy="314.71" r="2.55" fill="#00C094" fill-opacity="0.62"/>
<text x="761.3" y="317.21">G</text>
<rect x="749.6" y="319.80" width="9.6" height="10.17" fill="#f2f2f2"/>
<circle cx="754.3" cy="324.88" r="2.55" fill="#00B6EB" fill-opacity="0.62"/>
<text x="761.3" y="327.38">H</text>
<rect x="749.6" y="329.97" width="9.6" height="10.17" fill="#f2f2f2"/>
<circle cx="754.3" cy="335.05" r="2.55" fill="#A58AFF" fill-opacity="0.62"/>
<text x="761.3" y="337.55">I</text>
<rect x="749.6" y="340.14" width="9.6" height="10.17" fill="#f2f2f2"/>
<circle cx="754.3" cy="345.22" r="2.55" fill="#FB61D7" fill-opacity="0.62"/>
<text x="761.3" y="347.72">J</text>
</g>
</svg>
</div>
<div id="sb"><div id="sbt"></div><svg class="abs" style="left:0;top:0" width="10" height="476"><path d="M2.2 6.8 L5.2 3.7 L8.2 6.8 Z" fill="#7a7a7a"/><path d="M2.2 469.3 L5.4 472.6 L8.6 469.3 Z" fill="#3c3c3c"/></svg></div>
</div></body></html>
